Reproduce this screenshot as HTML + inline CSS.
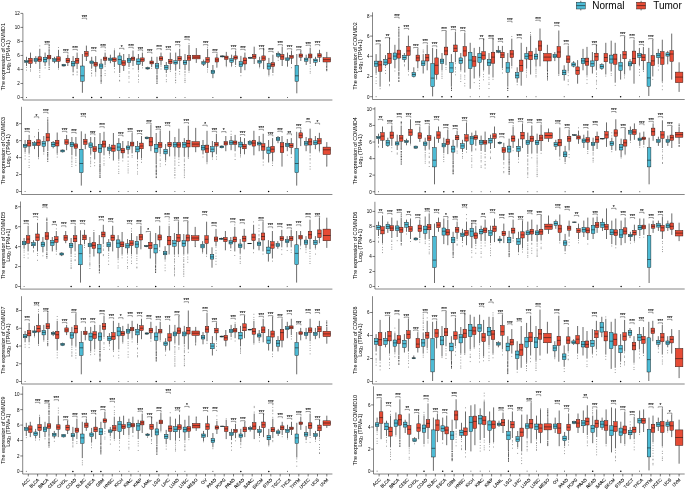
<!DOCTYPE html>
<html><head><meta charset="utf-8"><title>COMMD expression</title>
<style>
html,body{margin:0;padding:0;background:#fff;}
body{width:685px;height:490px;overflow:hidden;font-family:"Liberation Sans",sans-serif;}
svg{display:block;will-change:transform}
svg text{font-family:"Liberation Sans",sans-serif;fill:#111}
.ax{stroke:#222;stroke-width:0.55;fill:none}
.tk{stroke:#222;stroke-width:0.6}
.tl{font-size:45px;fill:#000}
.yt{font-size:53px;fill:#000}
.xl{font-size:44px;fill:#000;stroke:#000;stroke-width:1}
.w{stroke:#111;stroke-width:0.62;fill:none}
.o{stroke:#000;stroke-opacity:0.9;stroke-width:1.0;stroke-linecap:round;fill:none}
.p{stroke-opacity:0.55;stroke-width:0.9}
.b{stroke:#111;stroke-width:0.42}
.m{stroke:#111;stroke-width:0.55;fill:none}
.br{stroke:#111;stroke-width:0.42;fill:none}
.st{font-size:47px;fill:#000;stroke:#000;stroke-width:0.8}
.lg{font-size:10px;fill:#000}
</style></head><body>
<svg width="685" height="490" viewBox="0 0 685 490">
<rect width="685" height="490" fill="#fff"/>
<line x1="22.9" x2="22.9" y1="13.4" y2="100" class="ax"/>
<line x1="22.9" x2="332.4" y1="100" y2="100" class="ax"/>
<line x1="20.5" x2="22.9" y1="97.5" y2="97.5" class="tk"/>
<text transform="translate(19.8,99.4) scale(0.1)" class="tl" text-anchor="end">0</text>
<line x1="20.5" x2="22.9" y1="83.48" y2="83.48" class="tk"/>
<text transform="translate(19.8,85.38) scale(0.1)" class="tl" text-anchor="end">2</text>
<line x1="20.5" x2="22.9" y1="69.46" y2="69.46" class="tk"/>
<text transform="translate(19.8,71.36) scale(0.1)" class="tl" text-anchor="end">4</text>
<line x1="20.5" x2="22.9" y1="55.44" y2="55.44" class="tk"/>
<text transform="translate(19.8,57.34) scale(0.1)" class="tl" text-anchor="end">6</text>
<line x1="20.5" x2="22.9" y1="41.42" y2="41.42" class="tk"/>
<text transform="translate(19.8,43.32) scale(0.1)" class="tl" text-anchor="end">8</text>
<line x1="20.5" x2="22.9" y1="27.4" y2="27.4" class="tk"/>
<text transform="translate(19.8,29.3) scale(0.1)" class="tl" text-anchor="end">10</text>
<line x1="20.5" x2="22.9" y1="13.38" y2="13.38" class="tk"/>
<text transform="translate(19.8,15.28) scale(0.1)" class="tl" text-anchor="end">12</text>
<text transform="translate(5.4,56.7) rotate(-90) scale(0.1)" class="yt" text-anchor="middle">The expression of COMMD1</text>
<text transform="translate(10.4,56.7) rotate(-90) scale(0.1)" class="yt" text-anchor="middle">Log<tspan dy="10" font-size="36">2</tspan><tspan dy="-10"> (TPM+1)</tspan></text>
<path class="o p" d="M26.5 67.4h0M26.5 70.1h0"/><path class="w" d="M26.5 56.8V60.5M26.5 62.5V66"/><rect x="24.7" y="60.5" width="3.6" height="2" fill="#4DBBD5" class="b"/><path class="m" d="M24.7 61.5h3.6"/>
<path class="o p" d="M30.5 69.8h0M30.5 71.1h0"/><path class="w" d="M30.5 52.6V58.2M30.5 63.5V68.1"/><rect x="28.7" y="58.2" width="3.6" height="5.3" fill="#E64B35" class="b"/><path class="m" d="M28.7 60.9h3.6"/>
<path class="o" style="stroke-opacity:0.75" d="M26.5 97.5h0"/>
<path class="w" d="M35.8 56.1V58.2M35.8 61.5V63.9"/><rect x="34" y="58.2" width="3.6" height="3.3" fill="#4DBBD5" class="b"/><path class="m" d="M34 60h3.6"/>
<path class="o p" d="M39.8 45.9h0M39.8 70.4h0M39.8 72.3h0M39.8 75.7h0M39.8 77.3h0"/><path class="w" d="M39.8 48.8V56.8M39.8 61.5V69.1"/><rect x="38" y="56.8" width="3.6" height="4.7" fill="#E64B35" class="b"/><path class="m" d="M38 59.3h3.6"/>
<path class="o p" d="M45.1 67.9h0"/><path class="w" d="M45.1 52.6V57.3M45.1 62V66"/><rect x="43.3" y="57.3" width="3.6" height="4.7" fill="#4DBBD5" class="b"/><path class="m" d="M43.3 59.5h3.6"/>
<path class="o" d="M49.1 50.2h0M49.1 49h0M49.1 47.4h0M49.1 45.8h0M49.1 64.3h0M49.1 65.8h0M49.1 67.6h0M49.1 69.4h0"/><path class="w" d="M49.1 50.5V55.2M49.1 58.9V63.9"/><rect x="47.3" y="55.2" width="3.6" height="3.7" fill="#E64B35" class="b"/><path class="m" d="M47.3 57.1h3.6"/>
<path d="M44.9 44.9v-.8h4.4v1.5" class="br"/>
<text transform="translate(47.14,44.82) scale(0.1)" class="st" text-anchor="middle">***</text>
<path class="w" d="M54.5 56.8V58.7M54.5 61.3V63.2"/><rect x="52.7" y="58.7" width="3.6" height="2.7" fill="#4DBBD5" class="b"/><path class="m" d="M52.7 59.9h3.6"/>
<path class="o p" d="M58.5 47.5h0M58.5 69.1h0"/><path class="w" d="M58.5 49.8V56.8M58.5 61.3V68.1"/><rect x="56.7" y="56.8" width="3.6" height="4.5" fill="#E64B35" class="b"/><path class="m" d="M56.7 59.1h3.6"/>
<path class="w" d="M63.8 63.9V64.4M63.8 66V66.4"/><rect x="62" y="64.4" width="3.6" height="1.6" fill="#4DBBD5" class="b"/><path class="m" d="M62 65.3h3.6"/>
<path class="w" d="M67.8 54.7V58.2M67.8 62.7V66"/><rect x="66" y="58.2" width="3.6" height="4.5" fill="#E64B35" class="b"/><path class="m" d="M66 60.5h3.6"/>
<path d="M63.6 53v-.8h4.4v1.5" class="br"/>
<text transform="translate(65.78,52.88) scale(0.1)" class="st" text-anchor="middle">***</text>
<path class="o p" d="M73.1 74.3h0M73.1 74.9h0"/><path class="w" d="M73.1 56.1V61.5M73.1 66V72.3"/><rect x="71.3" y="61.5" width="3.6" height="4.5" fill="#4DBBD5" class="b"/><path class="m" d="M71.3 63.6h3.6"/>
<path class="o p" d="M77.1 71.3h0M77.1 72.6h0M77.1 74.8h0"/><path class="w" d="M77.1 52.6V58.2M77.1 63.4V69.1"/><rect x="75.3" y="58.2" width="3.6" height="5.1" fill="#E64B35" class="b"/><path class="m" d="M75.3 60.7h3.6"/>
<path class="o" style="stroke-opacity:1;stroke-width:1.5" d="M73.1 97.5h0"/>
<path d="M72.9 50.2v-.8h4.4v1.5" class="br"/>
<text transform="translate(75.1,50.08) scale(0.1)" class="st" text-anchor="middle">***</text>
<path class="w" d="M82.4 54V66M82.4 81.2V92.8"/><rect x="80.6" y="66" width="3.6" height="15.2" fill="#4DBBD5" class="b"/><path class="m" d="M80.6 75.8h3.6"/>
<path class="w" d="M86.4 45.6V51.4M86.4 56.3V61"/><rect x="84.6" y="51.4" width="3.6" height="4.9" fill="#E64B35" class="b"/><path class="m" d="M84.6 53.8h3.6"/>
<path d="M82.2 19v-.8h4.4v1.5" class="br"/>
<text transform="translate(84.43,18.88) scale(0.1)" class="st" text-anchor="middle">***</text>
<path class="o p" d="M91.7 68.6h0M91.7 70.5h0M91.7 72.9h0M91.7 73.7h0M91.7 75.9h0"/><path class="w" d="M91.7 56.8V61M91.7 63.6V68.1"/><rect x="89.9" y="61" width="3.6" height="2.5" fill="#4DBBD5" class="b"/><path class="m" d="M89.9 62.2h3.6"/>
<path class="o p" d="M95.7 74h0M95.7 75.9h0"/><path class="w" d="M95.7 56.1V62.2M95.7 66V72.3"/><rect x="93.9" y="62.2" width="3.6" height="3.9" fill="#E64B35" class="b"/><path class="m" d="M93.9 64.2h3.6"/>
<path class="o" style="stroke-opacity:1;stroke-width:1.5" d="M91.7 97.5h0"/>
<path d="M91.5 51.2v-.8h4.4v1.5" class="br"/>
<text transform="translate(93.75,51.13) scale(0.1)" class="st" text-anchor="middle">***</text>
<path class="o" d="M101.1 75.1h0M101.1 75.8h0M101.1 76.9h0M101.1 78.2h0M101.1 79.8h0M101.1 80.7h0M101.1 81.7h0M101.1 83.1h0"/><path class="w" d="M101.1 58.9V64M101.1 68.3V74.4"/><rect x="99.3" y="64" width="3.6" height="4.3" fill="#4DBBD5" class="b"/><path class="m" d="M99.3 66h3.6"/>
<path class="o p" d="M105.1 50.7h0M105.1 66.6h0M105.1 70.7h0M105.1 73.5h0M105.1 75.4h0"/><path class="w" d="M105.1 52.6V57.1M105.1 60.3V65.3"/><rect x="103.3" y="57.1" width="3.6" height="3.3" fill="#E64B35" class="b"/><path class="m" d="M103.3 58.7h3.6"/>
<path class="o" style="stroke-opacity:1;stroke-width:1.5" d="M101.1 97.5h0"/>
<path d="M100.9 47.7v-.8h4.4v1.5" class="br"/>
<text transform="translate(103.07,47.63) scale(0.1)" class="st" text-anchor="middle">***</text>
<path class="w" d="M110.4 54.7V58.1M110.4 60.5V63.2"/><rect x="108.6" y="58.1" width="3.6" height="2.4" fill="#4DBBD5" class="b"/><path class="m" d="M108.6 59.3h3.6"/>
<path class="o p" d="M114.4 49h0M114.4 68.6h0M114.4 72h0"/><path class="w" d="M114.4 50.2V57.9M114.4 61.5V67"/><rect x="112.6" y="57.9" width="3.6" height="3.6" fill="#E64B35" class="b"/><path class="m" d="M112.6 59.5h3.6"/>
<path class="o p" d="M119.7 74.9h0M119.7 76.5h0M119.7 80.3h0M119.7 81h0"/><path class="w" d="M119.7 52.6V55.9M119.7 64.4V73"/><rect x="117.9" y="55.9" width="3.6" height="8.6" fill="#4DBBD5" class="b"/><path class="m" d="M117.9 59.5h3.6"/>
<path class="w" d="M123.7 54V60.7M123.7 65.6V70.9"/><rect x="121.9" y="60.7" width="3.6" height="4.9" fill="#E64B35" class="b"/><path class="m" d="M121.9 62.9h3.6"/>
<path class="o" style="stroke-opacity:0.65" d="M119.7 97.5h0"/>
<path d="M119.5 49.1v-.8h4.4v1.5" class="br"/>
<text transform="translate(121.72,49.03) scale(0.1)" class="st" text-anchor="middle">*</text>
<path class="o p" d="M129 68.4h0M129 71.8h0M129 73.1h0M129 76.4h0M129 78.1h0M129 82.1h0"/><path class="w" d="M129 54V58.2M129 62.5V67"/><rect x="127.2" y="58.2" width="3.6" height="4.2" fill="#4DBBD5" class="b"/><path class="m" d="M127.2 60.1h3.6"/>
<path class="o p" d="M133 68.8h0"/><path class="w" d="M133 50.5V57.1M133 60.3V66"/><rect x="131.2" y="57.1" width="3.6" height="3.3" fill="#E64B35" class="b"/><path class="m" d="M131.2 58.7h3.6"/>
<path class="o" style="stroke-opacity:0.65" d="M129 97.5h0"/>
<path d="M128.8 48.1v-.8h4.4v1.5" class="br"/>
<text transform="translate(131.04,47.98) scale(0.1)" class="st" text-anchor="middle">***</text>
<path class="o p" d="M138.4 71.8h0M138.4 75h0M138.4 76.3h0M138.4 79.6h0M138.4 82h0"/><path class="w" d="M138.4 54V58.9M138.4 64.4V70.2"/><rect x="136.6" y="58.9" width="3.6" height="5.5" fill="#4DBBD5" class="b"/><path class="m" d="M136.6 61.5h3.6"/>
<path class="o p" d="M142.4 67.8h0"/><path class="w" d="M142.4 52.6V57.9M142.4 61.5V66"/><rect x="140.6" y="57.9" width="3.6" height="3.6" fill="#E64B35" class="b"/><path class="m" d="M140.6 59.7h3.6"/>
<path class="o" style="stroke-opacity:0.65" d="M138.4 97.5h0"/>
<path d="M138.2 50.7v-.8h4.4v1.5" class="br"/>
<text transform="translate(140.36,50.64) scale(0.1)" class="st" text-anchor="middle">***</text>
<path class="w" d="M147.7 66.7V67.6M147.7 69V69.6"/><rect x="145.9" y="67.6" width="3.6" height="1.4" fill="#4DBBD5" class="b"/><path class="m" d="M145.9 68.3h3.6"/>
<path class="o p" d="M151.7 68.4h0"/><path class="w" d="M151.7 56.8V61M151.7 64V67"/><rect x="149.9" y="61" width="3.6" height="2.9" fill="#E64B35" class="b"/><path class="m" d="M149.9 62.5h3.6"/>
<path d="M147.5 53v-.8h4.4v1.5" class="br"/>
<text transform="translate(149.68,52.88) scale(0.1)" class="st" text-anchor="middle">***</text>
<path class="o" d="M157 75.4h0M157 76.6h0M157 77.3h0M157 78.6h0M157 79.2h0M157 80.9h0M157 82h0M157 83.5h0"/><path class="w" d="M157 56.8V63.6M157 68.3V74.4"/><rect x="155.2" y="63.6" width="3.6" height="4.7" fill="#4DBBD5" class="b"/><path class="m" d="M155.2 66h3.6"/>
<path class="o p" d="M161 49h0M161 66.3h0M161 69h0"/><path class="w" d="M161 52.6V56.8M161 60.3V65.3"/><rect x="159.2" y="56.8" width="3.6" height="3.5" fill="#E64B35" class="b"/><path class="m" d="M159.2 58.5h3.6"/>
<path class="o" style="stroke-opacity:1;stroke-width:1.5" d="M157 97.5h0"/>
<path d="M156.8 49.5v-.8h4.4v1.5" class="br"/>
<text transform="translate(159.01,49.38) scale(0.1)" class="st" text-anchor="middle">***</text>
<path class="o p" d="M166.3 74.9h0M166.3 76.2h0M166.3 79.7h0M166.3 81.7h0"/><path class="w" d="M166.3 62V65.4M166.3 69.5V73"/><rect x="164.5" y="65.4" width="3.6" height="4.1" fill="#4DBBD5" class="b"/><path class="m" d="M164.5 67.4h3.6"/>
<path class="o p" d="M170.3 71.4h0"/><path class="w" d="M170.3 52.6V59.5M170.3 63.6V70.2"/><rect x="168.5" y="59.5" width="3.6" height="4.1" fill="#E64B35" class="b"/><path class="m" d="M168.5 61.5h3.6"/>
<path d="M166.1 50.1v-.8h4.4v1.5" class="br"/>
<text transform="translate(168.33,50.01) scale(0.1)" class="st" text-anchor="middle">***</text>
<path class="o p" d="M175.7 70.6h0M175.7 73.2h0M175.7 74h0M175.7 75.8h0M175.7 77.7h0M175.7 80h0M175.7 80.6h0M175.7 82.7h0"/><path class="w" d="M175.7 52.6V60.7M175.7 64V70.2"/><rect x="173.8" y="60.7" width="3.6" height="3.3" fill="#4DBBD5" class="b"/><path class="m" d="M173.8 62.5h3.6"/>
<path class="o p" d="M179.7 46.8h0M179.7 71.5h0M179.7 74h0"/><path class="w" d="M179.7 48.8V56.6M179.7 60.5V69.1"/><rect x="177.8" y="56.6" width="3.6" height="3.9" fill="#E64B35" class="b"/><path class="m" d="M177.8 58.5h3.6"/>
<path class="o" style="stroke-opacity:0.65" d="M175.7 97.5h0"/>
<path d="M175.5 45.4v-.8h4.4v1.5" class="br"/>
<text transform="translate(177.65,45.31) scale(0.1)" class="st" text-anchor="middle">***</text>
<path class="o p" d="M185 71.6h0M185 72.5h0M185 74.4h0M185 76h0M185 78.3h0M185 80.1h0M185 80.7h0M185 82.4h0"/><path class="w" d="M185 54V60.7M185 64.2V70.2"/><rect x="183.2" y="60.7" width="3.6" height="3.5" fill="#4DBBD5" class="b"/><path class="m" d="M183.2 62.5h3.6"/>
<path class="o p" d="M189 43.6h0M189 72.2h0"/><path class="w" d="M189 44.9V55.4M189 60.3V70.9"/><rect x="187.2" y="55.4" width="3.6" height="4.9" fill="#E64B35" class="b"/><path class="m" d="M187.2 57.9h3.6"/>
<path class="o" style="stroke-opacity:0.65" d="M185 97.5h0"/>
<path d="M184.8 40v-.8h4.4v1.5" class="br"/>
<text transform="translate(186.97,39.91) scale(0.1)" class="st" text-anchor="middle">***</text>
<path class="w" d="M196.3 48.1V55.2M196.3 58.9V62.9"/><rect x="192.5" y="55.2" width="7.6" height="3.7" fill="#E64B35" class="b"/><path class="m" d="M192.5 57.1h7.6"/>
<path class="w" d="M203.6 59.6V61.7M203.6 64.2V66"/><rect x="201.8" y="61.7" width="3.6" height="2.5" fill="#4DBBD5" class="b"/><path class="m" d="M201.8 62.9h3.6"/>
<path class="o p" d="M207.6 47.3h0M207.6 69.9h0M207.6 72h0"/><path class="w" d="M207.6 48.8V57.5M207.6 62.5V68.1"/><rect x="205.8" y="57.5" width="3.6" height="4.9" fill="#E64B35" class="b"/><path class="m" d="M205.8 59.7h3.6"/>
<path d="M203.4 45.4v-.8h4.4v1.5" class="br"/>
<text transform="translate(205.62,45.31) scale(0.1)" class="st" text-anchor="middle">***</text>
<path class="w" d="M212.9 65V70.2M212.9 73.5V78.2"/><rect x="211.1" y="70.2" width="3.6" height="3.4" fill="#4DBBD5" class="b"/><path class="m" d="M211.1 71.9h3.6"/>
<path class="o p" d="M216.9 67.5h0"/><path class="w" d="M216.9 54V57.9M216.9 62V67"/><rect x="215.1" y="57.9" width="3.6" height="4.1" fill="#E64B35" class="b"/><path class="m" d="M215.1 59.9h3.6"/>
<path class="o" style="stroke-opacity:0.85" d="M212.9 97.5h0"/>
<path d="M212.7 53v-.8h4.4v1.5" class="br"/>
<text transform="translate(214.94,52.88) scale(0.1)" class="st" text-anchor="middle">***</text>
<path class="w" d="M222.3 55.4V55.9M222.3 56.8V57.4"/><rect x="220.5" y="55.9" width="3.6" height="1" fill="#4DBBD5" class="b"/><path class="m" d="M220.5 56.4h3.6"/>
<path class="o p" d="M226.3 66.7h0"/><path class="w" d="M226.3 51.9V56.1M226.3 59.5V66"/><rect x="224.5" y="56.1" width="3.6" height="3.4" fill="#E64B35" class="b"/><path class="m" d="M224.5 57.7h3.6"/>
<path class="o p" d="M231.6 66.6h0"/><path class="w" d="M231.6 54.7V58.5M231.6 62.2V66"/><rect x="229.8" y="58.5" width="3.6" height="3.7" fill="#4DBBD5" class="b"/><path class="m" d="M229.8 60.3h3.6"/>
<path class="o p" d="M235.6 66.5h0"/><path class="w" d="M235.6 50.7V55.9M235.6 59.1V65"/><rect x="233.8" y="55.9" width="3.6" height="3.2" fill="#E64B35" class="b"/><path class="m" d="M233.8 57.5h3.6"/>
<path d="M231.4 49.5v-.8h4.4v1.5" class="br"/>
<text transform="translate(233.58,49.38) scale(0.1)" class="st" text-anchor="middle">***</text>
<path class="o p" d="M240.9 75.7h0"/><path class="w" d="M240.9 55.9V61.7M240.9 66.7V73"/><rect x="239.1" y="61.7" width="3.6" height="4.9" fill="#4DBBD5" class="b"/><path class="m" d="M239.1 64.2h3.6"/>
<path class="w" d="M244.9 52.6V57.9M244.9 64V70.2"/><rect x="243.1" y="57.9" width="3.6" height="6.1" fill="#E64B35" class="b"/><path class="m" d="M243.1 60.5h3.6"/>
<path class="o" style="stroke-opacity:1;stroke-width:1.5" d="M240.9 97.5h0"/>
<path d="M240.7 50.1v-.8h4.4v1.5" class="br"/>
<text transform="translate(242.91,50.01) scale(0.1)" class="st" text-anchor="middle">***</text>
<path class="w" d="M250.2 56.8V57.3M250.2 58.2V58.7"/><rect x="248.4" y="57.3" width="3.6" height="1" fill="#4DBBD5" class="b"/><path class="m" d="M248.4 57.8h3.6"/>
<path class="w" d="M254.2 46.7V54.5M254.2 58.5V64"/><rect x="252.4" y="54.5" width="3.6" height="4" fill="#E64B35" class="b"/><path class="m" d="M252.4 56.4h3.6"/>
<path class="o p" d="M259.6 67.8h0"/><path class="w" d="M259.6 56.8V60.3M259.6 63.2V67"/><rect x="257.8" y="60.3" width="3.6" height="2.8" fill="#4DBBD5" class="b"/><path class="m" d="M257.8 61.7h3.6"/>
<path class="w" d="M263.6 47.7V55.9M263.6 60.3V69.1"/><rect x="261.8" y="55.9" width="3.6" height="4.5" fill="#E64B35" class="b"/><path class="m" d="M261.8 58.1h3.6"/>
<path d="M259.4 49.5v-.8h4.4v1.5" class="br"/>
<text transform="translate(261.55,49.38) scale(0.1)" class="st" text-anchor="middle">***</text>
<path class="o p" d="M268.9 75.9h0"/><path class="w" d="M268.9 57.9V63.6M268.9 69V75.1"/><rect x="267.1" y="63.6" width="3.6" height="5.5" fill="#4DBBD5" class="b"/><path class="m" d="M267.1 66.2h3.6"/>
<path class="o p" d="M272.9 74.9h0"/><path class="w" d="M272.9 54.7V62.7M272.9 66.7V73"/><rect x="271.1" y="62.7" width="3.6" height="3.9" fill="#E64B35" class="b"/><path class="m" d="M271.1 64.6h3.6"/>
<path class="o" style="stroke-opacity:1;stroke-width:1.5" d="M268.9 97.5h0"/>
<path d="M268.7 52.1v-.8h4.4v1.5" class="br"/>
<text transform="translate(270.87,52.04) scale(0.1)" class="st" text-anchor="middle">***</text>
<path class="o p" d="M278.2 60.3h0"/><path class="w" d="M278.2 51.4V53.4M278.2 56.3V58.2"/><rect x="276.4" y="53.4" width="3.6" height="2.9" fill="#4DBBD5" class="b"/><path class="m" d="M276.4 54.8h3.6"/>
<path class="w" d="M282.2 46.7V54.5M282.2 59.5V66"/><rect x="280.4" y="54.5" width="3.6" height="5" fill="#E64B35" class="b"/><path class="m" d="M280.4 56.8h3.6"/>
<path d="M278 45.4v-.8h4.4v1.5" class="br"/>
<text transform="translate(280.2,45.31) scale(0.1)" class="st" text-anchor="middle">***</text>
<path class="o p" d="M287.5 66.5h0"/><path class="w" d="M287.5 52.6V57.9M287.5 60.3V66"/><rect x="285.7" y="57.9" width="3.6" height="2.5" fill="#4DBBD5" class="b"/><path class="m" d="M285.7 59.1h3.6"/>
<path class="o p" d="M291.5 67.7h0"/><path class="w" d="M291.5 50.7V55.4M291.5 58.2V64"/><rect x="289.7" y="55.4" width="3.6" height="2.8" fill="#E64B35" class="b"/><path class="m" d="M289.7 56.8h3.6"/>
<path class="o" style="stroke-opacity:0.75" d="M287.5 97.5h0"/>
<path d="M287.3 49.5v-.8h4.4v1.5" class="br"/>
<text transform="translate(289.52,49.38) scale(0.1)" class="st" text-anchor="middle">***</text>
<path class="w" d="M296.8 54V65.3M296.8 81.2V93.3"/><rect x="295" y="65.3" width="3.6" height="16" fill="#4DBBD5" class="b"/><path class="m" d="M295 75.8h3.6"/>
<path class="w" d="M300.8 50.7V54M300.8 57.3V61"/><rect x="299" y="54" width="3.6" height="3.2" fill="#E64B35" class="b"/><path class="m" d="M299 55.7h3.6"/>
<path d="M296.6 50.5v-.8h4.4v1.5" class="br"/>
<text transform="translate(298.84,50.43) scale(0.1)" class="st" text-anchor="middle">***</text>
<path class="w" d="M306.2 54.7V58.1M306.2 61.3V65"/><rect x="304.4" y="58.1" width="3.6" height="3.2" fill="#4DBBD5" class="b"/><path class="m" d="M304.4 59.7h3.6"/>
<path class="o p" d="M310.2 66.1h0M310.2 68.9h0M310.2 71.4h0M310.2 73.1h0"/><path class="w" d="M310.2 47.7V54M310.2 57.9V64"/><rect x="308.4" y="54" width="3.6" height="3.9" fill="#E64B35" class="b"/><path class="m" d="M308.4 55.9h3.6"/>
<path d="M306 46v-.8h4.4v1.5" class="br"/>
<text transform="translate(308.16,45.94) scale(0.1)" class="st" text-anchor="middle">***</text>
<path class="w" d="M315.5 56.8V59.1M315.5 62.2V66"/><rect x="313.7" y="59.1" width="3.6" height="3.1" fill="#4DBBD5" class="b"/><path class="m" d="M313.7 60.5h3.6"/>
<path class="w" d="M319.5 49.8V53.8M319.5 57.3V62"/><rect x="317.7" y="53.8" width="3.6" height="3.4" fill="#E64B35" class="b"/><path class="m" d="M317.7 55.4h3.6"/>
<path d="M315.3 45.4v-.8h4.4v1.5" class="br"/>
<text transform="translate(317.48,45.31) scale(0.1)" class="st" text-anchor="middle">***</text>
<path class="o" d="M326.8 66.5h0M326.8 67.4h0M326.8 69h0M326.8 69.6h0M326.8 70.7h0"/><path class="w" d="M326.8 51.9V57.7M326.8 62V66"/><rect x="323" y="57.7" width="7.6" height="4.3" fill="#E64B35" class="b"/><path class="m" d="M323 59.7h7.6"/>
<line x1="21.5" x2="21.5" y1="106.8" y2="194.5" class="ax"/>
<line x1="21.5" x2="332.4" y1="194.5" y2="194.5" class="ax"/>
<line x1="19.1" x2="21.5" y1="191.5" y2="191.5" class="tk"/>
<text transform="translate(18.4,193.4) scale(0.1)" class="tl" text-anchor="end">0</text>
<line x1="19.1" x2="21.5" y1="174.54" y2="174.54" class="tk"/>
<text transform="translate(18.4,176.44) scale(0.1)" class="tl" text-anchor="end">2</text>
<line x1="19.1" x2="21.5" y1="157.58" y2="157.58" class="tk"/>
<text transform="translate(18.4,159.48) scale(0.1)" class="tl" text-anchor="end">4</text>
<line x1="19.1" x2="21.5" y1="140.62" y2="140.62" class="tk"/>
<text transform="translate(18.4,142.52) scale(0.1)" class="tl" text-anchor="end">6</text>
<line x1="19.1" x2="21.5" y1="123.66" y2="123.66" class="tk"/>
<text transform="translate(18.4,125.56) scale(0.1)" class="tl" text-anchor="end">8</text>
<text transform="translate(5.4,150.65) rotate(-90) scale(0.1)" class="yt" text-anchor="middle">The expression of COMMD3</text>
<text transform="translate(10.4,150.65) rotate(-90) scale(0.1)" class="yt" text-anchor="middle">Log<tspan dy="10" font-size="36">2</tspan><tspan dy="-10"> (TPM+1)</tspan></text>
<path class="o p" d="M25.1 153.2h0M25.1 155.9h0M25.1 159h0"/><path class="w" d="M25.1 140V144.3M25.1 147.1V152.2"/><rect x="23.3" y="144.3" width="3.6" height="2.9" fill="#4DBBD5" class="b"/><path class="m" d="M23.3 145.7h3.6"/>
<path class="o p" d="M29.1 154h0M29.1 156.6h0M29.1 159.6h0M29.1 162.2h0M29.1 165.5h0M29.1 167.5h0"/><path class="w" d="M29.1 134.9V140.2M29.1 146.1V153.3"/><rect x="27.3" y="140.2" width="3.6" height="5.9" fill="#E64B35" class="b"/><path class="m" d="M27.3 143.1h3.6"/>
<path class="o" style="stroke-opacity:0.65" d="M25.1 191.5h0"/>
<path d="M24.9 132.1v-.8h4.4v1.5" class="br"/>
<text transform="translate(27.12,132.04) scale(0.1)" class="st" text-anchor="middle">***</text>
<path class="o p" d="M34.5 136.8h0"/><path class="w" d="M34.5 141V142.7M34.5 145.5V149.1"/><rect x="32.7" y="142.7" width="3.6" height="2.9" fill="#4DBBD5" class="b"/><path class="m" d="M32.7 144.1h3.6"/>
<path class="o p" d="M38.5 129.7h0M38.5 158.7h0"/><path class="w" d="M38.5 131.8V139.8M38.5 145.5V157.4"/><rect x="36.7" y="139.8" width="3.6" height="5.8" fill="#E64B35" class="b"/><path class="m" d="M36.7 142.7h3.6"/>
<path d="M34.3 117.6v-.8h4.4v1.5" class="br"/>
<text transform="translate(36.48,117.54) scale(0.1)" class="st" text-anchor="middle">*</text>
<path class="o p" d="M43.8 154h0"/><path class="w" d="M43.8 136V141.5M43.8 146.3V152.2"/><rect x="42" y="141.5" width="3.6" height="4.8" fill="#4DBBD5" class="b"/><path class="m" d="M42 143.7h3.6"/>
<path class="o" d="M47.8 122.2h0M47.8 120.9h0M47.8 119.9h0M47.8 117.9h0M47.8 152.5h0M47.8 153.2h0M47.8 154.5h0M47.8 155.4h0M47.8 156.7h0M47.8 158.2h0M47.8 159.4h0M47.8 161.3h0"/><path class="w" d="M47.8 122.8V133.5M47.8 141V151.2"/><rect x="46" y="133.5" width="3.6" height="7.5" fill="#E64B35" class="b"/><path class="m" d="M46 137.3h3.6"/>
<path d="M43.6 113.1v-.8h4.4v1.5" class="br"/>
<text transform="translate(45.85,113.05) scale(0.1)" class="st" text-anchor="middle">***</text>
<path class="w" d="M53.2 141V142.5M53.2 146.7V148.3"/><rect x="51.4" y="142.5" width="3.6" height="4.2" fill="#4DBBD5" class="b"/><path class="m" d="M51.4 144.5h3.6"/>
<path class="o p" d="M57.2 154.6h0M57.2 157.1h0"/><path class="w" d="M57.2 132.5V140.2M57.2 146V153.7"/><rect x="55.4" y="140.2" width="3.6" height="5.8" fill="#E64B35" class="b"/><path class="m" d="M55.4 143.1h3.6"/>
<path class="w" d="M62.6 149.5V150M62.6 151.9V152.5"/><rect x="60.8" y="150" width="3.6" height="1.9" fill="#4DBBD5" class="b"/><path class="m" d="M60.8 150.8h3.6"/>
<path class="w" d="M66.6 134.9V139.6M66.6 144.3V150.2"/><rect x="64.8" y="139.6" width="3.6" height="4.7" fill="#E64B35" class="b"/><path class="m" d="M64.8 142.1h3.6"/>
<path d="M62.4 132.1v-.8h4.4v1.5" class="br"/>
<text transform="translate(64.58,132.04) scale(0.1)" class="st" text-anchor="middle">***</text>
<path class="o p" d="M71.9 156.8h0M71.9 157.9h0M71.9 159h0M71.9 161.1h0M71.9 162.1h0M71.9 164.3h0M71.9 166.5h0"/><path class="w" d="M71.9 137V142.3M71.9 146.7V155.3"/><rect x="70.1" y="142.3" width="3.6" height="4.4" fill="#4DBBD5" class="b"/><path class="m" d="M70.1 144.3h3.6"/>
<path class="o p" d="M75.9 158.7h0M75.9 160.9h0M75.9 162.5h0M75.9 165.3h0"/><path class="w" d="M75.9 137V143.9M75.9 148.3V156.4"/><rect x="74.1" y="143.9" width="3.6" height="4.3" fill="#E64B35" class="b"/><path class="m" d="M74.1 146h3.6"/>
<path class="o" style="stroke-opacity:1;stroke-width:1.5" d="M71.9 191.5h0"/>
<path d="M71.7 133.2v-.8h4.4v1.5" class="br"/>
<text transform="translate(73.94,133.14) scale(0.1)" class="st" text-anchor="middle">***</text>
<path class="w" d="M81.3 131.3V149.2M81.3 172.7V185.6"/><rect x="79.5" y="149.2" width="3.6" height="23.5" fill="#4DBBD5" class="b"/><path class="m" d="M79.5 163.5h3.6"/>
<path class="w" d="M85.3 133.8V139.4M85.3 144.5V149.2"/><rect x="83.5" y="139.4" width="3.6" height="5.1" fill="#E64B35" class="b"/><path class="m" d="M83.5 141.8h3.6"/>
<path d="M81.1 116.9v-.8h4.4v1.5" class="br"/>
<text transform="translate(83.31,116.78) scale(0.1)" class="st" text-anchor="middle">***</text>
<path class="o p" d="M90.7 154.9h0M90.7 157.5h0M90.7 158.9h0M90.7 161h0M90.7 162.1h0M90.7 163.7h0M90.7 166.3h0"/><path class="w" d="M90.7 137V142.9M90.7 147.6V154.3"/><rect x="88.9" y="142.9" width="3.6" height="4.7" fill="#4DBBD5" class="b"/><path class="m" d="M88.9 145.1h3.6"/>
<path class="o p" d="M94.7 162.7h0M94.7 165.7h0"/><path class="w" d="M94.7 137V146.6M94.7 151.6V159.4"/><rect x="92.9" y="146.6" width="3.6" height="5.1" fill="#E64B35" class="b"/><path class="m" d="M92.9 149h3.6"/>
<path class="o" style="stroke-opacity:1;stroke-width:1.5" d="M90.7 191.5h0"/>
<path d="M90.5 134.6v-.8h4.4v1.5" class="br"/>
<text transform="translate(92.67,134.5) scale(0.1)" class="st" text-anchor="middle">***</text>
<path class="o" d="M100 164.5h0M100 165.6h0M100 166.6h0M100 167.3h0M100 168.6h0M100 169.6h0M100 170.4h0M100 171.5h0M100 172.9h0M100 173.9h0M100 175.4h0M100 176.8h0M100 177.4h0"/><path class="w" d="M100 133V144.3M100 152.2V163.5"/><rect x="98.2" y="144.3" width="3.6" height="8" fill="#4DBBD5" class="b"/><path class="m" d="M98.2 148.4h3.6"/>
<path class="o p" d="M104 158h0M104 160.9h0M104 163.6h0M104 165.1h0"/><path class="w" d="M104 131.8V141M104 147.1V155.3"/><rect x="102.2" y="141" width="3.6" height="6.1" fill="#E64B35" class="b"/><path class="m" d="M102.2 144.1h3.6"/>
<path class="o" style="stroke-opacity:1;stroke-width:1.5" d="M100 191.5h0"/>
<path d="M99.8 127.5v-.8h4.4v1.5" class="br"/>
<text transform="translate(102.03,127.38) scale(0.1)" class="st" text-anchor="middle">***</text>
<path class="o p" d="M109.4 155.2h0M109.4 157.7h0"/><path class="w" d="M109.4 144V147.1M109.4 150.6V154.3"/><rect x="107.6" y="147.1" width="3.6" height="3.5" fill="#4DBBD5" class="b"/><path class="m" d="M107.6 148.8h3.6"/>
<path class="w" d="M113.4 133V145.1M113.4 151.2V160.5"/><rect x="111.6" y="145.1" width="3.6" height="6.1" fill="#E64B35" class="b"/><path class="m" d="M111.6 148.3h3.6"/>
<path class="o p" d="M118.8 160.3h0M118.8 162.9h0M118.8 166.2h0M118.8 169.3h0M118.8 171.7h0M118.8 173.5h0"/><path class="w" d="M118.8 138.1V143.5M118.8 150.6V159.4"/><rect x="117" y="143.5" width="3.6" height="7.1" fill="#4DBBD5" class="b"/><path class="m" d="M117 147.1h3.6"/>
<path class="o p" d="M122.8 160.9h0"/><path class="w" d="M122.8 141V148.4M122.8 152.9V158.4"/><rect x="121" y="148.4" width="3.6" height="4.5" fill="#E64B35" class="b"/><path class="m" d="M121 150.6h3.6"/>
<path class="o" style="stroke-opacity:0.65" d="M118.8 191.5h0"/>
<path d="M118.6 136v-.8h4.4v1.5" class="br"/>
<text transform="translate(120.76,135.94) scale(0.1)" class="st" text-anchor="middle">***</text>
<path class="o p" d="M128.1 156.4h0M128.1 157.5h0M128.1 161.2h0M128.1 164.2h0M128.1 166.5h0M128.1 169h0M128.1 170.9h0M128.1 172.9h0"/><path class="w" d="M128.1 141V146M128.1 149.2V154.3"/><rect x="126.3" y="146" width="3.6" height="3.2" fill="#4DBBD5" class="b"/><path class="m" d="M126.3 147.6h3.6"/>
<path class="o p" d="M132.1 155.5h0M132.1 157.1h0"/><path class="w" d="M132.1 133V142.1M132.1 146V153.3"/><rect x="130.3" y="142.1" width="3.6" height="3.9" fill="#E64B35" class="b"/><path class="m" d="M130.3 143.9h3.6"/>
<path class="o" style="stroke-opacity:0.65" d="M128.1 191.5h0"/>
<path d="M127.9 132.1v-.8h4.4v1.5" class="br"/>
<text transform="translate(130.13,132.04) scale(0.1)" class="st" text-anchor="middle">***</text>
<path class="o p" d="M137.5 161.6h0M137.5 164.4h0M137.5 165.8h0M137.5 168.3h0M137.5 171.9h0M137.5 174h0"/><path class="w" d="M137.5 141V146.3M137.5 151.9V159.4"/><rect x="135.7" y="146.3" width="3.6" height="5.6" fill="#4DBBD5" class="b"/><path class="m" d="M135.7 149.2h3.6"/>
<path class="o p" d="M141.5 159.4h0M141.5 162.3h0"/><path class="w" d="M141.5 136V143.1M141.5 148.8V158.4"/><rect x="139.7" y="143.1" width="3.6" height="5.7" fill="#E64B35" class="b"/><path class="m" d="M139.7 146h3.6"/>
<path class="o" style="stroke-opacity:0.65" d="M137.5 191.5h0"/>
<path d="M137.3 134.3v-.8h4.4v1.5" class="br"/>
<text transform="translate(139.49,134.16) scale(0.1)" class="st" text-anchor="middle">***</text>
<path class="w" d="M146.9 136.5V137.1M146.9 138.8V139.3"/><rect x="145.1" y="137.1" width="3.6" height="1.6" fill="#4DBBD5" class="b"/><path class="m" d="M145.1 138h3.6"/>
<path class="w" d="M150.9 124.7V137.3M150.9 146V151.2"/><rect x="149.1" y="137.3" width="3.6" height="8.6" fill="#E64B35" class="b"/><path class="m" d="M149.1 141.8h3.6"/>
<path d="M146.7 123.8v-.8h4.4v1.5" class="br"/>
<text transform="translate(148.86,123.73) scale(0.1)" class="st" text-anchor="middle">***</text>
<path class="o" d="M156.2 163.9h0M156.2 165.6h0M156.2 166.7h0M156.2 167.2h0M156.2 168.9h0M156.2 170.2h0M156.2 171h0M156.2 171.8h0M156.2 173.1h0M156.2 173.8h0M156.2 174.8h0M156.2 176.8h0M156.2 177.6h0"/><path class="w" d="M156.2 133V144.3M156.2 152.2V163.5"/><rect x="154.4" y="144.3" width="3.6" height="8" fill="#4DBBD5" class="b"/><path class="m" d="M154.4 148.6h3.6"/>
<path class="o p" d="M160.2 155.8h0M160.2 159.1h0M160.2 160.5h0M160.2 163.9h0M160.2 166.2h0"/><path class="w" d="M160.2 130.8V142.5M160.2 147.6V154.3"/><rect x="158.4" y="142.5" width="3.6" height="5.1" fill="#E64B35" class="b"/><path class="m" d="M158.4 144.9h3.6"/>
<path class="o" style="stroke-opacity:1;stroke-width:1.5" d="M156.2 191.5h0"/>
<path d="M156 129.9v-.8h4.4v1.5" class="br"/>
<text transform="translate(158.22,129.75) scale(0.1)" class="st" text-anchor="middle">***</text>
<path class="o p" d="M165.6 161.6h0M165.6 164.7h0"/><path class="w" d="M165.6 144V149.2M165.6 153.9V160.5"/><rect x="163.8" y="149.2" width="3.6" height="4.7" fill="#4DBBD5" class="b"/><path class="m" d="M163.8 151.6h3.6"/>
<path class="w" d="M169.6 130.8V142.3M169.6 146.7V156.4"/><rect x="167.8" y="142.3" width="3.6" height="4.4" fill="#E64B35" class="b"/><path class="m" d="M167.8 144.5h3.6"/>
<path d="M165.4 126v-.8h4.4v1.5" class="br"/>
<text transform="translate(167.59,125.94) scale(0.1)" class="st" text-anchor="middle">***</text>
<path class="o p" d="M174.9 157.1h0M174.9 158.7h0M174.9 160.8h0M174.9 162h0M174.9 163.9h0M174.9 165.2h0M174.9 167.9h0M174.9 168.8h0M174.9 170.6h0M174.9 172.4h0M174.9 174.5h0M174.9 175.5h0M174.9 177.8h0"/><path class="w" d="M174.9 137V142.5M174.9 147V156.4"/><rect x="173.1" y="142.5" width="3.6" height="4.5" fill="#4DBBD5" class="b"/><path class="m" d="M173.1 144.7h3.6"/>
<path class="o p" d="M178.9 159.2h0M178.9 162.4h0M178.9 165.4h0"/><path class="w" d="M178.9 128.7V142.5M178.9 147.4V157.4"/><rect x="177.1" y="142.5" width="3.6" height="4.9" fill="#E64B35" class="b"/><path class="m" d="M177.1 144.9h3.6"/>
<path class="o" style="stroke-opacity:0.65" d="M174.9 191.5h0"/>
<path class="o p" d="M184.3 156.7h0M184.3 159h0M184.3 160.3h0M184.3 161.7h0M184.3 164.4h0M184.3 165.2h0M184.3 167.3h0M184.3 169.3h0M184.3 170.7h0M184.3 172.1h0M184.3 174h0M184.3 175.7h0M184.3 177.6h0"/><path class="w" d="M184.3 138.1V142.5M184.3 147.1V156.4"/><rect x="182.5" y="142.5" width="3.6" height="4.7" fill="#4DBBD5" class="b"/><path class="m" d="M182.5 144.7h3.6"/>
<path class="o p" d="M188.3 158.3h0"/><path class="w" d="M188.3 125.7V140.2M188.3 147V157.4"/><rect x="186.5" y="140.2" width="3.6" height="6.8" fill="#E64B35" class="b"/><path class="m" d="M186.5 143.5h3.6"/>
<path class="o" style="stroke-opacity:0.65" d="M184.3 191.5h0"/>
<path d="M184.1 123.4v-.8h4.4v1.5" class="br"/>
<text transform="translate(186.31,123.31) scale(0.1)" class="st" text-anchor="middle">***</text>
<path class="w" d="M195.7 127.9V141.6M195.7 147V152.2"/><rect x="191.9" y="141.6" width="7.6" height="5.3" fill="#E64B35" class="b"/><path class="m" d="M191.9 144.1h7.6"/>
<path class="o p" d="M203 157h0"/><path class="w" d="M203 140V145.5M203 150V154.3"/><rect x="201.2" y="145.5" width="3.6" height="4.5" fill="#4DBBD5" class="b"/><path class="m" d="M201.2 147.7h3.6"/>
<path class="o p" d="M207 163.7h0"/><path class="w" d="M207 130.8V145.1M207 152.7V162.5"/><rect x="205.2" y="145.1" width="3.6" height="7.5" fill="#E64B35" class="b"/><path class="m" d="M205.2 148.8h3.6"/>
<path d="M202.8 126v-.8h4.4v1.5" class="br"/>
<text transform="translate(205.04,125.94) scale(0.1)" class="st" text-anchor="middle">*</text>
<path class="o p" d="M212.4 159.1h0"/><path class="w" d="M212.4 141V146.7M212.4 151.9V157.4"/><rect x="210.6" y="146.7" width="3.6" height="5.2" fill="#4DBBD5" class="b"/><path class="m" d="M210.6 149.2h3.6"/>
<path class="o p" d="M216.4 156.8h0M216.4 159.2h0"/><path class="w" d="M216.4 133.8V142.5M216.4 146.1V154.3"/><rect x="214.6" y="142.5" width="3.6" height="3.6" fill="#E64B35" class="b"/><path class="m" d="M214.6 144.3h3.6"/>
<path class="o" style="stroke-opacity:0.85" d="M212.4 191.5h0"/>
<path d="M212.2 132.1v-.8h4.4v1.5" class="br"/>
<text transform="translate(214.41,132.04) scale(0.1)" class="st" text-anchor="middle">***</text>
<path class="w" d="M221.8 145.5V146M221.8 147.7V148.3"/><rect x="220" y="146" width="3.6" height="1.8" fill="#4DBBD5" class="b"/><path class="m" d="M220 146.7h3.6"/>
<path class="w" d="M225.8 136V141.5M225.8 144.9V151.2"/><rect x="224" y="141.5" width="3.6" height="3.5" fill="#E64B35" class="b"/><path class="m" d="M224 143.1h3.6"/>
<path d="M221.6 132.4v-.8h4.4v1.5" class="br"/>
<text transform="translate(223.77,132.3) scale(0.1)" class="st" text-anchor="middle">*</text>
<path class="o p" d="M231.1 134.3h0M231.1 131.3h0"/><path class="w" d="M231.1 136V140.8M231.1 144.5V150.2"/><rect x="229.3" y="140.8" width="3.6" height="3.7" fill="#4DBBD5" class="b"/><path class="m" d="M229.3 142.7h3.6"/>
<path class="o p" d="M235.1 154.1h0M235.1 156h0M235.1 159.5h0"/><path class="w" d="M235.1 134.9V141M235.1 144.5V151.2"/><rect x="233.3" y="141" width="3.6" height="3.5" fill="#E64B35" class="b"/><path class="m" d="M233.3 142.7h3.6"/>
<path class="o p" d="M240.5 155.3h0M240.5 156.9h0"/><path class="w" d="M240.5 137V142.1M240.5 147V154.3"/><rect x="238.7" y="142.1" width="3.6" height="4.9" fill="#4DBBD5" class="b"/><path class="m" d="M238.7 144.3h3.6"/>
<path class="w" d="M244.5 138.1V144.3M244.5 148.8V154.3"/><rect x="242.7" y="144.3" width="3.6" height="4.5" fill="#E64B35" class="b"/><path class="m" d="M242.7 146.6h3.6"/>
<path class="o" style="stroke-opacity:1;stroke-width:1.5" d="M240.5 191.5h0"/>
<path d="M240.3 135.3v-.8h4.4v1.5" class="br"/>
<text transform="translate(242.5,135.18) scale(0.1)" class="st" text-anchor="middle">***</text>
<path class="w" d="M249.9 140V141.2M249.9 144.5V145.5"/><rect x="248.1" y="141.2" width="3.6" height="3.3" fill="#4DBBD5" class="b"/><path class="m" d="M248.1 142.9h3.6"/>
<path class="w" d="M253.9 130.8V140.2M253.9 146.1V155.3"/><rect x="252.1" y="140.2" width="3.6" height="5.9" fill="#E64B35" class="b"/><path class="m" d="M252.1 143.1h3.6"/>
<path class="w" d="M259.2 136V142.1M259.2 144.9V151.2"/><rect x="257.4" y="142.1" width="3.6" height="2.9" fill="#4DBBD5" class="b"/><path class="m" d="M257.4 143.5h3.6"/>
<path class="o p" d="M263.2 162.1h0M263.2 165h0"/><path class="w" d="M263.2 133.8V143.7M263.2 150.2V159.4"/><rect x="261.4" y="143.7" width="3.6" height="6.5" fill="#E64B35" class="b"/><path class="m" d="M261.4 146.7h3.6"/>
<path d="M259 130.1v-.8h4.4v1.5" class="br"/>
<text transform="translate(261.23,130.01) scale(0.1)" class="st" text-anchor="middle">***</text>
<path class="w" d="M268.6 140V147.1M268.6 153.7V162.5"/><rect x="266.8" y="147.1" width="3.6" height="6.5" fill="#4DBBD5" class="b"/><path class="m" d="M266.8 150.2h3.6"/>
<path class="o p" d="M272.6 163.1h0M272.6 165.5h0"/><path class="w" d="M272.6 138.1V146.3M272.6 152.2V161.5"/><rect x="270.8" y="146.3" width="3.6" height="5.9" fill="#E64B35" class="b"/><path class="m" d="M270.8 149.2h3.6"/>
<path class="o" style="stroke-opacity:1;stroke-width:1.5" d="M268.6 191.5h0"/>
<path d="M268.4 135.6v-.8h4.4v1.5" class="br"/>
<text transform="translate(270.59,135.52) scale(0.1)" class="st" text-anchor="middle">***</text>
<path class="w" d="M278 136V137.3M278 140.6V143.2"/><rect x="276.2" y="137.3" width="3.6" height="3.3" fill="#4DBBD5" class="b"/><path class="m" d="M276.2 139h3.6"/>
<path class="w" d="M282 136V142.7M282 152.7V166.6"/><rect x="280.2" y="142.7" width="3.6" height="10" fill="#E64B35" class="b"/><path class="m" d="M280.2 146.7h3.6"/>
<path d="M277.8 132v-.8h4.4v1.5" class="br"/>
<text transform="translate(279.96,131.87) scale(0.1)" class="st" text-anchor="middle">***</text>
<path class="o p" d="M287.3 155.1h0"/><path class="w" d="M287.3 139V143.2M287.3 146.7V151.2"/><rect x="285.5" y="143.2" width="3.6" height="3.5" fill="#4DBBD5" class="b"/><path class="m" d="M285.5 144.9h3.6"/>
<path class="o p" d="M291.3 157.4h0"/><path class="w" d="M291.3 138.1V143.7M291.3 147.6V154.3"/><rect x="289.5" y="143.7" width="3.6" height="3.9" fill="#E64B35" class="b"/><path class="m" d="M289.5 145.5h3.6"/>
<path class="o" style="stroke-opacity:0.75" d="M287.3 191.5h0"/>
<path d="M287.1 134.6v-.8h4.4v1.5" class="br"/>
<text transform="translate(289.32,134.5) scale(0.1)" class="st" text-anchor="middle">**</text>
<path class="w" d="M296.7 131.8V148.4M296.7 172.7V185.6"/><rect x="294.9" y="148.4" width="3.6" height="24.3" fill="#4DBBD5" class="b"/><path class="m" d="M294.9 163.5h3.6"/>
<path class="w" d="M300.7 129.8V132.8M300.7 138V146.1"/><rect x="298.9" y="132.8" width="3.6" height="5.2" fill="#E64B35" class="b"/><path class="m" d="M298.9 135.3h3.6"/>
<path d="M296.5 128.5v-.8h4.4v1.5" class="br"/>
<text transform="translate(298.69,128.4) scale(0.1)" class="st" text-anchor="middle">***</text>
<path class="w" d="M306.1 137V141.5M306.1 145.1V151.2"/><rect x="304.3" y="141.5" width="3.6" height="3.6" fill="#4DBBD5" class="b"/><path class="m" d="M304.3 143.2h3.6"/>
<path class="o p" d="M310.1 155.8h0M310.1 158.6h0M310.1 159.8h0M310.1 163.1h0M310.1 166.6h0M310.1 169.1h0"/><path class="w" d="M310.1 128.7V138.8M310.1 144.9V153.3"/><rect x="308.3" y="138.8" width="3.6" height="6.2" fill="#E64B35" class="b"/><path class="m" d="M308.3 141.8h3.6"/>
<path d="M305.9 122.4v-.8h4.4v1.5" class="br"/>
<text transform="translate(308.05,122.29) scale(0.1)" class="st" text-anchor="middle">**</text>
<path class="w" d="M315.4 136V140.8M315.4 144.7V149.2"/><rect x="313.6" y="140.8" width="3.6" height="3.9" fill="#4DBBD5" class="b"/><path class="m" d="M313.6 142.7h3.6"/>
<path class="o p" d="M319.4 151.9h0"/><path class="w" d="M319.4 132.8V138.6M319.4 143.9V151.2"/><rect x="317.6" y="138.6" width="3.6" height="5.3" fill="#E64B35" class="b"/><path class="m" d="M317.6 141h3.6"/>
<path d="M315.2 124v-.8h4.4v1.5" class="br"/>
<text transform="translate(317.42,123.9) scale(0.1)" class="st" text-anchor="middle">*</text>
<path class="o" d="M326.8 166h0"/><path class="w" d="M326.8 142.1V147.1M326.8 154.7V165.6"/><rect x="323" y="147.1" width="7.6" height="7.5" fill="#E64B35" class="b"/><path class="m" d="M323 149.8h7.6"/>
<line x1="20.5" x2="20.5" y1="201.5" y2="289.1" class="ax"/>
<line x1="20.5" x2="332.4" y1="289.1" y2="289.1" class="ax"/>
<line x1="18.1" x2="20.5" y1="286.5" y2="286.5" class="tk"/>
<text transform="translate(17.4,288.4) scale(0.1)" class="tl" text-anchor="end">0</text>
<line x1="18.1" x2="20.5" y1="266.56" y2="266.56" class="tk"/>
<text transform="translate(17.4,268.46) scale(0.1)" class="tl" text-anchor="end">2</text>
<line x1="18.1" x2="20.5" y1="246.62" y2="246.62" class="tk"/>
<text transform="translate(17.4,248.52) scale(0.1)" class="tl" text-anchor="end">4</text>
<line x1="18.1" x2="20.5" y1="226.68" y2="226.68" class="tk"/>
<text transform="translate(17.4,228.58) scale(0.1)" class="tl" text-anchor="end">6</text>
<line x1="18.1" x2="20.5" y1="206.74" y2="206.74" class="tk"/>
<text transform="translate(17.4,208.64) scale(0.1)" class="tl" text-anchor="end">8</text>
<text transform="translate(5.4,245.3) rotate(-90) scale(0.1)" class="yt" text-anchor="middle">The expression of COMMD5</text>
<text transform="translate(10.4,245.3) rotate(-90) scale(0.1)" class="yt" text-anchor="middle">Log<tspan dy="10" font-size="36">2</tspan><tspan dy="-10"> (TPM+1)</tspan></text>
<path class="o p" d="M24.1 250.2h0M24.1 252.1h0M24.1 255.2h0M24.1 257.6h0"/><path class="w" d="M24.1 238V241.3M24.1 244.8V248.7"/><rect x="22.3" y="241.3" width="3.6" height="3.5" fill="#4DBBD5" class="b"/><path class="m" d="M22.3 243h3.6"/>
<path class="o p" d="M28.1 254h0M28.1 258h0"/><path class="w" d="M28.1 225.8V235.7M28.1 243.2V251.4"/><rect x="26.3" y="235.7" width="3.6" height="7.6" fill="#E64B35" class="b"/><path class="m" d="M26.3 239.1h3.6"/>
<path class="o" style="stroke-opacity:0.65" d="M24.1 286.5h0"/>
<path d="M23.9 224.1v-.8h4.4v1.5" class="br"/>
<text transform="translate(26.14,224) scale(0.1)" class="st" text-anchor="middle">***</text>
<path class="o p" d="M33.5 250.7h0M33.5 251.8h0"/><path class="w" d="M33.5 240.1V242.5M33.5 245.8V248.3"/><rect x="31.7" y="242.5" width="3.6" height="3.3" fill="#4DBBD5" class="b"/><path class="m" d="M31.7 244.2h3.6"/>
<path class="o p" d="M37.5 219.6h0M37.5 253.6h0M37.5 255.4h0M37.5 260.3h0"/><path class="w" d="M37.5 222.8V234M37.5 240.5V251.4"/><rect x="35.7" y="234" width="3.6" height="6.6" fill="#E64B35" class="b"/><path class="m" d="M35.7 237.2h3.6"/>
<path d="M33.3 217.4v-.8h4.4v1.5" class="br"/>
<text transform="translate(35.53,217.32) scale(0.1)" class="st" text-anchor="middle">***</text>
<path class="o p" d="M42.9 255.8h0"/><path class="w" d="M42.9 237V242.1M42.9 246.6V252.4"/><rect x="41.1" y="242.1" width="3.6" height="4.5" fill="#4DBBD5" class="b"/><path class="m" d="M41.1 244.4h3.6"/>
<path class="o" d="M46.9 222.3h0M46.9 220.3h0M46.9 219.6h0M46.9 218.2h0M46.9 252.8h0M46.9 254.1h0M46.9 254.7h0M46.9 256.5h0M46.9 258h0"/><path class="w" d="M46.9 222.8V232.4M46.9 239.5V251.4"/><rect x="45.1" y="232.4" width="3.6" height="7.2" fill="#E64B35" class="b"/><path class="m" d="M45.1 236.1h3.6"/>
<path d="M42.7 207.7v-.8h4.4v1.5" class="br"/>
<text transform="translate(44.93,207.65) scale(0.1)" class="st" text-anchor="middle">***</text>
<path class="w" d="M52.3 237V240.5M52.3 245.6V251.4"/><rect x="50.5" y="240.5" width="3.6" height="5.1" fill="#4DBBD5" class="b"/><path class="m" d="M50.5 242.7h3.6"/>
<path class="o p" d="M56.3 228.9h0M56.3 251.3h0M56.3 254.2h0"/><path class="w" d="M56.3 231V236.7M56.3 242.3V250.3"/><rect x="54.5" y="236.7" width="3.6" height="5.7" fill="#E64B35" class="b"/><path class="m" d="M54.5 239.5h3.6"/>
<path d="M52.1 225.2v-.8h4.4v1.5" class="br"/>
<text transform="translate(54.32,225.09) scale(0.1)" class="st" text-anchor="middle">**</text>
<path class="w" d="M61.7 252.4V253M61.7 255V256.1"/><rect x="59.9" y="253" width="3.6" height="2" fill="#4DBBD5" class="b"/><path class="m" d="M59.9 254h3.6"/>
<path class="w" d="M65.7 231V235.3M65.7 240.5V243.2"/><rect x="63.9" y="235.3" width="3.6" height="5.3" fill="#E64B35" class="b"/><path class="m" d="M63.9 237.8h3.6"/>
<path d="M61.5 226.6v-.8h4.4v1.5" class="br"/>
<text transform="translate(63.72,226.49) scale(0.1)" class="st" text-anchor="middle">***</text>
<path class="o p" d="M71.1 255.7h0M71.1 256.5h0M71.1 258.9h0M71.1 260.5h0M71.1 261.6h0M71.1 263.7h0M71.1 265.8h0M71.1 267.4h0M71.1 268.5h0"/><path class="w" d="M71.1 238V243.4M71.1 247.7V254.4"/><rect x="69.3" y="243.4" width="3.6" height="4.3" fill="#4DBBD5" class="b"/><path class="m" d="M69.3 245.4h3.6"/>
<path class="o p" d="M75.1 254.2h0M75.1 256.5h0M75.1 259.7h0M75.1 260.6h0"/><path class="w" d="M75.1 225.8V235.7M75.1 241.7V251.4"/><rect x="73.3" y="235.7" width="3.6" height="6.1" fill="#E64B35" class="b"/><path class="m" d="M73.3 238.6h3.6"/>
<path class="o" style="stroke-opacity:1;stroke-width:1.5" d="M71.1 286.5h0"/>
<path d="M70.9 224.1v-.8h4.4v1.5" class="br"/>
<text transform="translate(73.11,224) scale(0.1)" class="st" text-anchor="middle">***</text>
<path class="w" d="M80.5 230.3V244.8M80.5 264.9V282.6"/><rect x="78.7" y="244.8" width="3.6" height="20" fill="#4DBBD5" class="b"/><path class="m" d="M78.7 253.6h3.6"/>
<path class="o p" d="M84.5 245.3h0M84.5 247.5h0"/><path class="w" d="M84.5 229.9V235.1M84.5 239.7V244.2"/><rect x="82.7" y="235.1" width="3.6" height="4.7" fill="#E64B35" class="b"/><path class="m" d="M82.7 237.2h3.6"/>
<path d="M80.3 224.1v-.8h4.4v1.5" class="br"/>
<text transform="translate(82.5,224) scale(0.1)" class="st" text-anchor="middle">***</text>
<path class="o p" d="M89.9 255.7h0M89.9 256.6h0M89.9 258h0M89.9 260h0M89.9 262.2h0M89.9 263.6h0M89.9 264.5h0M89.9 265.9h0M89.9 268.5h0"/><path class="w" d="M89.9 237V243.2M89.9 246.8V254.4"/><rect x="88.1" y="243.2" width="3.6" height="3.6" fill="#4DBBD5" class="b"/><path class="m" d="M88.1 245h3.6"/>
<path class="o p" d="M93.9 230.5h0"/><path class="w" d="M93.9 232V242.3M93.9 248.5V256.5"/><rect x="92.1" y="242.3" width="3.6" height="6.2" fill="#E64B35" class="b"/><path class="m" d="M92.1 245.4h3.6"/>
<path class="o" style="stroke-opacity:1;stroke-width:1.5" d="M89.9 286.5h0"/>
<path class="o" d="M99.3 265.6h0M99.3 266.2h0M99.3 267.3h0M99.3 269h0M99.3 270h0M99.3 270.8h0M99.3 272.8h0"/><path class="w" d="M99.3 235.1V244.6M99.3 253V264.7"/><rect x="97.5" y="244.6" width="3.6" height="8.4" fill="#4DBBD5" class="b"/><path class="m" d="M97.5 248.7h3.6"/>
<path class="o p" d="M103.3 246.1h0M103.3 249.1h0M103.3 250.3h0M103.3 254.6h0M103.3 255.6h0"/><path class="w" d="M103.3 224.8V232M103.3 236.8V244.2"/><rect x="101.5" y="232" width="3.6" height="4.9" fill="#E64B35" class="b"/><path class="m" d="M101.5 234.4h3.6"/>
<path class="o" style="stroke-opacity:1;stroke-width:1.5" d="M99.3 286.5h0"/>
<path d="M99.1 220.5v-.8h4.4v1.5" class="br"/>
<text transform="translate(101.29,220.41) scale(0.1)" class="st" text-anchor="middle">***</text>
<path class="o p" d="M108.7 253.7h0M108.7 255.5h0M108.7 257.9h0M108.7 261h0M108.7 264.4h0"/><path class="w" d="M108.7 239.1V242.5M108.7 246.8V251.4"/><rect x="106.9" y="242.5" width="3.6" height="4.3" fill="#4DBBD5" class="b"/><path class="m" d="M106.9 244.8h3.6"/>
<path class="w" d="M112.7 225.8V235.1M112.7 240.5V251.4"/><rect x="110.9" y="235.1" width="3.6" height="5.5" fill="#E64B35" class="b"/><path class="m" d="M110.9 237.6h3.6"/>
<path d="M108.5 222.1v-.8h4.4v1.5" class="br"/>
<text transform="translate(110.69,222) scale(0.1)" class="st" text-anchor="middle">***</text>
<path class="o p" d="M118.1 259.7h0M118.1 262.2h0M118.1 265.9h0M118.1 268h0"/><path class="w" d="M118.1 235.1V239.9M118.1 247.7V258.5"/><rect x="116.3" y="239.9" width="3.6" height="7.8" fill="#4DBBD5" class="b"/><path class="m" d="M116.3 243.2h3.6"/>
<path class="o p" d="M122.1 255.1h0M122.1 257.8h0"/><path class="w" d="M122.1 232V241.9M122.1 246.8V254.4"/><rect x="120.3" y="241.9" width="3.6" height="4.9" fill="#E64B35" class="b"/><path class="m" d="M120.3 244.4h3.6"/>
<path class="o" style="stroke-opacity:0.65" d="M118.1 286.5h0"/>
<path class="o p" d="M127.5 254.1h0M127.5 257.1h0M127.5 260.1h0M127.5 262.8h0M127.5 266.5h0M127.5 268.2h0"/><path class="w" d="M127.5 239.1V243.8M127.5 247.9V253.4"/><rect x="125.7" y="243.8" width="3.6" height="4.1" fill="#4DBBD5" class="b"/><path class="m" d="M125.7 245.8h3.6"/>
<path class="o p" d="M131.5 231.1h0M131.5 228.7h0M131.5 255.7h0M131.5 257.8h0M131.5 261.1h0M131.5 263.4h0"/><path class="w" d="M131.5 233V240.7M131.5 245.6V254.4"/><rect x="129.7" y="240.7" width="3.6" height="4.9" fill="#E64B35" class="b"/><path class="m" d="M129.7 243.2h3.6"/>
<path class="o" style="stroke-opacity:0.65" d="M127.5 286.5h0"/>
<path d="M127.3 224.1v-.8h4.4v1.5" class="br"/>
<text transform="translate(129.48,224) scale(0.1)" class="st" text-anchor="middle">***</text>
<path class="o p" d="M136.9 256.4h0M136.9 258.6h0M136.9 260.4h0M136.9 263.6h0M136.9 267.1h0M136.9 267.9h0"/><path class="w" d="M136.9 236.1V241.3M136.9 247.5V254.4"/><rect x="135.1" y="241.3" width="3.6" height="6.2" fill="#4DBBD5" class="b"/><path class="m" d="M135.1 244.2h3.6"/>
<path class="w" d="M140.9 225.8V234.2M140.9 239.9V249.3"/><rect x="139.1" y="234.2" width="3.6" height="5.8" fill="#E64B35" class="b"/><path class="m" d="M139.1 237h3.6"/>
<path class="o" style="stroke-opacity:0.65" d="M136.9 286.5h0"/>
<path d="M136.7 224.1v-.8h4.4v1.5" class="br"/>
<text transform="translate(138.87,224) scale(0.1)" class="st" text-anchor="middle">***</text>
<path class="w" d="M146.3 245V245.6M146.3 246.6V247.2"/><rect x="144.5" y="245.6" width="3.6" height="1" fill="#4DBBD5" class="b"/><path class="m" d="M144.5 246.2h3.6"/>
<path class="w" d="M150.3 233V242.3M150.3 248.7V258.5"/><rect x="148.5" y="242.3" width="3.6" height="6.4" fill="#E64B35" class="b"/><path class="m" d="M148.5 245.4h3.6"/>
<path d="M146.1 232.3v-.8h4.4v1.5" class="br"/>
<text transform="translate(148.27,232.17) scale(0.1)" class="st" text-anchor="middle">*</text>
<path class="o" d="M155.7 265.7h0M155.7 266.5h0M155.7 267.7h0M155.7 269.2h0M155.7 269.9h0M155.7 271.2h0M155.7 272.5h0"/><path class="w" d="M155.7 233V244.4M155.7 253V264.7"/><rect x="153.9" y="244.4" width="3.6" height="8.6" fill="#4DBBD5" class="b"/><path class="m" d="M153.9 248.7h3.6"/>
<path class="o p" d="M159.7 250.6h0"/><path class="w" d="M159.7 225.8V234.9M159.7 239.9V247.3"/><rect x="157.9" y="234.9" width="3.6" height="5.1" fill="#E64B35" class="b"/><path class="m" d="M157.9 237.2h3.6"/>
<path class="o" style="stroke-opacity:1;stroke-width:1.5" d="M155.7 286.5h0"/>
<path d="M155.5 221.5v-.8h4.4v1.5" class="br"/>
<text transform="translate(157.66,221.4) scale(0.1)" class="st" text-anchor="middle">***</text>
<path class="o p" d="M165.1 261h0M165.1 265.2h0M165.1 267.9h0M165.1 270.7h0"/><path class="w" d="M165.1 246.2V251.4M165.1 254.8V259.6"/><rect x="163.3" y="251.4" width="3.6" height="3.4" fill="#4DBBD5" class="b"/><path class="m" d="M163.3 253.2h3.6"/>
<path class="o p" d="M169.1 224.2h0M169.1 221.3h0M169.1 219h0"/><path class="w" d="M169.1 225.8V236.3M169.1 244.8V254.4"/><rect x="167.3" y="236.3" width="3.6" height="8.6" fill="#E64B35" class="b"/><path class="m" d="M167.3 240.5h3.6"/>
<path d="M164.9 217.4v-.8h4.4v1.5" class="br"/>
<text transform="translate(167.06,217.32) scale(0.1)" class="st" text-anchor="middle">***</text>
<path class="o p" d="M174.4 254.9h0M174.4 256.4h0M174.4 258.9h0M174.4 259.9h0M174.4 261.4h0M174.4 262.9h0M174.4 265.5h0M174.4 267.1h0M174.4 268.5h0M174.4 269.6h0M174.4 271.1h0M174.4 272.8h0M174.4 274.6h0M174.4 275.8h0"/><path class="w" d="M174.4 233V240.5M174.4 246.2V254.4"/><rect x="172.6" y="240.5" width="3.6" height="5.7" fill="#4DBBD5" class="b"/><path class="m" d="M172.6 243.4h3.6"/>
<path class="o p" d="M178.4 256.2h0"/><path class="w" d="M178.4 221.7V234.4M178.4 241.5V254.4"/><rect x="176.6" y="234.4" width="3.6" height="7.2" fill="#E64B35" class="b"/><path class="m" d="M176.6 237.8h3.6"/>
<path class="o" style="stroke-opacity:0.65" d="M174.4 286.5h0"/>
<path d="M174.2 220.9v-.8h4.4v1.5" class="br"/>
<text transform="translate(176.45,220.81) scale(0.1)" class="st" text-anchor="middle">***</text>
<path class="o p" d="M183.8 255.1h0M183.8 257.6h0M183.8 259.2h0M183.8 260.3h0M183.8 261.5h0M183.8 264h0M183.8 264.8h0M183.8 266.4h0M183.8 267.6h0M183.8 269.7h0M183.8 271.4h0M183.8 273.1h0M183.8 274.3h0M183.8 276.3h0"/><path class="w" d="M183.8 234V240.5M183.8 246.2V254.4"/><rect x="182" y="240.5" width="3.6" height="5.7" fill="#4DBBD5" class="b"/><path class="m" d="M182 243.4h3.6"/>
<path class="o p" d="M187.8 253.9h0M187.8 257h0M187.8 259.2h0M187.8 262.3h0"/><path class="w" d="M187.8 221.7V234.9M187.8 240.9V253.4"/><rect x="186" y="234.9" width="3.6" height="6.1" fill="#E64B35" class="b"/><path class="m" d="M186 237.8h3.6"/>
<path class="o" style="stroke-opacity:0.65" d="M183.8 286.5h0"/>
<path d="M183.6 221.5v-.8h4.4v1.5" class="br"/>
<text transform="translate(185.84,221.4) scale(0.1)" class="st" text-anchor="middle">***</text>
<path class="o" d="M195.2 246.6h0"/><path class="w" d="M195.2 226.9V235.7M195.2 240.5V246.2"/><rect x="191.4" y="235.7" width="7.6" height="4.9" fill="#E64B35" class="b"/><path class="m" d="M191.4 238h7.6"/>
<path class="o p" d="M202.6 253.1h0"/><path class="w" d="M202.6 241.1V244.2M202.6 247.9V252.4"/><rect x="200.8" y="244.2" width="3.6" height="3.7" fill="#4DBBD5" class="b"/><path class="m" d="M200.8 246h3.6"/>
<path class="o p" d="M206.6 256.3h0"/><path class="w" d="M206.6 221.7V235.7M206.6 243.4V254.4"/><rect x="204.8" y="235.7" width="3.6" height="7.8" fill="#E64B35" class="b"/><path class="m" d="M204.8 239.3h3.6"/>
<path d="M202.4 215.3v-.8h4.4v1.5" class="br"/>
<text transform="translate(204.63,215.22) scale(0.1)" class="st" text-anchor="middle">***</text>
<path class="w" d="M212 247.3V254.4M212 259.1V267.7"/><rect x="210.2" y="254.4" width="3.6" height="4.7" fill="#4DBBD5" class="b"/><path class="m" d="M210.2 256.9h3.6"/>
<path class="o p" d="M216 247.2h0M216 250.6h0M216 253.1h0M216 256.2h0M216 258.6h0M216 261.3h0M216 264.3h0"/><path class="w" d="M216 228.9V237M216 241.3V246.2"/><rect x="214.2" y="237" width="3.6" height="4.3" fill="#E64B35" class="b"/><path class="m" d="M214.2 239.1h3.6"/>
<path class="o" style="stroke-opacity:0.85" d="M212 286.5h0"/>
<path d="M211.8 226.2v-.8h4.4v1.5" class="br"/>
<text transform="translate(214.03,226.09) scale(0.1)" class="st" text-anchor="middle">***</text>
<path class="w" d="M221.4 237.6V238.2M221.4 239.3V239.9"/><rect x="219.6" y="238.2" width="3.6" height="1.1" fill="#4DBBD5" class="b"/><path class="m" d="M219.6 238.6h3.6"/>
<path class="w" d="M225.4 231V237.4M225.4 241.7V250.3"/><rect x="223.6" y="237.4" width="3.6" height="4.3" fill="#E64B35" class="b"/><path class="m" d="M223.6 239.5h3.6"/>
<path class="o p" d="M230.8 250.5h0"/><path class="w" d="M230.8 237V240.7M230.8 244V248.3"/><rect x="229" y="240.7" width="3.6" height="3.3" fill="#4DBBD5" class="b"/><path class="m" d="M229 242.3h3.6"/>
<path class="o p" d="M234.8 224.9h0M234.8 255.5h0"/><path class="w" d="M234.8 226.9V237M234.8 241.9V251.4"/><rect x="233" y="237" width="3.6" height="4.9" fill="#E64B35" class="b"/><path class="m" d="M233 239.5h3.6"/>
<path d="M230.6 222.5v-.8h4.4v1.5" class="br"/>
<text transform="translate(232.82,222.4) scale(0.1)" class="st" text-anchor="middle">***</text>
<path class="o p" d="M240.2 253.9h0M240.2 256.4h0M240.2 258h0M240.2 258.9h0M240.2 261.7h0M240.2 263.4h0"/><path class="w" d="M240.2 239.1V244M240.2 247.7V253.4"/><rect x="238.4" y="244" width="3.6" height="3.7" fill="#4DBBD5" class="b"/><path class="m" d="M238.4 245.8h3.6"/>
<path class="w" d="M244.2 228.9V236.1M244.2 241.3V249.3"/><rect x="242.4" y="236.1" width="3.6" height="5.3" fill="#E64B35" class="b"/><path class="m" d="M242.4 238.6h3.6"/>
<path class="o" style="stroke-opacity:1;stroke-width:1.5" d="M240.2 286.5h0"/>
<path d="M240 223.5v-.8h4.4v1.5" class="br"/>
<text transform="translate(242.21,223.4) scale(0.1)" class="st" text-anchor="middle">***</text>
<path class="w" d="M249.6 243V243.2M249.6 243.8V244"/><rect x="247.8" y="243.2" width="3.6" height="0.6" fill="#4DBBD5" class="b"/><path class="m" d="M247.8 243.5h3.6"/>
<path class="o p" d="M253.6 221.9h0M253.6 252.7h0"/><path class="w" d="M253.6 224.8V234M253.6 240.5V249.3"/><rect x="251.8" y="234" width="3.6" height="6.6" fill="#E64B35" class="b"/><path class="m" d="M251.8 237.2h3.6"/>
<path class="o p" d="M259 235.8h0M259 234.6h0M259 231.1h0M259 228.5h0M259 225.1h0"/><path class="w" d="M259 238V242.1M259 245.6V250.3"/><rect x="257.2" y="242.1" width="3.6" height="3.5" fill="#4DBBD5" class="b"/><path class="m" d="M257.2 243.8h3.6"/>
<path class="o p" d="M263 254.1h0"/><path class="w" d="M263 221.7V233M263 239.9V251.4"/><rect x="261.2" y="233" width="3.6" height="7" fill="#E64B35" class="b"/><path class="m" d="M261.2 236.5h3.6"/>
<path d="M258.8 220.9v-.8h4.4v1.5" class="br"/>
<text transform="translate(261,220.81) scale(0.1)" class="st" text-anchor="middle">***</text>
<path class="w" d="M268.4 240.1V247.1M268.4 253.6V261.6"/><rect x="266.6" y="247.1" width="3.6" height="6.5" fill="#4DBBD5" class="b"/><path class="m" d="M266.6 250.3h3.6"/>
<path class="o p" d="M272.4 261.1h0"/><path class="w" d="M272.4 231V241.7M272.4 248.3V258.5"/><rect x="270.6" y="241.7" width="3.6" height="6.6" fill="#E64B35" class="b"/><path class="m" d="M270.6 245h3.6"/>
<path class="o" style="stroke-opacity:1;stroke-width:1.5" d="M268.4 286.5h0"/>
<path d="M268.2 227.6v-.8h4.4v1.5" class="br"/>
<text transform="translate(270.4,227.49) scale(0.1)" class="st" text-anchor="middle">***</text>
<path class="w" d="M277.8 241.1V243.4M277.8 246.6V248.7"/><rect x="276" y="243.4" width="3.6" height="3.2" fill="#4DBBD5" class="b"/><path class="m" d="M276 245h3.6"/>
<path class="o p" d="M281.8 249.7h0M281.8 254.3h0"/><path class="w" d="M281.8 229.9V236.5M281.8 240.5V247.3"/><rect x="280" y="236.5" width="3.6" height="4.1" fill="#E64B35" class="b"/><path class="m" d="M280 238.4h3.6"/>
<path d="M277.6 227.2v-.8h4.4v1.5" class="br"/>
<text transform="translate(279.79,227.09) scale(0.1)" class="st" text-anchor="middle">***</text>
<path class="o p" d="M287.2 250.5h0"/><path class="w" d="M287.2 236.1V239.7M287.2 242.7V247.3"/><rect x="285.4" y="239.7" width="3.6" height="3" fill="#4DBBD5" class="b"/><path class="m" d="M285.4 241.1h3.6"/>
<path class="o p" d="M291.2 250.1h0M291.2 252.4h0"/><path class="w" d="M291.2 229.9V236.5M291.2 240.5V247.3"/><rect x="289.4" y="236.5" width="3.6" height="4.1" fill="#E64B35" class="b"/><path class="m" d="M289.4 238.4h3.6"/>
<path class="o" style="stroke-opacity:0.75" d="M287.2 286.5h0"/>
<path d="M287 228.6v-.8h4.4v1.5" class="br"/>
<text transform="translate(289.18,228.48) scale(0.1)" class="st" text-anchor="middle">***</text>
<path class="w" d="M296.6 231V244.8M296.6 264.7V282.6"/><rect x="294.8" y="244.8" width="3.6" height="19.8" fill="#4DBBD5" class="b"/><path class="m" d="M294.8 253.4h3.6"/>
<path class="o p" d="M300.6 245.8h0M300.6 248.7h0"/><path class="w" d="M300.6 231V235.3M300.6 238.9V245.2"/><rect x="298.8" y="235.3" width="3.6" height="3.7" fill="#E64B35" class="b"/><path class="m" d="M298.8 237h3.6"/>
<path d="M296.4 225.6v-.8h4.4v1.5" class="br"/>
<text transform="translate(298.58,225.49) scale(0.1)" class="st" text-anchor="middle">***</text>
<path class="o p" d="M306 249.8h0M306 252.3h0"/><path class="w" d="M306 236.1V240.1M306 244.2V248.3"/><rect x="304.2" y="240.1" width="3.6" height="4.1" fill="#4DBBD5" class="b"/><path class="m" d="M304.2 242.1h3.6"/>
<path class="o p" d="M310 251.5h0M310 253.5h0M310 256.2h0M310 258.7h0M310 261.4h0M310 263.5h0"/><path class="w" d="M310 219.7V231.2M310 238.4V249.3"/><rect x="308.2" y="231.2" width="3.6" height="7.3" fill="#E64B35" class="b"/><path class="m" d="M308.2 234.7h3.6"/>
<path d="M305.8 217.4v-.8h4.4v1.5" class="br"/>
<text transform="translate(307.97,217.32) scale(0.1)" class="st" text-anchor="middle">***</text>
<path class="o p" d="M315.4 249h0M315.4 254.1h0"/><path class="w" d="M315.4 236.1V240.3M315.4 244.6V248.3"/><rect x="313.6" y="240.3" width="3.6" height="4.3" fill="#4DBBD5" class="b"/><path class="m" d="M313.6 242.3h3.6"/>
<path class="w" d="M319.4 217.7V229.9M319.4 237.6V243.2"/><rect x="317.6" y="229.9" width="3.6" height="7.8" fill="#E64B35" class="b"/><path class="m" d="M317.6 233.6h3.6"/>
<path d="M315.2 216.8v-.8h4.4v1.5" class="br"/>
<text transform="translate(317.37,216.72) scale(0.1)" class="st" text-anchor="middle">***</text>
<path class="w" d="M326.8 217.7V229.1M326.8 240.7V247.9"/><rect x="323" y="229.1" width="7.6" height="11.7" fill="#E64B35" class="b"/><path class="m" d="M323 235.5h7.6"/>
<line x1="21.5" x2="21.5" y1="296.2" y2="384" class="ax"/>
<line x1="21.5" x2="332.4" y1="384" y2="384" class="ax"/>
<line x1="19.1" x2="21.5" y1="381.5" y2="381.5" class="tk"/>
<text transform="translate(18.4,383.4) scale(0.1)" class="tl" text-anchor="end">0</text>
<line x1="19.1" x2="21.5" y1="363.76" y2="363.76" class="tk"/>
<text transform="translate(18.4,365.66) scale(0.1)" class="tl" text-anchor="end">2</text>
<line x1="19.1" x2="21.5" y1="346.02" y2="346.02" class="tk"/>
<text transform="translate(18.4,347.92) scale(0.1)" class="tl" text-anchor="end">4</text>
<line x1="19.1" x2="21.5" y1="328.28" y2="328.28" class="tk"/>
<text transform="translate(18.4,330.18) scale(0.1)" class="tl" text-anchor="end">6</text>
<line x1="19.1" x2="21.5" y1="310.54" y2="310.54" class="tk"/>
<text transform="translate(18.4,312.44) scale(0.1)" class="tl" text-anchor="end">8</text>
<text transform="translate(5.4,340.1) rotate(-90) scale(0.1)" class="yt" text-anchor="middle">The expression of COMMD7</text>
<text transform="translate(10.4,340.1) rotate(-90) scale(0.1)" class="yt" text-anchor="middle">Log<tspan dy="10" font-size="36">2</tspan><tspan dy="-10"> (TPM+1)</tspan></text>
<path class="o p" d="M25.1 344.7h0M25.1 347.2h0"/><path class="w" d="M25.1 331V334.7M25.1 337.8V342.3"/><rect x="23.3" y="334.7" width="3.6" height="3.1" fill="#4DBBD5" class="b"/><path class="m" d="M23.3 336.4h3.6"/>
<path class="o p" d="M29.1 344.2h0M29.1 347.6h0"/><path class="w" d="M29.1 322.9V330.4M29.1 335.9V342.3"/><rect x="27.3" y="330.4" width="3.6" height="5.5" fill="#E64B35" class="b"/><path class="m" d="M27.3 333.2h3.6"/>
<path class="o" style="stroke-opacity:0.65" d="M25.1 381.5h0"/>
<path d="M24.9 320.5v-.8h4.4v1.5" class="br"/>
<text transform="translate(27.12,320.42) scale(0.1)" class="st" text-anchor="middle">***</text>
<path class="o p" d="M34.5 336.9h0"/><path class="w" d="M34.5 325.9V330.9M34.5 332.6V336.1"/><rect x="32.7" y="330.9" width="3.6" height="1.8" fill="#4DBBD5" class="b"/><path class="m" d="M32.7 331.7h3.6"/>
<path class="o p" d="M38.5 311.4h0M38.5 309.6h0M38.5 345.4h0"/><path class="w" d="M38.5 313.6V325.5M38.5 332V344.3"/><rect x="36.7" y="325.5" width="3.6" height="6.5" fill="#E64B35" class="b"/><path class="m" d="M36.7 328.5h3.6"/>
<path d="M34.3 305.6v-.8h4.4v1.5" class="br"/>
<text transform="translate(36.48,305.52) scale(0.1)" class="st" text-anchor="middle">***</text>
<path class="o p" d="M43.8 341.1h0"/><path class="w" d="M43.8 324.9V330.4M43.8 334.9V340.3"/><rect x="42" y="330.4" width="3.6" height="4.5" fill="#4DBBD5" class="b"/><path class="m" d="M42 332.4h3.6"/>
<path class="o" d="M47.8 311.7h0M47.8 339.7h0M47.8 341.8h0M47.8 343.5h0M47.8 344.4h0M47.8 345.7h0"/><path class="w" d="M47.8 312.7V323.7M47.8 328.8V339.2"/><rect x="46" y="323.7" width="3.6" height="5.1" fill="#E64B35" class="b"/><path class="m" d="M46 326.3h3.6"/>
<path d="M43.6 311.7v-.8h4.4v1.5" class="br"/>
<text transform="translate(45.85,311.64) scale(0.1)" class="st" text-anchor="middle">***</text>
<path class="w" d="M53.2 331V332.4M53.2 334.5V336.1"/><rect x="51.4" y="332.4" width="3.6" height="2" fill="#4DBBD5" class="b"/><path class="m" d="M51.4 333.5h3.6"/>
<path class="o p" d="M57.2 319.4h0M57.2 316.5h0M57.2 352.7h0M57.2 355.1h0M57.2 357.8h0"/><path class="w" d="M57.2 320.8V331.2M57.2 338.7V350.5"/><rect x="55.4" y="331.2" width="3.6" height="7.5" fill="#E64B35" class="b"/><path class="m" d="M55.4 334.7h3.6"/>
<path class="w" d="M62.6 342.6V343.3M62.6 345.5V346.1"/><rect x="60.8" y="343.3" width="3.6" height="2.2" fill="#4DBBD5" class="b"/><path class="m" d="M60.8 344.3h3.6"/>
<path class="w" d="M66.6 324.9V327.9M66.6 332V335.1"/><rect x="64.8" y="327.9" width="3.6" height="4.1" fill="#E64B35" class="b"/><path class="m" d="M64.8 330h3.6"/>
<path d="M62.4 323.2v-.8h4.4v1.5" class="br"/>
<text transform="translate(64.58,323.09) scale(0.1)" class="st" text-anchor="middle">***</text>
<path class="o p" d="M71.9 345.8h0M71.9 347.6h0M71.9 349.5h0M71.9 351.9h0M71.9 353.1h0M71.9 355.2h0M71.9 356.2h0"/><path class="w" d="M71.9 326.9V332.6M71.9 338.2V345.3"/><rect x="70.1" y="332.6" width="3.6" height="5.6" fill="#4DBBD5" class="b"/><path class="m" d="M70.1 335.1h3.6"/>
<path class="o p" d="M75.9 347h0M75.9 349.8h0M75.9 353.1h0M75.9 355.6h0M75.9 358h0"/><path class="w" d="M75.9 313.6V325.5M75.9 333.1V346.4"/><rect x="74.1" y="325.5" width="3.6" height="7.5" fill="#E64B35" class="b"/><path class="m" d="M74.1 328.5h3.6"/>
<path class="o" style="stroke-opacity:1;stroke-width:1.5" d="M71.9 381.5h0"/>
<path d="M71.7 313v-.8h4.4v1.5" class="br"/>
<text transform="translate(73.94,312.89) scale(0.1)" class="st" text-anchor="middle">***</text>
<path class="w" d="M81.3 331V342.5M81.3 355.5V374.3"/><rect x="79.5" y="342.5" width="3.6" height="13" fill="#4DBBD5" class="b"/><path class="m" d="M79.5 347.8h3.6"/>
<path class="w" d="M85.3 326.9V331.2M85.3 334.7V340.3"/><rect x="83.5" y="331.2" width="3.6" height="3.5" fill="#E64B35" class="b"/><path class="m" d="M83.5 333.1h3.6"/>
<path d="M81.1 322.6v-.8h4.4v1.5" class="br"/>
<text transform="translate(83.31,322.46) scale(0.1)" class="st" text-anchor="middle">***</text>
<path class="o p" d="M90.7 352.3h0M90.7 354.7h0"/><path class="w" d="M90.7 326.9V333.1M90.7 340.6V351.4"/><rect x="88.9" y="333.1" width="3.6" height="7.5" fill="#4DBBD5" class="b"/><path class="m" d="M88.9 336.7h3.6"/>
<path class="o p" d="M94.7 351.1h0M94.7 354.2h0"/><path class="w" d="M94.7 324.9V331.7M94.7 338.6V349.4"/><rect x="92.9" y="331.7" width="3.6" height="6.9" fill="#E64B35" class="b"/><path class="m" d="M92.9 334.7h3.6"/>
<path class="o" style="stroke-opacity:1;stroke-width:1.5" d="M90.7 381.5h0"/>
<path d="M90.5 322.6v-.8h4.4v1.5" class="br"/>
<text transform="translate(92.67,322.46) scale(0.1)" class="st" text-anchor="middle">***</text>
<path class="o" d="M100 349.7h0M100 351.5h0M100 352h0M100 353.8h0M100 354.9h0M100 355.2h0M100 356.7h0M100 358.1h0M100 359.4h0M100 360h0M100 361h0"/><path class="w" d="M100 324.9V332.9M100 340.3V349.4"/><rect x="98.2" y="332.9" width="3.6" height="7.4" fill="#4DBBD5" class="b"/><path class="m" d="M98.2 336.7h3.6"/>
<path class="o p" d="M104 338.2h0M104 342.7h0M104 343.9h0M104 347.6h0M104 349.5h0"/><path class="w" d="M104 315.7V323.5M104 329.3V337.1"/><rect x="102.2" y="323.5" width="3.6" height="5.9" fill="#E64B35" class="b"/><path class="m" d="M102.2 326.5h3.6"/>
<path class="o" style="stroke-opacity:1;stroke-width:1.5" d="M100 381.5h0"/>
<path d="M99.8 314.4v-.8h4.4v1.5" class="br"/>
<text transform="translate(102.03,314.3) scale(0.1)" class="st" text-anchor="middle">***</text>
<path class="o p" d="M109.4 345.9h0M109.4 349.3h0"/><path class="w" d="M109.4 333.1V336.7M109.4 340.6V344.3"/><rect x="107.6" y="336.7" width="3.6" height="3.9" fill="#4DBBD5" class="b"/><path class="m" d="M107.6 338.7h3.6"/>
<path class="o p" d="M113.4 351.4h0M113.4 356.1h0"/><path class="w" d="M113.4 320.8V332.6M113.4 339.6V350.5"/><rect x="111.6" y="332.6" width="3.6" height="7" fill="#E64B35" class="b"/><path class="m" d="M111.6 336.4h3.6"/>
<path d="M109.2 318.5v-.8h4.4v1.5" class="br"/>
<text transform="translate(111.4,318.38) scale(0.1)" class="st" text-anchor="middle">***</text>
<path class="o p" d="M118.8 351.3h0M118.8 355.3h0M118.8 357.9h0"/><path class="w" d="M118.8 322.9V327.3M118.8 335.9V349.4"/><rect x="117" y="327.3" width="3.6" height="8.6" fill="#4DBBD5" class="b"/><path class="m" d="M117 331.2h3.6"/>
<path class="o p" d="M122.8 343.1h0"/><path class="w" d="M122.8 325.9V331.4M122.8 335.6V342.3"/><rect x="121" y="331.4" width="3.6" height="4.2" fill="#E64B35" class="b"/><path class="m" d="M121 333.5h3.6"/>
<path class="o" style="stroke-opacity:0.65" d="M118.8 381.5h0"/>
<path d="M118.6 318.5v-.8h4.4v1.5" class="br"/>
<text transform="translate(120.76,318.38) scale(0.1)" class="st" text-anchor="middle">*</text>
<path class="o p" d="M128.1 341.7h0M128.1 343.6h0M128.1 345.4h0M128.1 348.1h0M128.1 351.9h0M128.1 354.6h0M128.1 357.1h0"/><path class="w" d="M128.1 323.8V329.2M128.1 333.1V339.2"/><rect x="126.3" y="329.2" width="3.6" height="3.9" fill="#4DBBD5" class="b"/><path class="m" d="M126.3 331h3.6"/>
<path class="o p" d="M132.1 339h0M132.1 341.9h0"/><path class="w" d="M132.1 320.8V327.3M132.1 330.9V338.2"/><rect x="130.3" y="327.3" width="3.6" height="3.5" fill="#E64B35" class="b"/><path class="m" d="M130.3 329h3.6"/>
<path class="o" style="stroke-opacity:0.65" d="M128.1 381.5h0"/>
<path d="M127.9 316.4v-.8h4.4v1.5" class="br"/>
<text transform="translate(130.13,316.34) scale(0.1)" class="st" text-anchor="middle">***</text>
<path class="o p" d="M137.5 344.4h0M137.5 348.1h0M137.5 348.9h0M137.5 353h0M137.5 355.7h0M137.5 356.8h0"/><path class="w" d="M137.5 323.8V329.3M137.5 334.9V343.3"/><rect x="135.7" y="329.3" width="3.6" height="5.6" fill="#4DBBD5" class="b"/><path class="m" d="M135.7 332h3.6"/>
<path class="w" d="M141.5 318.8V325.7M141.5 330.6V339.2"/><rect x="139.7" y="325.7" width="3.6" height="4.9" fill="#E64B35" class="b"/><path class="m" d="M139.7 328.2h3.6"/>
<path class="o" style="stroke-opacity:0.65" d="M137.5 381.5h0"/>
<path d="M137.3 316.4v-.8h4.4v1.5" class="br"/>
<text transform="translate(139.49,316.34) scale(0.1)" class="st" text-anchor="middle">***</text>
<path class="w" d="M146.9 332.3V332.9M146.9 334V334.7"/><rect x="145.1" y="332.9" width="3.6" height="1.2" fill="#4DBBD5" class="b"/><path class="m" d="M145.1 333.5h3.6"/>
<path class="o p" d="M150.9 341.1h0"/><path class="w" d="M150.9 321.8V328.2M150.9 332.9V339.2"/><rect x="149.1" y="328.2" width="3.6" height="4.7" fill="#E64B35" class="b"/><path class="m" d="M149.1 330.4h3.6"/>
<path d="M146.7 319.1v-.8h4.4v1.5" class="br"/>
<text transform="translate(148.86,319.01) scale(0.1)" class="st" text-anchor="middle">***</text>
<path class="o" d="M156.2 351.3h0M156.2 352.6h0M156.2 353.2h0M156.2 354.4h0M156.2 355.5h0M156.2 357.2h0M156.2 357.9h0M156.2 358.8h0M156.2 360h0M156.2 361h0"/><path class="w" d="M156.2 325.9V332.9M156.2 340.4V350.5"/><rect x="154.4" y="332.9" width="3.6" height="7.5" fill="#4DBBD5" class="b"/><path class="m" d="M154.4 336.7h3.6"/>
<path class="o p" d="M160.2 341.2h0"/><path class="w" d="M160.2 321.8V329.3M160.2 333.1V340.3"/><rect x="158.4" y="329.3" width="3.6" height="3.7" fill="#E64B35" class="b"/><path class="m" d="M158.4 331.2h3.6"/>
<path class="o" style="stroke-opacity:1;stroke-width:1.5" d="M156.2 381.5h0"/>
<path d="M156 320.1v-.8h4.4v1.5" class="br"/>
<text transform="translate(158.22,319.98) scale(0.1)" class="st" text-anchor="middle">***</text>
<path class="o p" d="M165.6 351.2h0M165.6 355.2h0"/><path class="w" d="M165.6 338.2V342M165.6 345.5V350.5"/><rect x="163.8" y="342" width="3.6" height="3.5" fill="#4DBBD5" class="b"/><path class="m" d="M163.8 343.7h3.6"/>
<path class="w" d="M169.6 324.9V333.7M169.6 341.1V350.5"/><rect x="167.8" y="333.7" width="3.6" height="7.4" fill="#E64B35" class="b"/><path class="m" d="M167.8 337.3h3.6"/>
<path d="M165.4 320.1v-.8h4.4v1.5" class="br"/>
<text transform="translate(167.59,319.98) scale(0.1)" class="st" text-anchor="middle">***</text>
<path class="o p" d="M174.9 344h0M174.9 346.5h0M174.9 347.3h0M174.9 349h0M174.9 351h0M174.9 352.3h0M174.9 354.2h0M174.9 356.6h0M174.9 358.2h0M174.9 359.8h0M174.9 361.2h0M174.9 363.3h0M174.9 365h0M174.9 366.2h0"/><path class="w" d="M174.9 324.9V332M174.9 335.9V343.3"/><rect x="173.1" y="332" width="3.6" height="3.9" fill="#4DBBD5" class="b"/><path class="m" d="M173.1 333.9h3.6"/>
<path class="o p" d="M178.9 347.7h0M178.9 349.1h0"/><path class="w" d="M178.9 315.7V327.9M178.9 333.7V345.3"/><rect x="177.1" y="327.9" width="3.6" height="5.8" fill="#E64B35" class="b"/><path class="m" d="M177.1 330.9h3.6"/>
<path class="o" style="stroke-opacity:0.65" d="M174.9 381.5h0"/>
<path d="M174.8 315.5v-.8h4.4v1.5" class="br"/>
<text transform="translate(176.95,315.37) scale(0.1)" class="st" text-anchor="middle">***</text>
<path class="o p" d="M184.3 345.6h0M184.3 346.8h0M184.3 348.8h0M184.3 350.3h0M184.3 351.4h0M184.3 352.7h0M184.3 355.5h0M184.3 356h0M184.3 358.1h0M184.3 359.5h0M184.3 361.1h0M184.3 363.2h0M184.3 365.1h0M184.3 365.8h0"/><path class="w" d="M184.3 325.9V332M184.3 335.9V344.3"/><rect x="182.5" y="332" width="3.6" height="3.9" fill="#4DBBD5" class="b"/><path class="m" d="M182.5 333.9h3.6"/>
<path class="o p" d="M188.3 352.3h0"/><path class="w" d="M188.3 310.5V327.3M188.3 334V349.4"/><rect x="186.5" y="327.3" width="3.6" height="6.7" fill="#E64B35" class="b"/><path class="m" d="M186.5 330.6h3.6"/>
<path class="o" style="stroke-opacity:0.65" d="M184.3 381.5h0"/>
<path d="M184.1 302.5v-.8h4.4v1.5" class="br"/>
<text transform="translate(186.31,302.42) scale(0.1)" class="st" text-anchor="middle">***</text>
<path class="o" d="M195.7 343h0M195.7 344.8h0"/><path class="w" d="M195.7 326.9V331M195.7 335.6V342.3"/><rect x="191.9" y="331" width="7.6" height="4.5" fill="#E64B35" class="b"/><path class="m" d="M191.9 333.2h7.6"/>
<path class="w" d="M203 332V335.7M203 339V344.3"/><rect x="201.2" y="335.7" width="3.6" height="3.3" fill="#4DBBD5" class="b"/><path class="m" d="M201.2 337.3h3.6"/>
<path class="o p" d="M207 343.3h0"/><path class="w" d="M207 312.7V326.3M207 332.3V341.2"/><rect x="205.2" y="326.3" width="3.6" height="5.9" fill="#E64B35" class="b"/><path class="m" d="M205.2 329.2h3.6"/>
<path d="M202.8 311.3v-.8h4.4v1.5" class="br"/>
<text transform="translate(205.04,311.2) scale(0.1)" class="st" text-anchor="middle">***</text>
<path class="w" d="M212.4 336.1V343.7M212.4 348.8V355.5"/><rect x="210.6" y="343.7" width="3.6" height="5.1" fill="#4DBBD5" class="b"/><path class="m" d="M210.6 346.1h3.6"/>
<path class="o p" d="M216.4 341.1h0M216.4 343.6h0M216.4 346.3h0M216.4 350.3h0"/><path class="w" d="M216.4 322.9V328.4M216.4 332.9V340.3"/><rect x="214.6" y="328.4" width="3.6" height="4.5" fill="#E64B35" class="b"/><path class="m" d="M214.6 330.6h3.6"/>
<path class="o" style="stroke-opacity:0.85" d="M212.4 381.5h0"/>
<path d="M212.2 322.2v-.8h4.4v1.5" class="br"/>
<text transform="translate(214.41,322.11) scale(0.1)" class="st" text-anchor="middle">***</text>
<path class="w" d="M221.8 335.7V336.1M221.8 337V337.3"/><rect x="220" y="336.1" width="3.6" height="0.9" fill="#4DBBD5" class="b"/><path class="m" d="M220 336.5h3.6"/>
<path class="w" d="M225.8 330V335.3M225.8 340.3V346.4"/><rect x="224" y="335.3" width="3.6" height="5" fill="#E64B35" class="b"/><path class="m" d="M224 337.8h3.6"/>
<path class="o p" d="M231.1 339h0"/><path class="w" d="M231.1 324.9V329.3M231.1 332.6V337.1"/><rect x="229.3" y="329.3" width="3.6" height="3.3" fill="#4DBBD5" class="b"/><path class="m" d="M229.3 331h3.6"/>
<path class="o p" d="M235.1 322.7h0M235.1 341h0"/><path class="w" d="M235.1 323.8V328.5M235.1 332V338.2"/><rect x="233.3" y="328.5" width="3.6" height="3.5" fill="#E64B35" class="b"/><path class="m" d="M233.3 330.2h3.6"/>
<path d="M230.9 319.1v-.8h4.4v1.5" class="br"/>
<text transform="translate(233.14,319.01) scale(0.1)" class="st" text-anchor="middle">***</text>
<path class="o p" d="M240.5 348h0M240.5 348.9h0M240.5 350.1h0M240.5 351.8h0M240.5 353.3h0"/><path class="w" d="M240.5 325.9V332.3M240.5 339V346.4"/><rect x="238.7" y="332.3" width="3.6" height="6.7" fill="#4DBBD5" class="b"/><path class="m" d="M238.7 335.6h3.6"/>
<path class="w" d="M244.5 315.7V323.8M244.5 330.9V338.2"/><rect x="242.7" y="323.8" width="3.6" height="7" fill="#E64B35" class="b"/><path class="m" d="M242.7 327.3h3.6"/>
<path class="o" style="stroke-opacity:1;stroke-width:1.5" d="M240.5 381.5h0"/>
<path d="M240.3 315.5v-.8h4.4v1.5" class="br"/>
<text transform="translate(242.5,315.37) scale(0.1)" class="st" text-anchor="middle">***</text>
<path class="w" d="M249.9 328.9V329.2M249.9 330V330.2"/><rect x="248.1" y="329.2" width="3.6" height="0.8" fill="#4DBBD5" class="b"/><path class="m" d="M248.1 329.6h3.6"/>
<path class="o p" d="M253.9 319.5h0M253.9 317.4h0M253.9 314.3h0M253.9 344.1h0"/><path class="w" d="M253.9 320.8V328.4M253.9 334.3V343.3"/><rect x="252.1" y="328.4" width="3.6" height="5.9" fill="#E64B35" class="b"/><path class="m" d="M252.1 331.4h3.6"/>
<path class="o p" d="M259.2 342.3h0"/><path class="w" d="M259.2 330V333.9M259.2 337V341.2"/><rect x="257.4" y="333.9" width="3.6" height="3.1" fill="#4DBBD5" class="b"/><path class="m" d="M257.4 335.3h3.6"/>
<path class="w" d="M263.2 318.8V326.9M263.2 332.9V342.3"/><rect x="261.4" y="326.9" width="3.6" height="5.9" fill="#E64B35" class="b"/><path class="m" d="M261.4 330h3.6"/>
<path d="M259 317.1v-.8h4.4v1.5" class="br"/>
<text transform="translate(261.23,316.97) scale(0.1)" class="st" text-anchor="middle">***</text>
<path class="w" d="M268.6 329V336.7M268.6 343.7V350.5"/><rect x="266.8" y="336.7" width="3.6" height="7" fill="#4DBBD5" class="b"/><path class="m" d="M266.8 340.3h3.6"/>
<path class="o p" d="M272.6 354.1h0M272.6 356.6h0"/><path class="w" d="M272.6 316.7V331M272.6 337.1V351.4"/><rect x="270.8" y="331" width="3.6" height="6.1" fill="#E64B35" class="b"/><path class="m" d="M270.8 334h3.6"/>
<path class="o" style="stroke-opacity:1;stroke-width:1.5" d="M268.6 381.5h0"/>
<path d="M268.4 316.4v-.8h4.4v1.5" class="br"/>
<text transform="translate(270.59,316.34) scale(0.1)" class="st" text-anchor="middle">***</text>
<path class="w" d="M278 336.1V340.4M278 346.4V351.4"/><rect x="276.2" y="340.4" width="3.6" height="5.9" fill="#4DBBD5" class="b"/><path class="m" d="M276.2 343.3h3.6"/>
<path class="w" d="M282 318.8V329.3M282 340.3V347.4"/><rect x="280.2" y="329.3" width="3.6" height="10.9" fill="#E64B35" class="b"/><path class="m" d="M280.2 332.6h3.6"/>
<path d="M277.8 317.9v-.8h4.4v1.5" class="br"/>
<text transform="translate(279.96,317.76) scale(0.1)" class="st" text-anchor="middle">***</text>
<path class="w" d="M287.3 321.8V326.7M287.3 329.6V338.2"/><rect x="285.5" y="326.7" width="3.6" height="2.9" fill="#4DBBD5" class="b"/><path class="m" d="M285.5 328.2h3.6"/>
<path class="o p" d="M291.3 336.5h0M291.3 339h0"/><path class="w" d="M291.3 318.8V325.9M291.3 328.8V335.1"/><rect x="289.5" y="325.9" width="3.6" height="2.9" fill="#E64B35" class="b"/><path class="m" d="M289.5 327.3h3.6"/>
<path class="o" style="stroke-opacity:0.75" d="M287.3 381.5h0"/>
<path d="M287.1 314.4v-.8h4.4v1.5" class="br"/>
<text transform="translate(289.32,314.3) scale(0.1)" class="st" text-anchor="middle">***</text>
<path class="w" d="M296.7 332V342.5M296.7 355.5V374.3"/><rect x="294.9" y="342.5" width="3.6" height="13" fill="#4DBBD5" class="b"/><path class="m" d="M294.9 347.8h3.6"/>
<path class="w" d="M300.7 327.9V331.8M300.7 334.5V340.3"/><rect x="298.9" y="331.8" width="3.6" height="2.7" fill="#E64B35" class="b"/><path class="m" d="M298.9 333.1h3.6"/>
<path d="M296.5 324.6v-.8h4.4v1.5" class="br"/>
<text transform="translate(298.69,324.5) scale(0.1)" class="st" text-anchor="middle">***</text>
<path class="w" d="M306.1 327.9V332.3M306.1 335.6V339.2"/><rect x="304.3" y="332.3" width="3.6" height="3.3" fill="#4DBBD5" class="b"/><path class="m" d="M304.3 333.9h3.6"/>
<path class="o p" d="M310.1 343h0M310.1 345.5h0M310.1 348.3h0M310.1 350.5h0M310.1 353.9h0"/><path class="w" d="M310.1 318.8V327.9M310.1 332.6V341.2"/><rect x="308.3" y="327.9" width="3.6" height="4.7" fill="#E64B35" class="b"/><path class="m" d="M308.3 330.2h3.6"/>
<path d="M305.9 313.3v-.8h4.4v1.5" class="br"/>
<text transform="translate(308.05,313.24) scale(0.1)" class="st" text-anchor="middle">***</text>
<path class="w" d="M315.4 327.9V332.3M315.4 335.6V339.2"/><rect x="313.6" y="332.3" width="3.6" height="3.3" fill="#4DBBD5" class="b"/><path class="m" d="M313.6 333.9h3.6"/>
<path class="w" d="M319.4 320.8V326.5M319.4 331.8V338.2"/><rect x="317.6" y="326.5" width="3.6" height="5.3" fill="#E64B35" class="b"/><path class="m" d="M317.6 329h3.6"/>
<path d="M315.2 313.3v-.8h4.4v1.5" class="br"/>
<text transform="translate(317.42,313.24) scale(0.1)" class="st" text-anchor="middle">***</text>
<path class="o" d="M326.8 325.8h0M326.8 325.4h0M326.8 323.8h0M326.8 322.4h0M326.8 321h0"/><path class="w" d="M326.8 326.9V331.2M326.8 336.7V343.7"/><rect x="323" y="331.2" width="7.6" height="5.5" fill="#E64B35" class="b"/><path class="m" d="M323 333.9h7.6"/>
<line x1="22.7" x2="22.7" y1="386.3" y2="474" class="ax"/>
<line x1="22.7" x2="332.4" y1="474" y2="474" class="ax"/>
<line x1="20.3" x2="22.7" y1="471.4" y2="471.4" class="tk"/>
<text transform="translate(19.6,473.3) scale(0.1)" class="tl" text-anchor="end">0</text>
<line x1="20.3" x2="22.7" y1="455.96" y2="455.96" class="tk"/>
<text transform="translate(19.6,457.86) scale(0.1)" class="tl" text-anchor="end">2</text>
<line x1="20.3" x2="22.7" y1="440.52" y2="440.52" class="tk"/>
<text transform="translate(19.6,442.42) scale(0.1)" class="tl" text-anchor="end">4</text>
<line x1="20.3" x2="22.7" y1="425.08" y2="425.08" class="tk"/>
<text transform="translate(19.6,426.98) scale(0.1)" class="tl" text-anchor="end">6</text>
<line x1="20.3" x2="22.7" y1="409.64" y2="409.64" class="tk"/>
<text transform="translate(19.6,411.54) scale(0.1)" class="tl" text-anchor="end">8</text>
<line x1="20.3" x2="22.7" y1="394.2" y2="394.2" class="tk"/>
<text transform="translate(19.6,396.1) scale(0.1)" class="tl" text-anchor="end">10</text>
<text transform="translate(5.4,430.15) rotate(-90) scale(0.1)" class="yt" text-anchor="middle">The expression of COMMD9</text>
<text transform="translate(10.4,430.15) rotate(-90) scale(0.1)" class="yt" text-anchor="middle">Log<tspan dy="10" font-size="36">2</tspan><tspan dy="-10"> (TPM+1)</tspan></text>
<line x1="28.3" x2="28.3" y1="474" y2="476.4" class="tk"/>
<text transform="translate(30.1,480.2) rotate(-45) scale(0.1)" class="xl" text-anchor="end">ACC</text>
<path class="o p" d="M26.3 437.6h0"/><path class="w" d="M26.3 422.8V427.5M26.3 430.3V436"/><rect x="24.5" y="427.5" width="3.6" height="2.9" fill="#4DBBD5" class="b"/><path class="m" d="M24.5 428.9h3.6"/>
<path class="w" d="M30.3 421.8V425.9M30.3 432.4V437.1"/><rect x="28.5" y="425.9" width="3.6" height="6.6" fill="#E64B35" class="b"/><path class="m" d="M28.5 429.1h3.6"/>
<path class="o" style="stroke-opacity:0.65" d="M26.3 471.4h0"/>
<line x1="37.63" x2="37.63" y1="474" y2="476.4" class="tk"/>
<text transform="translate(39.43,480.2) rotate(-45) scale(0.1)" class="xl" text-anchor="end">BLCA</text>
<path class="o p" d="M35.6 440.1h0"/><path class="w" d="M35.6 428.9V432M35.6 435.7V438.5"/><rect x="33.8" y="432" width="3.6" height="3.7" fill="#4DBBD5" class="b"/><path class="m" d="M33.8 433.6h3.6"/>
<path class="o p" d="M39.6 415.3h0M39.6 439.8h0"/><path class="w" d="M39.6 416.7V424.5M39.6 430.6V438.1"/><rect x="37.8" y="424.5" width="3.6" height="6.1" fill="#E64B35" class="b"/><path class="m" d="M37.8 427.5h3.6"/>
<path d="M35.4 403.1v-.8h4.4v1.5" class="br"/>
<text transform="translate(37.63,403) scale(0.1)" class="st" text-anchor="middle">***</text>
<line x1="46.95" x2="46.95" y1="474" y2="476.4" class="tk"/>
<text transform="translate(48.75,480.2) rotate(-45) scale(0.1)" class="xl" text-anchor="end">BRCA</text>
<path class="o p" d="M45 438.8h0"/><path class="w" d="M45 421.8V427.1M45 431.6V437.1"/><rect x="43.2" y="427.1" width="3.6" height="4.5" fill="#4DBBD5" class="b"/><path class="m" d="M43.2 429.1h3.6"/>
<path class="o" d="M49 414.4h0M49 413.3h0M49 412h0M49 411.6h0M49 410.3h0M49 408.3h0M49 406.9h0M49 406h0M49 404.7h0M49 435.3h0M49 436.9h0M49 438.7h0M49 439.8h0M49 441.1h0M49 442.5h0M49 443h0M49 444.1h0M49 445.4h0M49 447h0"/><path class="w" d="M49 415.7V423.8M49 428.3V435"/><rect x="47.2" y="423.8" width="3.6" height="4.5" fill="#E64B35" class="b"/><path class="m" d="M47.2 426.1h3.6"/>
<path d="M44.8 403.7v-.8h4.4v1.5" class="br"/>
<text transform="translate(46.95,403.62) scale(0.1)" class="st" text-anchor="middle">***</text>
<line x1="56.28" x2="56.28" y1="474" y2="476.4" class="tk"/>
<text transform="translate(58.08,480.2) rotate(-45) scale(0.1)" class="xl" text-anchor="end">CESC</text>
<path class="o p" d="M54.3 441.3h0"/><path class="w" d="M54.3 430.9V433.2M54.3 436V438.5"/><rect x="52.5" y="433.2" width="3.6" height="2.9" fill="#4DBBD5" class="b"/><path class="m" d="M52.5 434.7h3.6"/>
<path class="o p" d="M58.3 413h0M58.3 410.7h0M58.3 408.1h0"/><path class="w" d="M58.3 415.7V424.8M58.3 429.3V437.1"/><rect x="56.5" y="424.8" width="3.6" height="4.5" fill="#E64B35" class="b"/><path class="m" d="M56.5 427.1h3.6"/>
<path d="M54.1 400.5v-.8h4.4v1.5" class="br"/>
<text transform="translate(56.28,400.37) scale(0.1)" class="st" text-anchor="middle">***</text>
<line x1="65.61" x2="65.61" y1="474" y2="476.4" class="tk"/>
<text transform="translate(67.41,480.2) rotate(-45) scale(0.1)" class="xl" text-anchor="end">CHOL</text>
<path class="w" d="M63.6 434V434.4M63.6 436.9V437.5"/><rect x="61.8" y="434.4" width="3.6" height="2.5" fill="#4DBBD5" class="b"/><path class="m" d="M61.8 435.7h3.6"/>
<path class="w" d="M67.6 420.8V425.1M67.6 430.2V434"/><rect x="65.8" y="425.1" width="3.6" height="5.1" fill="#E64B35" class="b"/><path class="m" d="M65.8 427.5h3.6"/>
<path d="M63.4 420.5v-.8h4.4v1.5" class="br"/>
<text transform="translate(65.61,420.37) scale(0.1)" class="st" text-anchor="middle">***</text>
<line x1="74.94" x2="74.94" y1="474" y2="476.4" class="tk"/>
<text transform="translate(76.74,480.2) rotate(-45) scale(0.1)" class="xl" text-anchor="end">COAD</text>
<path class="o p" d="M72.9 442.6h0M72.9 443.9h0M72.9 445.8h0M72.9 446.9h0"/><path class="w" d="M72.9 426.9V433.6M72.9 436.9V441.1"/><rect x="71.1" y="433.6" width="3.6" height="3.2" fill="#4DBBD5" class="b"/><path class="m" d="M71.1 435.3h3.6"/>
<path class="o p" d="M76.9 441.6h0M76.9 443.4h0"/><path class="w" d="M76.9 418.7V428.1M76.9 432.2V439.1"/><rect x="75.1" y="428.1" width="3.6" height="4.1" fill="#E64B35" class="b"/><path class="m" d="M75.1 430.2h3.6"/>
<path class="o" style="stroke-opacity:1;stroke-width:1.5" d="M72.9 471.4h0"/>
<path d="M72.7 417v-.8h4.4v1.5" class="br"/>
<text transform="translate(74.94,416.89) scale(0.1)" class="st" text-anchor="middle">***</text>
<line x1="84.27" x2="84.27" y1="474" y2="476.4" class="tk"/>
<text transform="translate(86.07,480.2) rotate(-45) scale(0.1)" class="xl" text-anchor="end">DLBC</text>
<path class="o p" d="M82.3 460.7h0M82.3 462.8h0M82.3 464.8h0"/><path class="w" d="M82.3 421.8V434M82.3 443.5V458.1"/><rect x="80.5" y="434" width="3.6" height="9.4" fill="#4DBBD5" class="b"/><path class="m" d="M80.5 437.9h3.6"/>
<path class="w" d="M86.3 418.7V423M86.3 427.5V430.9"/><rect x="84.5" y="423" width="3.6" height="4.5" fill="#E64B35" class="b"/><path class="m" d="M84.5 425.2h3.6"/>
<path d="M82.1 417.5v-.8h4.4v1.5" class="br"/>
<text transform="translate(84.27,417.36) scale(0.1)" class="st" text-anchor="middle">***</text>
<line x1="93.6" x2="93.6" y1="474" y2="476.4" class="tk"/>
<text transform="translate(95.4,480.2) rotate(-45) scale(0.1)" class="xl" text-anchor="end">ESCA</text>
<path class="o p" d="M91.6 442.8h0M91.6 445h0M91.6 447.7h0"/><path class="w" d="M91.6 427.9V433M91.6 436.7V442.2"/><rect x="89.8" y="433" width="3.6" height="3.6" fill="#4DBBD5" class="b"/><path class="m" d="M89.8 434.8h3.6"/>
<path class="o p" d="M95.6 413.7h0"/><path class="w" d="M95.6 416.7V427.1M95.6 431.8V439.1"/><rect x="93.8" y="427.1" width="3.6" height="4.7" fill="#E64B35" class="b"/><path class="m" d="M93.8 429.3h3.6"/>
<path class="o" style="stroke-opacity:1;stroke-width:1.5" d="M91.6 471.4h0"/>
<path d="M91.4 414v-.8h4.4v1.5" class="br"/>
<text transform="translate(93.6,413.88) scale(0.1)" class="st" text-anchor="middle">***</text>
<line x1="102.92" x2="102.92" y1="474" y2="476.4" class="tk"/>
<text transform="translate(104.72,480.2) rotate(-45) scale(0.1)" class="xl" text-anchor="end">GBM</text>
<path class="o" d="M100.9 443.5h0M100.9 444.6h0M100.9 446.2h0M100.9 447.3h0M100.9 448.3h0M100.9 449.2h0M100.9 450.7h0M100.9 451.3h0M100.9 452.7h0M100.9 453.9h0"/><path class="w" d="M100.9 421.8V428.5M100.9 434.8V443.2"/><rect x="99.1" y="428.5" width="3.6" height="6.3" fill="#4DBBD5" class="b"/><path class="m" d="M99.1 431.8h3.6"/>
<path class="o p" d="M104.9 431.6h0M104.9 433.7h0M104.9 437.1h0M104.9 439h0"/><path class="w" d="M104.9 411.6V418.9M104.9 422.4V428.9"/><rect x="103.1" y="418.9" width="3.6" height="3.5" fill="#E64B35" class="b"/><path class="m" d="M103.1 420.5h3.6"/>
<path class="o" style="stroke-opacity:1;stroke-width:1.5" d="M100.9 471.4h0"/>
<path d="M100.7 410.3v-.8h4.4v1.5" class="br"/>
<text transform="translate(102.92,410.18) scale(0.1)" class="st" text-anchor="middle">***</text>
<line x1="112.25" x2="112.25" y1="474" y2="476.4" class="tk"/>
<text transform="translate(114.05,480.2) rotate(-45) scale(0.1)" class="xl" text-anchor="end">HNSC</text>
<path class="o p" d="M110.3 437.1h0M110.3 439.9h0M110.3 444.1h0"/><path class="w" d="M110.3 426.9V429.9M110.3 432.6V436"/><rect x="108.5" y="429.9" width="3.6" height="2.6" fill="#4DBBD5" class="b"/><path class="m" d="M108.5 431.2h3.6"/>
<path class="o p" d="M114.3 414.6h0M114.3 412.7h0M114.3 410.6h0M114.3 406.9h0M114.3 440.2h0"/><path class="w" d="M114.3 416.7V425.5M114.3 430.8V439.1"/><rect x="112.5" y="425.5" width="3.6" height="5.3" fill="#E64B35" class="b"/><path class="m" d="M112.5 428.1h3.6"/>
<path d="M110.1 402.1v-.8h4.4v1.5" class="br"/>
<text transform="translate(112.25,402) scale(0.1)" class="st" text-anchor="middle">***</text>
<line x1="121.58" x2="121.58" y1="474" y2="476.4" class="tk"/>
<text transform="translate(123.38,480.2) rotate(-45) scale(0.1)" class="xl" text-anchor="end">KICH</text>
<path class="o p" d="M119.6 440.7h0M119.6 443.1h0M119.6 446.9h0M119.6 450.4h0"/><path class="w" d="M119.6 416.7V421.4M119.6 431.6V439.1"/><rect x="117.8" y="421.4" width="3.6" height="10.2" fill="#4DBBD5" class="b"/><path class="m" d="M117.8 424.2h3.6"/>
<path class="w" d="M123.6 415.7V424.6M123.6 428.7V435"/><rect x="121.8" y="424.6" width="3.6" height="4.1" fill="#E64B35" class="b"/><path class="m" d="M121.8 426.7h3.6"/>
<path class="o" style="stroke-opacity:0.65" d="M119.6 471.4h0"/>
<line x1="130.91" x2="130.91" y1="474" y2="476.4" class="tk"/>
<text transform="translate(132.71,480.2) rotate(-45) scale(0.1)" class="xl" text-anchor="end">KIRC</text>
<path class="o p" d="M128.9 436h0M128.9 438.2h0M128.9 441.4h0M128.9 444.2h0M128.9 447.3h0M128.9 448.9h0"/><path class="w" d="M128.9 418.7V422.6M128.9 427.5V435"/><rect x="127.1" y="422.6" width="3.6" height="4.9" fill="#4DBBD5" class="b"/><path class="m" d="M127.1 424.8h3.6"/>
<path class="o p" d="M132.9 436.1h0"/><path class="w" d="M132.9 416.7V423.4M132.9 426.9V433"/><rect x="131.1" y="423.4" width="3.6" height="3.5" fill="#E64B35" class="b"/><path class="m" d="M131.1 425.1h3.6"/>
<path class="o" style="stroke-opacity:0.65" d="M128.9 471.4h0"/>
<line x1="140.24" x2="140.24" y1="474" y2="476.4" class="tk"/>
<text transform="translate(142.04,480.2) rotate(-45) scale(0.1)" class="xl" text-anchor="end">KIRP</text>
<path class="o p" d="M138.2 441.4h0M138.2 443.7h0M138.2 445.9h0M138.2 450.5h0"/><path class="w" d="M138.2 419.8V423.4M138.2 430.3V439.1"/><rect x="136.4" y="423.4" width="3.6" height="6.9" fill="#4DBBD5" class="b"/><path class="m" d="M136.4 425.9h3.6"/>
<path class="w" d="M142.2 413.6V421M142.2 424.8V433"/><rect x="140.4" y="421" width="3.6" height="3.9" fill="#E64B35" class="b"/><path class="m" d="M140.4 422.8h3.6"/>
<path class="o" style="stroke-opacity:0.65" d="M138.2 471.4h0"/>
<path d="M138 411.9v-.8h4.4v1.5" class="br"/>
<text transform="translate(140.24,411.8) scale(0.1)" class="st" text-anchor="middle">***</text>
<line x1="149.57" x2="149.57" y1="474" y2="476.4" class="tk"/>
<text transform="translate(151.37,480.2) rotate(-45) scale(0.1)" class="xl" text-anchor="end">LAML</text>
<path class="o p" d="M147.6 437.4h0"/><path class="w" d="M147.6 433.2V434M147.6 435.7V436.5"/><rect x="145.8" y="434" width="3.6" height="1.6" fill="#4DBBD5" class="b"/><path class="m" d="M145.8 434.8h3.6"/>
<path class="o p" d="M151.6 439.4h0M151.6 440.9h0M151.6 443.5h0"/><path class="w" d="M151.6 416.7V424.2M151.6 429.3V437.1"/><rect x="149.8" y="424.2" width="3.6" height="5.1" fill="#E64B35" class="b"/><path class="m" d="M149.8 426.7h3.6"/>
<path d="M147.4 417.5v-.8h4.4v1.5" class="br"/>
<text transform="translate(149.57,417.36) scale(0.1)" class="st" text-anchor="middle">***</text>
<line x1="158.89" x2="158.89" y1="474" y2="476.4" class="tk"/>
<text transform="translate(160.69,480.2) rotate(-45) scale(0.1)" class="xl" text-anchor="end">LGG</text>
<path class="o" d="M156.9 445.1h0M156.9 445.9h0M156.9 447.6h0M156.9 448.3h0M156.9 449.2h0M156.9 450.3h0M156.9 451.6h0M156.9 453h0M156.9 454.4h0"/><path class="w" d="M156.9 421.8V428.9M156.9 435V444.2"/><rect x="155.1" y="428.9" width="3.6" height="6.1" fill="#4DBBD5" class="b"/><path class="m" d="M155.1 432h3.6"/>
<path class="o p" d="M160.9 431.8h0"/><path class="w" d="M160.9 412.6V420.1M160.9 423.8V430.9"/><rect x="159.1" y="420.1" width="3.6" height="3.7" fill="#E64B35" class="b"/><path class="m" d="M159.1 422h3.6"/>
<path class="o" style="stroke-opacity:1;stroke-width:1.5" d="M156.9 471.4h0"/>
<path d="M156.7 411.3v-.8h4.4v1.5" class="br"/>
<text transform="translate(158.89,411.18) scale(0.1)" class="st" text-anchor="middle">***</text>
<line x1="168.22" x2="168.22" y1="474" y2="476.4" class="tk"/>
<text transform="translate(170.02,480.2) rotate(-45) scale(0.1)" class="xl" text-anchor="end">LIHC</text>
<path class="o p" d="M166.2 446.1h0M166.2 449.1h0"/><path class="w" d="M166.2 429.9V434.4M166.2 438.5V444.2"/><rect x="164.4" y="434.4" width="3.6" height="4.1" fill="#4DBBD5" class="b"/><path class="m" d="M164.4 436.5h3.6"/>
<path class="o p" d="M170.2 412.7h0"/><path class="w" d="M170.2 416.7V425.9M170.2 431.3V440.1"/><rect x="168.4" y="425.9" width="3.6" height="5.5" fill="#E64B35" class="b"/><path class="m" d="M168.4 428.5h3.6"/>
<path d="M166 393.1v-.8h4.4v1.5" class="br"/>
<text transform="translate(168.22,393.04) scale(0.1)" class="st" text-anchor="middle">***</text>
<line x1="177.55" x2="177.55" y1="474" y2="476.4" class="tk"/>
<text transform="translate(179.35,480.2) rotate(-45) scale(0.1)" class="xl" text-anchor="end">LUAD</text>
<path class="o p" d="M175.5 440.6h0M175.5 442.1h0M175.5 443.7h0M175.5 445.8h0M175.5 448h0M175.5 449.6h0M175.5 451h0"/><path class="w" d="M175.5 418.7V426.7M175.5 431.8V440.1"/><rect x="173.7" y="426.7" width="3.6" height="5.1" fill="#4DBBD5" class="b"/><path class="m" d="M173.7 429.3h3.6"/>
<path class="o p" d="M179.5 411.6h0M179.5 440.4h0"/><path class="w" d="M179.5 414.7V424.8M179.5 429.6V438.1"/><rect x="177.7" y="424.8" width="3.6" height="4.7" fill="#E64B35" class="b"/><path class="m" d="M177.7 427.1h3.6"/>
<path class="o" style="stroke-opacity:0.65" d="M175.5 471.4h0"/>
<path d="M175.3 410.7v-.8h4.4v1.5" class="br"/>
<text transform="translate(177.55,410.56) scale(0.1)" class="st" text-anchor="middle">***</text>
<line x1="186.88" x2="186.88" y1="474" y2="476.4" class="tk"/>
<text transform="translate(188.68,480.2) rotate(-45) scale(0.1)" class="xl" text-anchor="end">LUSC</text>
<path class="o p" d="M184.9 440.9h0M184.9 442.3h0M184.9 444.8h0M184.9 446.2h0M184.9 446.9h0M184.9 449.3h0M184.9 450.5h0"/><path class="w" d="M184.9 419.8V427.1M184.9 432V440.1"/><rect x="183.1" y="427.1" width="3.6" height="4.9" fill="#4DBBD5" class="b"/><path class="m" d="M183.1 429.6h3.6"/>
<path class="o p" d="M188.9 439.7h0"/><path class="w" d="M188.9 415.7V426.7M188.9 431.3V438.1"/><rect x="187.1" y="426.7" width="3.6" height="4.6" fill="#E64B35" class="b"/><path class="m" d="M187.1 428.9h3.6"/>
<path class="o" style="stroke-opacity:0.65" d="M184.9 471.4h0"/>
<path d="M184.7 407.2v-.8h4.4v1.5" class="br"/>
<text transform="translate(186.88,407.09) scale(0.1)" class="st" text-anchor="middle">*</text>
<line x1="196.21" x2="196.21" y1="474" y2="476.4" class="tk"/>
<text transform="translate(198.01,480.2) rotate(-45) scale(0.1)" class="xl" text-anchor="end">MESO</text>
<path class="o" d="M196.2 418.1h0M196.2 417.1h0"/><path class="w" d="M196.2 418.7V423.4M196.2 427.9V430.9"/><rect x="192.4" y="423.4" width="7.6" height="4.6" fill="#E64B35" class="b"/><path class="m" d="M192.4 425.6h7.6"/>
<line x1="205.53" x2="205.53" y1="474" y2="476.4" class="tk"/>
<text transform="translate(207.33,480.2) rotate(-45) scale(0.1)" class="xl" text-anchor="end">OV</text>
<path class="o p" d="M203.5 441.8h0"/><path class="w" d="M203.5 430.9V434M203.5 437.3V441.1"/><rect x="201.7" y="434" width="3.6" height="3.2" fill="#4DBBD5" class="b"/><path class="m" d="M201.7 435.7h3.6"/>
<path class="w" d="M207.5 415.7V423.8M207.5 429.6V437.1"/><rect x="205.7" y="423.8" width="3.6" height="5.7" fill="#E64B35" class="b"/><path class="m" d="M205.7 426.7h3.6"/>
<path d="M203.3 411.3v-.8h4.4v1.5" class="br"/>
<text transform="translate(205.53,411.18) scale(0.1)" class="st" text-anchor="middle">***</text>
<line x1="214.86" x2="214.86" y1="474" y2="476.4" class="tk"/>
<text transform="translate(216.66,480.2) rotate(-45) scale(0.1)" class="xl" text-anchor="end">PAAD</text>
<path class="o p" d="M212.9 448.7h0"/><path class="w" d="M212.9 433V438.5M212.9 442.6V447.3"/><rect x="211.1" y="438.5" width="3.6" height="4.1" fill="#4DBBD5" class="b"/><path class="m" d="M211.1 440.6h3.6"/>
<path class="o p" d="M216.9 419.5h0M216.9 415.8h0"/><path class="w" d="M216.9 420.8V425.9M216.9 429.1V434"/><rect x="215.1" y="425.9" width="3.6" height="3.2" fill="#E64B35" class="b"/><path class="m" d="M215.1 427.5h3.6"/>
<path class="o" style="stroke-opacity:0.85" d="M212.9 471.4h0"/>
<path d="M212.7 411.3v-.8h4.4v1.5" class="br"/>
<text transform="translate(214.86,411.18) scale(0.1)" class="st" text-anchor="middle">***</text>
<line x1="224.19" x2="224.19" y1="474" y2="476.4" class="tk"/>
<text transform="translate(225.99,480.2) rotate(-45) scale(0.1)" class="xl" text-anchor="end">PCPG</text>
<path class="w" d="M222.2 425.8V426.1M222.2 426.7V427"/><rect x="220.4" y="426.1" width="3.6" height="0.6" fill="#4DBBD5" class="b"/><path class="m" d="M220.4 426.4h3.6"/>
<path class="o p" d="M226.2 418.8h0"/><path class="w" d="M226.2 419.8V426.5M226.2 431.6V439.1"/><rect x="224.4" y="426.5" width="3.6" height="5.1" fill="#E64B35" class="b"/><path class="m" d="M224.4 428.9h3.6"/>
<line x1="233.52" x2="233.52" y1="474" y2="476.4" class="tk"/>
<text transform="translate(235.32,480.2) rotate(-45) scale(0.1)" class="xl" text-anchor="end">PRAD</text>
<path class="o p" d="M231.5 442.7h0M231.5 443.7h0M231.5 446.6h0M231.5 450.2h0"/><path class="w" d="M231.5 428.9V432.4M231.5 435.4V440.1"/><rect x="229.7" y="432.4" width="3.6" height="3" fill="#4DBBD5" class="b"/><path class="m" d="M229.7 434h3.6"/>
<path class="o p" d="M235.5 440.8h0"/><path class="w" d="M235.5 423.8V429.3M235.5 432.4V438.1"/><rect x="233.7" y="429.3" width="3.6" height="3.1" fill="#E64B35" class="b"/><path class="m" d="M233.7 430.8h3.6"/>
<path d="M231.3 422.1v-.8h4.4v1.5" class="br"/>
<text transform="translate(233.52,421.99) scale(0.1)" class="st" text-anchor="middle">***</text>
<line x1="242.85" x2="242.85" y1="474" y2="476.4" class="tk"/>
<text transform="translate(244.65,480.2) rotate(-45) scale(0.1)" class="xl" text-anchor="end">READ</text>
<path class="o p" d="M240.8 443.3h0M240.8 444.7h0M240.8 447.4h0"/><path class="w" d="M240.8 428.9V434M240.8 437.3V442.2"/><rect x="239" y="434" width="3.6" height="3.2" fill="#4DBBD5" class="b"/><path class="m" d="M239 435.7h3.6"/>
<path class="w" d="M244.8 421.8V427.1M244.8 431.8V437.1"/><rect x="243" y="427.1" width="3.6" height="4.7" fill="#E64B35" class="b"/><path class="m" d="M243 429.3h3.6"/>
<path class="o" style="stroke-opacity:1;stroke-width:1.5" d="M240.8 471.4h0"/>
<path d="M240.6 421.5v-.8h4.4v1.5" class="br"/>
<text transform="translate(242.85,421.37) scale(0.1)" class="st" text-anchor="middle">***</text>
<line x1="252.18" x2="252.18" y1="474" y2="476.4" class="tk"/>
<text transform="translate(253.98,480.2) rotate(-45) scale(0.1)" class="xl" text-anchor="end">SARC</text>
<path class="w" d="M250.2 425.9V427.5M250.2 429.6V431.6"/><rect x="248.4" y="427.5" width="3.6" height="2.1" fill="#4DBBD5" class="b"/><path class="m" d="M248.4 428.5h3.6"/>
<path class="o p" d="M254.2 412.1h0M254.2 407.6h0M254.2 406.4h0"/><path class="w" d="M254.2 413.6V422.6M254.2 429.6V439.1"/><rect x="252.4" y="422.6" width="3.6" height="6.9" fill="#E64B35" class="b"/><path class="m" d="M252.4 426.2h3.6"/>
<line x1="261.5" x2="261.5" y1="474" y2="476.4" class="tk"/>
<text transform="translate(263.3,480.2) rotate(-45) scale(0.1)" class="xl" text-anchor="end">SKCM</text>
<path class="o p" d="M259.5 437.3h0M259.5 441.1h0"/><path class="w" d="M259.5 425.9V429.6M259.5 432.6V436"/><rect x="257.7" y="429.6" width="3.6" height="3" fill="#4DBBD5" class="b"/><path class="m" d="M257.7 431.2h3.6"/>
<path class="w" d="M263.5 413.6V422M263.5 427.7V437.1"/><rect x="261.7" y="422" width="3.6" height="5.7" fill="#E64B35" class="b"/><path class="m" d="M261.7 424.8h3.6"/>
<path d="M259.3 414v-.8h4.4v1.5" class="br"/>
<text transform="translate(261.5,413.88) scale(0.1)" class="st" text-anchor="middle">***</text>
<line x1="270.83" x2="270.83" y1="474" y2="476.4" class="tk"/>
<text transform="translate(272.63,480.2) rotate(-45) scale(0.1)" class="xl" text-anchor="end">STAD</text>
<path class="o p" d="M268.8 445.9h0"/><path class="w" d="M268.8 428.9V435.3M268.8 439.7V445.2"/><rect x="267" y="435.3" width="3.6" height="4.5" fill="#4DBBD5" class="b"/><path class="m" d="M267 437.5h3.6"/>
<path class="o p" d="M272.8 417.3h0M272.8 413.7h0M272.8 411.2h0M272.8 410.1h0M272.8 407.4h0M272.8 404.7h0M272.8 440.5h0M272.8 441.7h0"/><path class="w" d="M272.8 418.7V427.5M272.8 431.8V438.1"/><rect x="271" y="427.5" width="3.6" height="4.3" fill="#E64B35" class="b"/><path class="m" d="M271 429.6h3.6"/>
<path class="o" style="stroke-opacity:1;stroke-width:1.5" d="M268.8 471.4h0"/>
<path d="M268.6 403.7v-.8h4.4v1.5" class="br"/>
<text transform="translate(270.83,403.62) scale(0.1)" class="st" text-anchor="middle">***</text>
<line x1="280.16" x2="280.16" y1="474" y2="476.4" class="tk"/>
<text transform="translate(281.96,480.2) rotate(-45) scale(0.1)" class="xl" text-anchor="end">TGCT</text>
<path class="w" d="M278.2 428.9V430.9M278.2 433.6V436"/><rect x="276.4" y="430.9" width="3.6" height="2.7" fill="#4DBBD5" class="b"/><path class="m" d="M276.4 432.2h3.6"/>
<path class="o p" d="M282.2 436.7h0"/><path class="w" d="M282.2 421.8V425.9M282.2 429.7V435"/><rect x="280.4" y="425.9" width="3.6" height="3.9" fill="#E64B35" class="b"/><path class="m" d="M280.4 427.7h3.6"/>
<path d="M278 417.5v-.8h4.4v1.5" class="br"/>
<text transform="translate(280.16,417.36) scale(0.1)" class="st" text-anchor="middle">***</text>
<line x1="289.49" x2="289.49" y1="474" y2="476.4" class="tk"/>
<text transform="translate(291.29,480.2) rotate(-45) scale(0.1)" class="xl" text-anchor="end">THCA</text>
<path class="o p" d="M287.5 439h0"/><path class="w" d="M287.5 424.8V429.3M287.5 432.4V438.1"/><rect x="285.7" y="429.3" width="3.6" height="3.1" fill="#4DBBD5" class="b"/><path class="m" d="M285.7 430.8h3.6"/>
<path class="w" d="M291.5 421.8V427.1M291.5 429.7V435"/><rect x="289.7" y="427.1" width="3.6" height="2.6" fill="#E64B35" class="b"/><path class="m" d="M289.7 428.3h3.6"/>
<path class="o" style="stroke-opacity:0.75" d="M287.5 471.4h0"/>
<path d="M287.3 419.1v-.8h4.4v1.5" class="br"/>
<text transform="translate(289.49,418.98) scale(0.1)" class="st" text-anchor="middle">***</text>
<line x1="298.82" x2="298.82" y1="474" y2="476.4" class="tk"/>
<text transform="translate(300.62,480.2) rotate(-45) scale(0.1)" class="xl" text-anchor="end">THYM</text>
<path class="o p" d="M296.8 458.9h0M296.8 461.7h0M296.8 466.2h0"/><path class="w" d="M296.8 422.8V434M296.8 443.5V457.5"/><rect x="295" y="434" width="3.6" height="9.4" fill="#4DBBD5" class="b"/><path class="m" d="M295 437.9h3.6"/>
<path class="w" d="M300.8 416.7V422M300.8 424.6V429.9"/><rect x="299" y="422" width="3.6" height="2.6" fill="#E64B35" class="b"/><path class="m" d="M299 423.2h3.6"/>
<path d="M296.6 415v-.8h4.4v1.5" class="br"/>
<text transform="translate(298.82,414.89) scale(0.1)" class="st" text-anchor="middle">***</text>
<line x1="308.15" x2="308.15" y1="474" y2="476.4" class="tk"/>
<text transform="translate(309.95,480.2) rotate(-45) scale(0.1)" class="xl" text-anchor="end">UCEC</text>
<path class="o p" d="M306.1 442.3h0"/><path class="w" d="M306.1 425.9V432.6M306.1 436V440.1"/><rect x="304.3" y="432.6" width="3.6" height="3.5" fill="#4DBBD5" class="b"/><path class="m" d="M304.3 434.3h3.6"/>
<path class="o p" d="M310.1 437.5h0M310.1 442.4h0"/><path class="w" d="M310.1 413.6V422.8M310.1 428.3V436"/><rect x="308.3" y="422.8" width="3.6" height="5.6" fill="#E64B35" class="b"/><path class="m" d="M308.3 425.5h3.6"/>
<path d="M305.9 412.3v-.8h4.4v1.5" class="br"/>
<text transform="translate(308.15,412.19) scale(0.1)" class="st" text-anchor="middle">***</text>
<line x1="317.47" x2="317.47" y1="474" y2="476.4" class="tk"/>
<text transform="translate(319.27,480.2) rotate(-45) scale(0.1)" class="xl" text-anchor="end">UCS</text>
<path class="o p" d="M315.5 441.3h0"/><path class="w" d="M315.5 430.9V433.6M315.5 436.5V439.7"/><rect x="313.7" y="433.6" width="3.6" height="2.9" fill="#4DBBD5" class="b"/><path class="m" d="M313.7 435h3.6"/>
<path class="o p" d="M319.5 438.2h0M319.5 440.3h0M319.5 444.5h0M319.5 447.4h0M319.5 449.5h0M319.5 452.8h0M319.5 453.4h0"/><path class="w" d="M319.5 419.8V425.1M319.5 430.8V437.1"/><rect x="317.7" y="425.1" width="3.6" height="5.7" fill="#E64B35" class="b"/><path class="m" d="M317.7 427.9h3.6"/>
<path d="M315.3 420.1v-.8h4.4v1.5" class="br"/>
<text transform="translate(317.47,419.98) scale(0.1)" class="st" text-anchor="middle">***</text>
<line x1="326.8" x2="326.8" y1="474" y2="476.4" class="tk"/>
<text transform="translate(328.6,480.2) rotate(-45) scale(0.1)" class="xl" text-anchor="end">UVM</text>
<path class="w" d="M326.8 415.7V420.8M326.8 425.5V427.9"/><rect x="323" y="420.8" width="7.6" height="4.7" fill="#E64B35" class="b"/><path class="m" d="M323 423h7.6"/>
<line x1="372.5" x2="372.5" y1="12.3" y2="99.5" class="ax"/>
<line x1="372.5" x2="684.7" y1="99.5" y2="99.5" class="ax"/>
<line x1="370.1" x2="372.5" y1="96.7" y2="96.7" class="tk"/>
<text transform="translate(369.4,98.6) scale(0.1)" class="tl" text-anchor="end">0</text>
<line x1="370.1" x2="372.5" y1="76.5" y2="76.5" class="tk"/>
<text transform="translate(369.4,78.4) scale(0.1)" class="tl" text-anchor="end">2</text>
<line x1="370.1" x2="372.5" y1="56.3" y2="56.3" class="tk"/>
<text transform="translate(369.4,58.2) scale(0.1)" class="tl" text-anchor="end">4</text>
<line x1="370.1" x2="372.5" y1="36.1" y2="36.1" class="tk"/>
<text transform="translate(369.4,38) scale(0.1)" class="tl" text-anchor="end">6</text>
<line x1="370.1" x2="372.5" y1="15.9" y2="15.9" class="tk"/>
<text transform="translate(369.4,17.8) scale(0.1)" class="tl" text-anchor="end">8</text>
<text transform="translate(356.7,55.9) rotate(-90) scale(0.1)" class="yt" text-anchor="middle">The expression of COMMD2</text>
<text transform="translate(361.7,55.9) rotate(-90) scale(0.1)" class="yt" text-anchor="middle">Log<tspan dy="10" font-size="36">2</tspan><tspan dy="-10"> (TPM+1)</tspan></text>
<path class="o p" d="M376.1 74.4h0M376.1 77.5h0M376.1 81h0M376.1 83.5h0"/><path class="w" d="M376.1 54.1V61.1M376.1 66.3V73.5"/><rect x="374.3" y="61.1" width="3.6" height="5.2" fill="#4DBBD5" class="b"/><path class="m" d="M374.3 63.7h3.6"/>
<path class="o p" d="M380.1 88.7h0"/><path class="w" d="M380.1 44.8V61.1M380.1 71.5V86.7"/><rect x="378.3" y="61.1" width="3.6" height="10.3" fill="#E64B35" class="b"/><path class="m" d="M378.3 64.9h3.6"/>
<path class="o" style="stroke-opacity:0.65" d="M376.1 96.7h0"/>
<path d="M375.9 44.6v-.8h4.4v1.5" class="br"/>
<text transform="translate(378.14,44.46) scale(0.1)" class="st" text-anchor="middle">***</text>
<path class="o p" d="M385.5 67.4h0M385.5 70.5h0M385.5 73.4h0"/><path class="w" d="M385.5 55.1V59.3M385.5 64.9V66.3"/><rect x="383.7" y="59.3" width="3.6" height="5.6" fill="#4DBBD5" class="b"/><path class="m" d="M383.7 62.2h3.6"/>
<path class="o p" d="M389.5 84.5h0M389.5 85.7h0"/><path class="w" d="M389.5 37.7V53.2M389.5 63.5V81.7"/><rect x="387.7" y="53.2" width="3.6" height="10.3" fill="#E64B35" class="b"/><path class="m" d="M387.7 58.3h3.6"/>
<path d="M385.3 38.4v-.8h4.4v1.5" class="br"/>
<text transform="translate(387.55,38.3) scale(0.1)" class="st" text-anchor="middle">**</text>
<path class="o p" d="M394.9 71h0"/><path class="w" d="M394.9 44.8V53M394.9 59.5V68.3"/><rect x="393.1" y="53" width="3.6" height="6.6" fill="#4DBBD5" class="b"/><path class="m" d="M393.1 56.1h3.6"/>
<path class="o" d="M398.9 36.7h0M398.9 35.4h0M398.9 34.2h0M398.9 33.1h0M398.9 32.1h0M398.9 30.9h0M398.9 29.6h0M398.9 27.9h0M398.9 27.3h0M398.9 70.8h0M398.9 72.6h0M398.9 73.4h0M398.9 74.4h0M398.9 75.7h0M398.9 77.4h0M398.9 78.5h0M398.9 80.4h0M398.9 81.5h0"/><path class="w" d="M398.9 37.7V50.1M398.9 58.1V70.3"/><rect x="397.1" y="50.1" width="3.6" height="8" fill="#E64B35" class="b"/><path class="m" d="M397.1 54h3.6"/>
<path d="M394.7 18v-.8h4.4v1.5" class="br"/>
<text transform="translate(396.95,17.89) scale(0.1)" class="st" text-anchor="middle">***</text>
<path class="o p" d="M404.4 64.8h0M404.4 65.9h0"/><path class="w" d="M404.4 53V55.3M404.4 59.7V62.3"/><rect x="402.6" y="55.3" width="3.6" height="4.4" fill="#4DBBD5" class="b"/><path class="m" d="M402.6 57.5h3.6"/>
<path class="o p" d="M408.4 71.3h0M408.4 74.9h0"/><path class="w" d="M408.4 35.6V46.3M408.4 55.5V70.3"/><rect x="406.6" y="46.3" width="3.6" height="9.2" fill="#E64B35" class="b"/><path class="m" d="M406.6 50.9h3.6"/>
<path d="M404.2 29.2v-.8h4.4v1.5" class="br"/>
<text transform="translate(406.35,29.1) scale(0.1)" class="st" text-anchor="middle">***</text>
<path class="w" d="M413.8 67.3V72.5M413.8 76.5V77.5"/><rect x="412" y="72.5" width="3.6" height="4" fill="#4DBBD5" class="b"/><path class="m" d="M412 74.5h3.6"/>
<path class="o p" d="M417.8 70.2h0"/><path class="w" d="M417.8 48.9V55.1M417.8 60.9V68.3"/><rect x="416" y="55.1" width="3.6" height="5.9" fill="#E64B35" class="b"/><path class="m" d="M416 57.9h3.6"/>
<path d="M413.6 48.3v-.8h4.4v1.5" class="br"/>
<text transform="translate(415.76,48.19) scale(0.1)" class="st" text-anchor="middle">***</text>
<path class="o p" d="M423.2 52.8h0M423.2 51.4h0M423.2 50h0"/><path class="w" d="M423.2 54.1V60.9M423.2 65.7V73.5"/><rect x="421.4" y="60.9" width="3.6" height="4.7" fill="#4DBBD5" class="b"/><path class="m" d="M421.4 63.3h3.6"/>
<path class="w" d="M427.2 44.8V54.5M427.2 60.9V70.3"/><rect x="425.4" y="54.5" width="3.6" height="6.5" fill="#E64B35" class="b"/><path class="m" d="M425.4 57.7h3.6"/>
<path class="o" style="stroke-opacity:1;stroke-width:1.5" d="M423.2 96.7h0"/>
<path d="M423 43.5v-.8h4.4v1.5" class="br"/>
<text transform="translate(425.16,43.45) scale(0.1)" class="st" text-anchor="middle">***</text>
<path class="w" d="M432.6 47.9V63.5M432.6 86.7V96.4"/><rect x="430.8" y="63.5" width="3.6" height="23.2" fill="#4DBBD5" class="b"/><path class="m" d="M430.8 78.1h3.6"/>
<path class="w" d="M436.6 48.9V57.9M436.6 74.5V79.6"/><rect x="434.8" y="57.9" width="3.6" height="16.6" fill="#E64B35" class="b"/><path class="m" d="M434.8 65.3h3.6"/>
<path d="M432.4 46.6v-.8h4.4v1.5" class="br"/>
<text transform="translate(434.56,46.48) scale(0.1)" class="st" text-anchor="middle">***</text>
<path class="o p" d="M442 71.2h0M442 73.1h0M442 74.8h0M442 76.6h0M442 78.3h0"/><path class="w" d="M442 53V59.1M442 63.7V70.3"/><rect x="440.2" y="59.1" width="3.6" height="4.5" fill="#4DBBD5" class="b"/><path class="m" d="M440.2 61.1h3.6"/>
<path class="o p" d="M446 67.5h0M446 69.3h0"/><path class="w" d="M446 31.6V47.1M446 54.9V65.3"/><rect x="444.2" y="47.1" width="3.6" height="7.8" fill="#E64B35" class="b"/><path class="m" d="M444.2 50.9h3.6"/>
<path class="o" style="stroke-opacity:1;stroke-width:1.5" d="M442 96.7h0"/>
<path d="M441.8 31.3v-.8h4.4v1.5" class="br"/>
<text transform="translate(443.97,31.23) scale(0.1)" class="st" text-anchor="middle">***</text>
<path class="o" d="M451.4 87.9h0M451.4 88.7h0M451.4 90.4h0"/><path class="w" d="M451.4 54.1V62.5M451.4 72.5V86.7"/><rect x="449.6" y="62.5" width="3.6" height="10" fill="#4DBBD5" class="b"/><path class="m" d="M449.6 67.9h3.6"/>
<path class="o p" d="M455.4 63.7h0M455.4 67.4h0M455.4 69h0M455.4 71.9h0M455.4 74.8h0"/><path class="w" d="M455.4 31.6V45M455.4 51.8V62.3"/><rect x="453.6" y="45" width="3.6" height="6.8" fill="#E64B35" class="b"/><path class="m" d="M453.6 48.3h3.6"/>
<path class="o" style="stroke-opacity:1;stroke-width:1.5" d="M451.4 96.7h0"/>
<path d="M451.2 30.2v-.8h4.4v1.5" class="br"/>
<text transform="translate(453.37,30.11) scale(0.1)" class="st" text-anchor="middle">***</text>
<path class="o p" d="M460.8 71.1h0M460.8 75h0M460.8 76.9h0M460.8 78.9h0M460.8 81.5h0"/><path class="w" d="M460.8 53V57.9M460.8 63.5V70.3"/><rect x="459" y="57.9" width="3.6" height="5.6" fill="#4DBBD5" class="b"/><path class="m" d="M459 60.5h3.6"/>
<path class="o p" d="M464.8 75.3h0M464.8 77h0M464.8 79.3h0M464.8 83.4h0M464.8 85.9h0"/><path class="w" d="M464.8 32.6V46.5M464.8 56.1V72.5"/><rect x="463" y="46.5" width="3.6" height="9.6" fill="#E64B35" class="b"/><path class="m" d="M463 50.9h3.6"/>
<path d="M460.6 31.3v-.8h4.4v1.5" class="br"/>
<text transform="translate(462.77,31.23) scale(0.1)" class="st" text-anchor="middle">***</text>
<path class="w" d="M470.2 42.8V52.2M470.2 68.5V88.8"/><rect x="468.4" y="52.2" width="3.6" height="16.4" fill="#4DBBD5" class="b"/><path class="m" d="M468.4 60.1h3.6"/>
<path class="o p" d="M474.2 82.6h0"/><path class="w" d="M474.2 47.9V56.3M474.2 66.3V78.5"/><rect x="472.4" y="56.3" width="3.6" height="10" fill="#E64B35" class="b"/><path class="m" d="M472.4 61.1h3.6"/>
<path class="o" style="stroke-opacity:0.65" d="M470.2 96.7h0"/>
<path class="o p" d="M479.6 77.2h0M479.6 80.4h0M479.6 83.5h0M479.6 86h0M479.6 88.7h0"/><path class="w" d="M479.6 46.9V53.4M479.6 62.5V76.5"/><rect x="477.8" y="53.4" width="3.6" height="9.1" fill="#4DBBD5" class="b"/><path class="m" d="M477.8 57.5h3.6"/>
<path class="o p" d="M483.6 71h0M483.6 74.4h0M483.6 76.8h0M483.6 79.8h0"/><path class="w" d="M483.6 38.7V51.6M483.6 59.1V70.3"/><rect x="481.8" y="51.6" width="3.6" height="7.6" fill="#E64B35" class="b"/><path class="m" d="M481.8 55.3h3.6"/>
<path class="o" style="stroke-opacity:0.65" d="M479.6 96.7h0"/>
<path d="M479.4 39.4v-.8h4.4v1.5" class="br"/>
<text transform="translate(481.58,39.31) scale(0.1)" class="st" text-anchor="middle">**</text>
<path class="o p" d="M489 77.3h0M489 79.3h0M489 82.9h0M489 84.5h0M489 88.5h0"/><path class="w" d="M489 53V59.5M489 65.7V74.5"/><rect x="487.2" y="59.5" width="3.6" height="6.2" fill="#4DBBD5" class="b"/><path class="m" d="M487.2 62.7h3.6"/>
<path class="o p" d="M493 79.3h0"/><path class="w" d="M493 37.7V52.2M493 63.3V77.5"/><rect x="491.2" y="52.2" width="3.6" height="11.1" fill="#E64B35" class="b"/><path class="m" d="M491.2 57.1h3.6"/>
<path class="o" style="stroke-opacity:0.65" d="M489 96.7h0"/>
<path d="M488.8 39v-.8h4.4v1.5" class="br"/>
<text transform="translate(490.99,38.9) scale(0.1)" class="st" text-anchor="middle">***</text>
<path class="w" d="M498.4 45.9V50.5M498.4 52.4V53.2"/><rect x="496.6" y="50.5" width="3.6" height="1.8" fill="#4DBBD5" class="b"/><path class="m" d="M496.6 51.4h3.6"/>
<path class="o p" d="M502.4 69.4h0M502.4 73h0"/><path class="w" d="M502.4 45.9V52.2M502.4 57.7V68.3"/><rect x="500.6" y="52.2" width="3.6" height="5.6" fill="#E64B35" class="b"/><path class="m" d="M500.6 54.9h3.6"/>
<path d="M498.2 42.1v-.8h4.4v1.5" class="br"/>
<text transform="translate(500.39,42.03) scale(0.1)" class="st" text-anchor="middle">***</text>
<path class="o" d="M507.8 88h0M507.8 88.5h0M507.8 90.4h0"/><path class="w" d="M507.8 53V62.5M507.8 72.5V86.7"/><rect x="506" y="62.5" width="3.6" height="10" fill="#4DBBD5" class="b"/><path class="m" d="M506 67.9h3.6"/>
<path class="o p" d="M511.8 36.5h0M511.8 67.8h0"/><path class="w" d="M511.8 38.7V50.3M511.8 57.7V66.3"/><rect x="510" y="50.3" width="3.6" height="7.4" fill="#E64B35" class="b"/><path class="m" d="M510 54h3.6"/>
<path class="o" style="stroke-opacity:1;stroke-width:1.5" d="M507.8 96.7h0"/>
<path d="M507.6 22v-.8h4.4v1.5" class="br"/>
<text transform="translate(509.79,21.93) scale(0.1)" class="st" text-anchor="middle">***</text>
<path class="o p" d="M517.2 84.7h0"/><path class="w" d="M517.2 67.3V72.5M517.2 77.9V82.7"/><rect x="515.4" y="72.5" width="3.6" height="5.5" fill="#4DBBD5" class="b"/><path class="m" d="M515.4 75.3h3.6"/>
<path class="w" d="M521.2 42.8V60.1M521.2 71.5V85.7"/><rect x="519.4" y="60.1" width="3.6" height="11.3" fill="#E64B35" class="b"/><path class="m" d="M519.4 65.5h3.6"/>
<path d="M517 38.4v-.8h4.4v1.5" class="br"/>
<text transform="translate(519.2,38.3) scale(0.1)" class="st" text-anchor="middle">***</text>
<path class="o p" d="M526.6 68.9h0M526.6 70.8h0M526.6 72.7h0M526.6 75.1h0M526.6 77h0"/><path class="w" d="M526.6 46.9V53.4M526.6 58.9V68.3"/><rect x="524.8" y="53.4" width="3.6" height="5.6" fill="#4DBBD5" class="b"/><path class="m" d="M524.8 56.3h3.6"/>
<path class="o p" d="M530.6 34.7h0M530.6 32.5h0"/><path class="w" d="M530.6 35.6V51.4M530.6 59.7V74.5"/><rect x="528.8" y="51.4" width="3.6" height="8.4" fill="#E64B35" class="b"/><path class="m" d="M528.8 55.7h3.6"/>
<path class="o" style="stroke-opacity:0.65" d="M526.6 96.7h0"/>
<path class="o p" d="M536 67h0M536 69.1h0M536 70.1h0M536 71.8h0M536 73.3h0M536 75.6h0M536 76.9h0"/><path class="w" d="M536 47.9V54.1M536 59.1V66.3"/><rect x="534.2" y="54.1" width="3.6" height="5" fill="#4DBBD5" class="b"/><path class="m" d="M534.2 56.5h3.6"/>
<path class="w" d="M540 28.5V40.9M540 50.7V66.3"/><rect x="538.2" y="40.9" width="3.6" height="9.8" fill="#E64B35" class="b"/><path class="m" d="M538.2 45.9h3.6"/>
<path class="o" style="stroke-opacity:0.65" d="M536 96.7h0"/>
<path d="M535.8 21v-.8h4.4v1.5" class="br"/>
<text transform="translate(538,20.92) scale(0.1)" class="st" text-anchor="middle">***</text>
<path class="o" d="M547.4 70.6h0M547.4 71.9h0M547.4 73.5h0M547.4 74.8h0M547.4 76.2h0M547.4 76.9h0M547.4 78.2h0M547.4 79.9h0"/><path class="w" d="M547.4 44.8V53.4M547.4 60.9V70.3"/><rect x="543.6" y="53.4" width="7.6" height="7.6" fill="#E64B35" class="b"/><path class="m" d="M543.6 57.1h7.6"/>
<path class="w" d="M554.8 52V54.3M554.8 57.7V61.1"/><rect x="553" y="54.3" width="3.6" height="3.4" fill="#4DBBD5" class="b"/><path class="m" d="M553 56.1h3.6"/>
<path class="o p" d="M558.8 75.5h0"/><path class="w" d="M558.8 30.5V46.5M558.8 57.7V74.5"/><rect x="557" y="46.5" width="3.6" height="11.2" fill="#E64B35" class="b"/><path class="m" d="M557 52h3.6"/>
<path d="M554.6 26.2v-.8h4.4v1.5" class="br"/>
<text transform="translate(556.81,26.07) scale(0.1)" class="st" text-anchor="middle">***</text>
<path class="w" d="M564.2 65.3V70.1M564.2 74.9V80.6"/><rect x="562.4" y="70.1" width="3.6" height="4.7" fill="#4DBBD5" class="b"/><path class="m" d="M562.4 72.5h3.6"/>
<path class="o p" d="M568.2 72.7h0M568.2 75.6h0M568.2 79.9h0M568.2 81.3h0M568.2 84.7h0"/><path class="w" d="M568.2 45.9V55.9M568.2 62.7V71.5"/><rect x="566.4" y="55.9" width="3.6" height="6.8" fill="#E64B35" class="b"/><path class="m" d="M566.4 59.1h3.6"/>
<path class="o" style="stroke-opacity:0.85" d="M564.2 96.7h0"/>
<path d="M564 44.6v-.8h4.4v1.5" class="br"/>
<text transform="translate(566.21,44.46) scale(0.1)" class="st" text-anchor="middle">***</text>
<path class="w" d="M573.6 61.1V62.9M573.6 66.1V67.3"/><rect x="571.8" y="62.9" width="3.6" height="3.2" fill="#4DBBD5" class="b"/><path class="m" d="M571.8 64.5h3.6"/>
<path class="w" d="M577.6 60.1V66.9M577.6 74.5V83.7"/><rect x="575.8" y="66.9" width="3.6" height="7.6" fill="#E64B35" class="b"/><path class="m" d="M575.8 70.5h3.6"/>
<path class="w" d="M583 48.9V58.3M583 63.7V70.3"/><rect x="581.2" y="58.3" width="3.6" height="5.4" fill="#4DBBD5" class="b"/><path class="m" d="M581.2 60.9h3.6"/>
<path class="o p" d="M587 76.8h0M587 79.7h0M587 83.4h0"/><path class="w" d="M587 46.9V58.1M587 65.3V75.5"/><rect x="585.2" y="58.1" width="3.6" height="7.2" fill="#E64B35" class="b"/><path class="m" d="M585.2 61.6h3.6"/>
<path class="w" d="M592.4 52V60.9M592.4 66.3V73.5"/><rect x="590.6" y="60.9" width="3.6" height="5.4" fill="#4DBBD5" class="b"/><path class="m" d="M590.6 63.7h3.6"/>
<path class="o p" d="M596.4 73h0M596.4 74.3h0M596.4 76.6h0M596.4 80.3h0M596.4 81.9h0M596.4 84.1h0M596.4 88.6h0"/><path class="w" d="M596.4 44.8V53.2M596.4 60.5V70.3"/><rect x="594.6" y="53.2" width="3.6" height="7.4" fill="#E64B35" class="b"/><path class="m" d="M594.6 56.7h3.6"/>
<path class="o" style="stroke-opacity:1;stroke-width:1.5" d="M592.4 96.7h0"/>
<path d="M592.2 45.2v-.8h4.4v1.5" class="br"/>
<text transform="translate(594.43,45.06) scale(0.1)" class="st" text-anchor="middle">***</text>
<path class="w" d="M601.8 63.3V64.7M601.8 68.5V69.9"/><rect x="600" y="64.7" width="3.6" height="3.8" fill="#4DBBD5" class="b"/><path class="m" d="M600 66.5h3.6"/>
<path class="o p" d="M605.8 76.1h0"/><path class="w" d="M605.8 42.8V53.4M605.8 61.8V74.5"/><rect x="604" y="53.4" width="3.6" height="8.4" fill="#E64B35" class="b"/><path class="m" d="M604 57.5h3.6"/>
<path class="o p" d="M611.2 73.6h0M611.2 75.3h0"/><path class="w" d="M611.2 40.7V55.1M611.2 63.1V71.5"/><rect x="609.4" y="55.1" width="3.6" height="8" fill="#4DBBD5" class="b"/><path class="m" d="M609.4 59.1h3.6"/>
<path class="o p" d="M615.2 85.4h0"/><path class="w" d="M615.2 42.8V54.1M615.2 64.3V82.7"/><rect x="613.4" y="54.1" width="3.6" height="10.2" fill="#E64B35" class="b"/><path class="m" d="M613.4 59.1h3.6"/>
<path class="w" d="M620.6 54.1V62.3M620.6 70.4V79.6"/><rect x="618.8" y="62.3" width="3.6" height="8.2" fill="#4DBBD5" class="b"/><path class="m" d="M618.8 65.9h3.6"/>
<path class="o p" d="M624.6 75.9h0M624.6 77.9h0"/><path class="w" d="M624.6 36.6V51.4M624.6 58.7V74.5"/><rect x="622.8" y="51.4" width="3.6" height="7.4" fill="#E64B35" class="b"/><path class="m" d="M622.8 54.7h3.6"/>
<path class="o" style="stroke-opacity:1;stroke-width:1.5" d="M620.6 96.7h0"/>
<path d="M620.4 36.4v-.8h4.4v1.5" class="br"/>
<text transform="translate(622.64,36.28) scale(0.1)" class="st" text-anchor="middle">***</text>
<path class="w" d="M630 59.1V61.8M630 65.9V70.4"/><rect x="628.2" y="61.8" width="3.6" height="4.1" fill="#4DBBD5" class="b"/><path class="m" d="M628.2 63.9h3.6"/>
<path class="w" d="M634 39.7V51.1M634 63.9V83.7"/><rect x="632.2" y="51.1" width="3.6" height="12.7" fill="#E64B35" class="b"/><path class="m" d="M632.2 58.5h3.6"/>
<path d="M629.8 38.4v-.8h4.4v1.5" class="br"/>
<text transform="translate(632.04,38.3) scale(0.1)" class="st" text-anchor="middle">***</text>
<path class="o p" d="M639.4 65.8h0M639.4 69.5h0M639.4 72.2h0M639.4 75.3h0"/><path class="w" d="M639.4 47.9V53.4M639.4 57.5V65.3"/><rect x="637.6" y="53.4" width="3.6" height="4.1" fill="#4DBBD5" class="b"/><path class="m" d="M637.6 55.3h3.6"/>
<path class="o p" d="M643.4 71.5h0"/><path class="w" d="M643.4 46.9V54.5M643.4 60.7V70.3"/><rect x="641.6" y="54.5" width="3.6" height="6.3" fill="#E64B35" class="b"/><path class="m" d="M641.6 57.3h3.6"/>
<path class="o" style="stroke-opacity:0.75" d="M639.4 96.7h0"/>
<path d="M639.2 45.2v-.8h4.4v1.5" class="br"/>
<text transform="translate(641.44,45.06) scale(0.1)" class="st" text-anchor="middle">***</text>
<path class="w" d="M648.8 47.9V62.7M648.8 86.3V96"/><rect x="647" y="62.7" width="3.6" height="23.6" fill="#4DBBD5" class="b"/><path class="m" d="M647 77.9h3.6"/>
<path class="o p" d="M652.8 79.4h0"/><path class="w" d="M652.8 39.7V55.5M652.8 65.7V76.5"/><rect x="651" y="55.5" width="3.6" height="10.2" fill="#E64B35" class="b"/><path class="m" d="M651 60.9h3.6"/>
<path d="M648.6 39.4v-.8h4.4v1.5" class="br"/>
<text transform="translate(650.85,39.31) scale(0.1)" class="st" text-anchor="middle">***</text>
<path class="o p" d="M658.3 66.1h0M658.3 70h0"/><path class="w" d="M658.3 48.9V53.2M658.3 57.7V64.3"/><rect x="656.5" y="53.2" width="3.6" height="4.5" fill="#4DBBD5" class="b"/><path class="m" d="M656.5 55.3h3.6"/>
<path class="o p" d="M662.3 82.6h0M662.3 86h0M662.3 89.7h0"/><path class="w" d="M662.3 39.7V51.6M662.3 64.5V81.7"/><rect x="660.5" y="51.6" width="3.6" height="12.9" fill="#E64B35" class="b"/><path class="m" d="M660.5 57.9h3.6"/>
<path class="w" d="M667.7 50.9V52.8M667.7 56.1V64.3"/><rect x="665.9" y="52.8" width="3.6" height="3.3" fill="#4DBBD5" class="b"/><path class="m" d="M665.9 54.5h3.6"/>
<path class="w" d="M671.7 33.6V50.5M671.7 61.6V79.6"/><rect x="669.9" y="50.5" width="3.6" height="11" fill="#E64B35" class="b"/><path class="m" d="M669.9 54h3.6"/>
<path class="w" d="M679.1 62.3V72.1M679.1 82.7V91.9"/><rect x="675.3" y="72.1" width="7.6" height="10.6" fill="#E64B35" class="b"/><path class="m" d="M675.3 77.1h7.6"/>
<line x1="374.9" x2="374.9" y1="107.1" y2="194.5" class="ax"/>
<line x1="374.9" x2="684.7" y1="194.5" y2="194.5" class="ax"/>
<line x1="372.5" x2="374.9" y1="191.7" y2="191.7" class="tk"/>
<text transform="translate(371.8,193.6) scale(0.1)" class="tl" text-anchor="end">0</text>
<line x1="372.5" x2="374.9" y1="175.14" y2="175.14" class="tk"/>
<text transform="translate(371.8,177.04) scale(0.1)" class="tl" text-anchor="end">2</text>
<line x1="372.5" x2="374.9" y1="158.58" y2="158.58" class="tk"/>
<text transform="translate(371.8,160.48) scale(0.1)" class="tl" text-anchor="end">4</text>
<line x1="372.5" x2="374.9" y1="142.02" y2="142.02" class="tk"/>
<text transform="translate(371.8,143.92) scale(0.1)" class="tl" text-anchor="end">6</text>
<line x1="372.5" x2="374.9" y1="125.46" y2="125.46" class="tk"/>
<text transform="translate(371.8,127.36) scale(0.1)" class="tl" text-anchor="end">8</text>
<line x1="372.5" x2="374.9" y1="108.9" y2="108.9" class="tk"/>
<text transform="translate(371.8,110.8) scale(0.1)" class="tl" text-anchor="end">10</text>
<text transform="translate(356.7,150.8) rotate(-90) scale(0.1)" class="yt" text-anchor="middle">The expression of COMMD4</text>
<text transform="translate(361.7,150.8) rotate(-90) scale(0.1)" class="yt" text-anchor="middle">Log<tspan dy="10" font-size="36">2</tspan><tspan dy="-10"> (TPM+1)</tspan></text>
<path class="o p" d="M378.5 146.3h0M378.5 147.1h0"/><path class="w" d="M378.5 133.7V136.3M378.5 138.7V143.8"/><rect x="376.7" y="136.3" width="3.6" height="2.4" fill="#4DBBD5" class="b"/><path class="m" d="M376.7 137.5h3.6"/>
<path class="w" d="M382.5 126.5V132.6M382.5 140.2V148"/><rect x="380.7" y="132.6" width="3.6" height="7.6" fill="#E64B35" class="b"/><path class="m" d="M380.7 136.1h3.6"/>
<path class="o" style="stroke-opacity:0.65" d="M378.5 191.7h0"/>
<path d="M378.3 120.1v-.8h4.4v1.5" class="br"/>
<text transform="translate(380.5,119.96) scale(0.1)" class="st" text-anchor="middle">**</text>
<path class="w" d="M387.8 137.7V140.2M387.8 145.7V146.9"/><rect x="386" y="140.2" width="3.6" height="5.5" fill="#4DBBD5" class="b"/><path class="m" d="M386 142.8h3.6"/>
<path class="o p" d="M391.8 147.7h0M391.8 151.6h0"/><path class="w" d="M391.8 125.5V132M391.8 138.5V145.9"/><rect x="390" y="132" width="3.6" height="6.5" fill="#E64B35" class="b"/><path class="m" d="M390 135.3h3.6"/>
<path d="M387.6 123.8v-.8h4.4v1.5" class="br"/>
<text transform="translate(389.83,123.69) scale(0.1)" class="st" text-anchor="middle">***</text>
<path class="o p" d="M397.2 153h0M397.2 154.1h0"/><path class="w" d="M397.2 134.7V141.9M397.2 144.9V150"/><rect x="395.4" y="141.9" width="3.6" height="3.1" fill="#4DBBD5" class="b"/><path class="m" d="M395.4 143.3h3.6"/>
<path class="o" d="M401.2 126.1h0M401.2 123.9h0M401.2 122.6h0M401.2 121.9h0M401.2 149.3h0M401.2 151.5h0M401.2 152.2h0M401.2 154h0M401.2 155h0M401.2 156.5h0M401.2 157.1h0M401.2 159h0M401.2 159.7h0M401.2 161.2h0M401.2 162.9h0M401.2 164.2h0"/><path class="w" d="M401.2 126.5V135.3M401.2 141.2V149"/><rect x="399.4" y="135.3" width="3.6" height="5.9" fill="#E64B35" class="b"/><path class="m" d="M399.4 138.1h3.6"/>
<path d="M397 117.4v-.8h4.4v1.5" class="br"/>
<text transform="translate(399.16,117.31) scale(0.1)" class="st" text-anchor="middle">***</text>
<path class="w" d="M406.5 138.7V140.6M406.5 142.6V145.3"/><rect x="404.7" y="140.6" width="3.6" height="2" fill="#4DBBD5" class="b"/><path class="m" d="M404.7 141.6h3.6"/>
<path class="o p" d="M410.5 144.9h0"/><path class="w" d="M410.5 119.3V129.4M410.5 135.5V143.8"/><rect x="408.7" y="129.4" width="3.6" height="6.1" fill="#E64B35" class="b"/><path class="m" d="M408.7 132.2h3.6"/>
<path d="M406.3 117v-.8h4.4v1.5" class="br"/>
<text transform="translate(408.49,116.9) scale(0.1)" class="st" text-anchor="middle">***</text>
<path class="w" d="M415.8 145.7V146.1M415.8 148.1V148.6"/><rect x="414" y="146.1" width="3.6" height="2.1" fill="#4DBBD5" class="b"/><path class="m" d="M414 147.2h3.6"/>
<path class="w" d="M419.8 126.5V132.8M419.8 138.7V141.9"/><rect x="418" y="132.8" width="3.6" height="5.9" fill="#E64B35" class="b"/><path class="m" d="M418 135.9h3.6"/>
<path d="M415.6 125.2v-.8h4.4v1.5" class="br"/>
<text transform="translate(417.82,125.1) scale(0.1)" class="st" text-anchor="middle">***</text>
<path class="o p" d="M425.2 150.6h0M425.2 152.5h0M425.2 154.3h0M425.2 155.8h0M425.2 157.1h0M425.2 159h0M425.2 161.3h0M425.2 163.2h0"/><path class="w" d="M425.2 137.7V142M425.2 145.7V150"/><rect x="423.4" y="142" width="3.6" height="3.6" fill="#4DBBD5" class="b"/><path class="m" d="M423.4 143.8h3.6"/>
<path class="o p" d="M429.2 149.6h0M429.2 153.3h0M429.2 156.3h0M429.2 157.5h0M429.2 161.8h0M429.2 162.9h0M429.2 166.5h0"/><path class="w" d="M429.2 125.5V135.6M429.2 140.6V149"/><rect x="427.4" y="135.6" width="3.6" height="5" fill="#E64B35" class="b"/><path class="m" d="M427.4 138.1h3.6"/>
<path class="o" style="stroke-opacity:1;stroke-width:1.5" d="M425.2 191.7h0"/>
<path d="M425 124.2v-.8h4.4v1.5" class="br"/>
<text transform="translate(427.16,124.1) scale(0.1)" class="st" text-anchor="middle">***</text>
<path class="w" d="M434.5 136.7V147.7M434.5 166.9V184.3"/><rect x="432.7" y="147.7" width="3.6" height="19.2" fill="#4DBBD5" class="b"/><path class="m" d="M432.7 160.2h3.6"/>
<path class="w" d="M438.5 126.5V131.8M438.5 138.5V142.8"/><rect x="436.7" y="131.8" width="3.6" height="6.7" fill="#E64B35" class="b"/><path class="m" d="M436.7 135.1h3.6"/>
<path d="M434.3 120.1v-.8h4.4v1.5" class="br"/>
<text transform="translate(436.49,119.96) scale(0.1)" class="st" text-anchor="middle">***</text>
<path class="o p" d="M443.8 154.2h0M443.8 156.2h0M443.8 157.5h0M443.8 159.5h0M443.8 161.6h0"/><path class="w" d="M443.8 137.7V143.3M443.8 146.9V153"/><rect x="442" y="143.3" width="3.6" height="3.6" fill="#4DBBD5" class="b"/><path class="m" d="M442 145.1h3.6"/>
<path class="w" d="M447.8 129.5V139.1M447.8 144.7V154.1"/><rect x="446" y="139.1" width="3.6" height="5.5" fill="#E64B35" class="b"/><path class="m" d="M446 141.9h3.6"/>
<path class="o" style="stroke-opacity:1;stroke-width:1.5" d="M443.8 191.7h0"/>
<path d="M443.6 128.3v-.8h4.4v1.5" class="br"/>
<text transform="translate(445.82,128.16) scale(0.1)" class="st" text-anchor="middle">***</text>
<path class="o" d="M453.1 159.8h0M453.1 161.1h0M453.1 162h0M453.1 163.1h0M453.1 163.8h0M453.1 165.4h0M453.1 166.4h0M453.1 167.3h0M453.1 168.9h0M453.1 170h0M453.1 170.8h0M453.1 171.6h0M453.1 173h0M453.1 173.8h0"/><path class="w" d="M453.1 139.8V146.1M453.1 152V159.2"/><rect x="451.3" y="146.1" width="3.6" height="6" fill="#4DBBD5" class="b"/><path class="m" d="M451.3 149h3.6"/>
<path class="o p" d="M457.1 147.7h0M457.1 151.1h0M457.1 153.1h0"/><path class="w" d="M457.1 130.6V135.5M457.1 139.8V146.9"/><rect x="455.3" y="135.5" width="3.6" height="4.3" fill="#E64B35" class="b"/><path class="m" d="M455.3 137.5h3.6"/>
<path class="o" style="stroke-opacity:1;stroke-width:1.5" d="M453.1 191.7h0"/>
<path d="M452.9 129.3v-.8h4.4v1.5" class="br"/>
<text transform="translate(455.15,129.15) scale(0.1)" class="st" text-anchor="middle">***</text>
<path class="o p" d="M462.5 153.6h0M462.5 156.4h0M462.5 158.1h0"/><path class="w" d="M462.5 139.8V143.7M462.5 148.4V152"/><rect x="460.7" y="143.7" width="3.6" height="4.7" fill="#4DBBD5" class="b"/><path class="m" d="M460.7 145.9h3.6"/>
<path class="o p" d="M466.5 152.1h0"/><path class="w" d="M466.5 122.4V134.7M466.5 141V150"/><rect x="464.7" y="134.7" width="3.6" height="6.4" fill="#E64B35" class="b"/><path class="m" d="M464.7 138h3.6"/>
<path d="M462.3 121.1v-.8h4.4v1.5" class="br"/>
<text transform="translate(464.48,121.04) scale(0.1)" class="st" text-anchor="middle">***</text>
<path class="o p" d="M471.8 151.7h0M471.8 155.5h0M471.8 158.1h0M471.8 160h0M471.8 161.6h0M471.8 165h0M471.8 167.2h0"/><path class="w" d="M471.8 132.6V136.3M471.8 144.5V151"/><rect x="470" y="136.3" width="3.6" height="8.2" fill="#4DBBD5" class="b"/><path class="m" d="M470 138.1h3.6"/>
<path class="o p" d="M475.8 148.9h0M475.8 149.9h0"/><path class="w" d="M475.8 130.6V135.6M475.8 139.4V145.9"/><rect x="474" y="135.6" width="3.6" height="3.7" fill="#E64B35" class="b"/><path class="m" d="M474 137.5h3.6"/>
<path class="o" style="stroke-opacity:0.65" d="M471.8 191.7h0"/>
<path class="o p" d="M481.1 153.2h0M481.1 156h0M481.1 158h0M481.1 160.6h0M481.1 161.9h0M481.1 165.9h0M481.1 167.4h0"/><path class="w" d="M481.1 135.6V140.2M481.1 144.3V151"/><rect x="479.3" y="140.2" width="3.6" height="4.1" fill="#4DBBD5" class="b"/><path class="m" d="M479.3 142.2h3.6"/>
<path class="o p" d="M485.1 154.4h0M485.1 156.8h0M485.1 157.8h0M485.1 161.6h0M485.1 164.3h0M485.1 165.1h0M485.1 168.1h0"/><path class="w" d="M485.1 131.6V140.4M485.1 144.1V152"/><rect x="483.3" y="140.4" width="3.6" height="3.7" fill="#E64B35" class="b"/><path class="m" d="M483.3 142.2h3.6"/>
<path class="o" style="stroke-opacity:0.65" d="M481.1 191.7h0"/>
<path class="o p" d="M490.5 151.2h0M490.5 152.7h0M490.5 157.2h0M490.5 158.6h0"/><path class="w" d="M490.5 134.7V138.4M490.5 143V149"/><rect x="488.7" y="138.4" width="3.6" height="4.6" fill="#4DBBD5" class="b"/><path class="m" d="M488.7 140.6h3.6"/>
<path class="w" d="M494.5 126.5V133.8M494.5 138.5V148"/><rect x="492.7" y="133.8" width="3.6" height="4.7" fill="#E64B35" class="b"/><path class="m" d="M492.7 136.1h3.6"/>
<path class="o" style="stroke-opacity:0.65" d="M490.5 191.7h0"/>
<path d="M490.3 117.4v-.8h4.4v1.5" class="br"/>
<text transform="translate(492.47,117.31) scale(0.1)" class="st" text-anchor="middle">***</text>
<path class="w" d="M499.8 141.4V142.2M499.8 143.4V144.3"/><rect x="498" y="142.2" width="3.6" height="1.2" fill="#4DBBD5" class="b"/><path class="m" d="M498 142.8h3.6"/>
<path class="o p" d="M503.8 162.7h0M503.8 164h0M503.8 167.7h0M503.8 171.5h0M503.8 172.7h0"/><path class="w" d="M503.8 142.8V147.6M503.8 152.5V160.2"/><rect x="502" y="147.6" width="3.6" height="4.9" fill="#E64B35" class="b"/><path class="m" d="M502 150h3.6"/>
<path d="M499.6 137.5v-.8h4.4v1.5" class="br"/>
<text transform="translate(501.81,137.35) scale(0.1)" class="st" text-anchor="middle">***</text>
<path class="o" d="M509.1 159.6h0M509.1 160.9h0M509.1 161.9h0M509.1 162.7h0M509.1 163.9h0M509.1 165h0M509.1 166.8h0M509.1 167.7h0M509.1 169h0M509.1 169.4h0M509.1 171.1h0M509.1 171.6h0M509.1 173h0M509.1 174.2h0"/><path class="w" d="M509.1 138.7V146.1M509.1 152V159.2"/><rect x="507.3" y="146.1" width="3.6" height="6" fill="#4DBBD5" class="b"/><path class="m" d="M507.3 149h3.6"/>
<path class="o p" d="M513.1 125.5h0M513.1 150.7h0"/><path class="w" d="M513.1 126.5V135.9M513.1 141.2V148"/><rect x="511.3" y="135.9" width="3.6" height="5.3" fill="#E64B35" class="b"/><path class="m" d="M511.3 138.5h3.6"/>
<path class="o" style="stroke-opacity:1;stroke-width:1.5" d="M509.1 191.7h0"/>
<path d="M508.9 123.1v-.8h4.4v1.5" class="br"/>
<text transform="translate(511.14,123.03) scale(0.1)" class="st" text-anchor="middle">***</text>
<path class="o p" d="M518.5 159.1h0M518.5 162.3h0"/><path class="w" d="M518.5 138.7V146.3M518.5 151.2V157.2"/><rect x="516.7" y="146.3" width="3.6" height="4.9" fill="#4DBBD5" class="b"/><path class="m" d="M516.7 148.7h3.6"/>
<path class="w" d="M522.5 123.4V132.2M522.5 139V148"/><rect x="520.7" y="132.2" width="3.6" height="6.8" fill="#E64B35" class="b"/><path class="m" d="M520.7 135.6h3.6"/>
<path d="M518.3 122.1v-.8h4.4v1.5" class="br"/>
<text transform="translate(520.47,122.03) scale(0.1)" class="st" text-anchor="middle">***</text>
<path class="o p" d="M527.8 155.6h0M527.8 156.3h0M527.8 159.1h0M527.8 160.3h0M527.8 161.7h0M527.8 163.9h0M527.8 164.9h0M527.8 167.5h0M527.8 168.7h0M527.8 170h0M527.8 172.3h0M527.8 173.5h0M527.8 174.8h0M527.8 177.3h0"/><path class="w" d="M527.8 132.6V140.2M527.8 144.5V154.1"/><rect x="526" y="140.2" width="3.6" height="4.3" fill="#4DBBD5" class="b"/><path class="m" d="M526 142.2h3.6"/>
<path class="o p" d="M531.8 153.6h0M531.8 157.8h0"/><path class="w" d="M531.8 125.5V136.1M531.8 141.6V153"/><rect x="530" y="136.1" width="3.6" height="5.5" fill="#E64B35" class="b"/><path class="m" d="M530 138.7h3.6"/>
<path class="o" style="stroke-opacity:0.65" d="M527.8 191.7h0"/>
<path d="M527.6 123.1v-.8h4.4v1.5" class="br"/>
<text transform="translate(529.8,123.03) scale(0.1)" class="st" text-anchor="middle">***</text>
<path class="o p" d="M537.1 153.7h0M537.1 155.8h0M537.1 157.9h0M537.1 159h0M537.1 160.8h0M537.1 162h0M537.1 163.2h0M537.1 164.9h0M537.1 166.7h0M537.1 168.9h0M537.1 170.3h0M537.1 172.1h0M537.1 174.2h0M537.1 174.8h0M537.1 176.6h0"/><path class="w" d="M537.1 133.7V140.6M537.1 144.7V153"/><rect x="535.3" y="140.6" width="3.6" height="4.1" fill="#4DBBD5" class="b"/><path class="m" d="M535.3 142.6h3.6"/>
<path class="o p" d="M541.1 153.3h0"/><path class="w" d="M541.1 124.5V135.1M541.1 140.8V151"/><rect x="539.3" y="135.1" width="3.6" height="5.7" fill="#E64B35" class="b"/><path class="m" d="M539.3 138h3.6"/>
<path class="o" style="stroke-opacity:0.65" d="M537.1 191.7h0"/>
<path d="M536.9 123.1v-.8h4.4v1.5" class="br"/>
<text transform="translate(539.13,123.03) scale(0.1)" class="st" text-anchor="middle">***</text>
<path class="w" d="M548.5 128.5V132.8M548.5 138.4V141.9"/><rect x="544.7" y="132.8" width="7.6" height="5.5" fill="#E64B35" class="b"/><path class="m" d="M544.7 135.5h7.6"/>
<path class="w" d="M555.8 139.8V142.6M555.8 146.3V150"/><rect x="554" y="142.6" width="3.6" height="3.7" fill="#4DBBD5" class="b"/><path class="m" d="M554 144.5h3.6"/>
<path class="o p" d="M559.8 156.7h0M559.8 159.2h0"/><path class="w" d="M559.8 127.5V139.4M559.8 145.9V156.1"/><rect x="558" y="139.4" width="3.6" height="6.5" fill="#E64B35" class="b"/><path class="m" d="M558 142.6h3.6"/>
<path d="M555.6 123.8v-.8h4.4v1.5" class="br"/>
<text transform="translate(557.79,123.69) scale(0.1)" class="st" text-anchor="middle">***</text>
<path class="o p" d="M565.1 163.5h0"/><path class="w" d="M565.1 145.9V151.9M565.1 156.8V162.2"/><rect x="563.3" y="151.9" width="3.6" height="4.9" fill="#4DBBD5" class="b"/><path class="m" d="M563.3 154.3h3.6"/>
<path class="o p" d="M569.1 150.8h0M569.1 154.5h0M569.1 157.3h0"/><path class="w" d="M569.1 129.5V136.3M569.1 141.4V150"/><rect x="567.3" y="136.3" width="3.6" height="5.1" fill="#E64B35" class="b"/><path class="m" d="M567.3 138.7h3.6"/>
<path class="o" style="stroke-opacity:0.85" d="M565.1 191.7h0"/>
<path d="M564.9 128.3v-.8h4.4v1.5" class="br"/>
<text transform="translate(567.13,128.16) scale(0.1)" class="st" text-anchor="middle">***</text>
<path class="w" d="M574.5 134.3V134.7M574.5 135.5V135.8"/><rect x="572.7" y="134.7" width="3.6" height="0.8" fill="#4DBBD5" class="b"/><path class="m" d="M572.7 135.1h3.6"/>
<path class="o p" d="M578.5 127.8h0"/><path class="w" d="M578.5 130.6V135.9M578.5 139V143.8"/><rect x="576.7" y="135.9" width="3.6" height="3.1" fill="#E64B35" class="b"/><path class="m" d="M576.7 137.3h3.6"/>
<path class="w" d="M583.8 134.7V139M583.8 142.6V148"/><rect x="582" y="139" width="3.6" height="3.6" fill="#4DBBD5" class="b"/><path class="m" d="M582 140.8h3.6"/>
<path class="o p" d="M587.8 151.7h0M587.8 153.5h0"/><path class="w" d="M587.8 130.6V137.7M587.8 142.2V150"/><rect x="586" y="137.7" width="3.6" height="4.5" fill="#E64B35" class="b"/><path class="m" d="M586 139.9h3.6"/>
<path d="M583.6 128.3v-.8h4.4v1.5" class="br"/>
<text transform="translate(585.79,128.16) scale(0.1)" class="st" text-anchor="middle">***</text>
<path class="o p" d="M593.1 152.3h0M593.1 153.8h0M593.1 155.1h0M593.1 158h0M593.1 158.7h0M593.1 160.4h0M593.1 162h0"/><path class="w" d="M593.1 137.7V142.4M593.1 145.7V151"/><rect x="591.3" y="142.4" width="3.6" height="3.2" fill="#4DBBD5" class="b"/><path class="m" d="M591.3 144.1h3.6"/>
<path class="w" d="M597.1 131.6V136.3M597.1 142.4V149"/><rect x="595.3" y="136.3" width="3.6" height="6.1" fill="#E64B35" class="b"/><path class="m" d="M595.3 139.4h3.6"/>
<path class="o" style="stroke-opacity:1;stroke-width:1.5" d="M593.1 191.7h0"/>
<path d="M592.9 125.2v-.8h4.4v1.5" class="br"/>
<text transform="translate(595.12,125.1) scale(0.1)" class="st" text-anchor="middle">***</text>
<path class="w" d="M602.5 138.1V138.4M602.5 139V139.3"/><rect x="600.7" y="138.4" width="3.6" height="0.6" fill="#4DBBD5" class="b"/><path class="m" d="M600.7 138.7h3.6"/>
<path class="w" d="M606.5 122.4V131.6M606.5 138.1V146.9"/><rect x="604.7" y="131.6" width="3.6" height="6.5" fill="#E64B35" class="b"/><path class="m" d="M604.7 134.9h3.6"/>
<path class="o p" d="M611.8 135.9h0M611.8 132.8h0M611.8 151.7h0"/><path class="w" d="M611.8 137.7V141.6M611.8 145.3V150"/><rect x="610" y="141.6" width="3.6" height="3.7" fill="#4DBBD5" class="b"/><path class="m" d="M610 143.4h3.6"/>
<path class="o p" d="M615.8 150.5h0"/><path class="w" d="M615.8 119.3V129.8M615.8 136.3V150"/><rect x="614" y="129.8" width="3.6" height="6.5" fill="#E64B35" class="b"/><path class="m" d="M614 133h3.6"/>
<path d="M611.6 112.3v-.8h4.4v1.5" class="br"/>
<text transform="translate(613.78,112.18) scale(0.1)" class="st" text-anchor="middle">***</text>
<path class="o p" d="M621.1 158h0"/><path class="w" d="M621.1 138.7V144.5M621.1 150V157.2"/><rect x="619.3" y="144.5" width="3.6" height="5.5" fill="#4DBBD5" class="b"/><path class="m" d="M619.3 147.3h3.6"/>
<path class="o p" d="M625.1 154.7h0"/><path class="w" d="M625.1 128.5V139.8M625.1 146.1V154.1"/><rect x="623.3" y="139.8" width="3.6" height="6.3" fill="#E64B35" class="b"/><path class="m" d="M623.3 142.8h3.6"/>
<path class="o" style="stroke-opacity:1;stroke-width:1.5" d="M621.1 191.7h0"/>
<path d="M620.9 128.3v-.8h4.4v1.5" class="br"/>
<text transform="translate(623.11,128.16) scale(0.1)" class="st" text-anchor="middle">***</text>
<path class="o p" d="M630.4 142.3h0"/><path class="w" d="M630.4 126.5V130.2M630.4 134.1V140.8"/><rect x="628.6" y="130.2" width="3.6" height="3.9" fill="#4DBBD5" class="b"/><path class="m" d="M628.6 132h3.6"/>
<path class="w" d="M634.4 123.4V129.5M634.4 134.7V139.8"/><rect x="632.6" y="129.5" width="3.6" height="5.1" fill="#E64B35" class="b"/><path class="m" d="M632.6 132h3.6"/>
<path class="o p" d="M639.8 147.3h0"/><path class="w" d="M639.8 132.6V138.1M639.8 140.6V145.9"/><rect x="638" y="138.1" width="3.6" height="2.5" fill="#4DBBD5" class="b"/><path class="m" d="M638 139.4h3.6"/>
<path class="o p" d="M643.8 146.9h0"/><path class="w" d="M643.8 131.6V137.1M643.8 139.8V144.9"/><rect x="642" y="137.1" width="3.6" height="2.6" fill="#E64B35" class="b"/><path class="m" d="M642 138.4h3.6"/>
<path class="o" style="stroke-opacity:0.75" d="M639.8 191.7h0"/>
<path d="M639.6 124.6v-.8h4.4v1.5" class="br"/>
<text transform="translate(641.78,124.52) scale(0.1)" class="st" text-anchor="middle">***</text>
<path class="w" d="M649.1 137.7V147.7M649.1 166.9V184.3"/><rect x="647.3" y="147.7" width="3.6" height="19.2" fill="#4DBBD5" class="b"/><path class="m" d="M647.3 160.2h3.6"/>
<path class="w" d="M653.1 123.4V128.1M653.1 135.5V140.8"/><rect x="651.3" y="128.1" width="3.6" height="7.4" fill="#E64B35" class="b"/><path class="m" d="M651.3 131.6h3.6"/>
<path d="M648.9 122.1v-.8h4.4v1.5" class="br"/>
<text transform="translate(651.11,122.03) scale(0.1)" class="st" text-anchor="middle">***</text>
<path class="w" d="M658.4 136.7V139.5M658.4 142.4V145.9"/><rect x="656.6" y="139.5" width="3.6" height="2.9" fill="#4DBBD5" class="b"/><path class="m" d="M656.6 141h3.6"/>
<path class="o p" d="M662.4 149.8h0M662.4 151.8h0M662.4 155.3h0M662.4 157.3h0M662.4 158.9h0M662.4 162.6h0M662.4 163.4h0"/><path class="w" d="M662.4 120.3V131.6M662.4 138.4V148"/><rect x="660.6" y="131.6" width="3.6" height="6.8" fill="#E64B35" class="b"/><path class="m" d="M660.6 134.9h3.6"/>
<path d="M658.2 117.4v-.8h4.4v1.5" class="br"/>
<text transform="translate(660.44,117.31) scale(0.1)" class="st" text-anchor="middle">***</text>
<path class="w" d="M667.8 135.6V139.5M667.8 142.4V145.9"/><rect x="666" y="139.5" width="3.6" height="2.9" fill="#4DBBD5" class="b"/><path class="m" d="M666 141h3.6"/>
<path class="w" d="M671.8 126.5V135.1M671.8 140.4V148"/><rect x="670" y="135.1" width="3.6" height="5.3" fill="#E64B35" class="b"/><path class="m" d="M670 137.7h3.6"/>
<path d="M667.6 126.2v-.8h4.4v1.5" class="br"/>
<text transform="translate(669.77,126.09) scale(0.1)" class="st" text-anchor="middle">***</text>
<path class="o" d="M679.1 125.5h0M679.1 124.1h0M679.1 142.4h0M679.1 143.6h0M679.1 145.7h0M679.1 146.2h0"/><path class="w" d="M679.1 126.5V132.2M679.1 137.3V141.9"/><rect x="675.3" y="132.2" width="7.6" height="5.1" fill="#E64B35" class="b"/><path class="m" d="M675.3 134.7h7.6"/>
<line x1="374.9" x2="374.9" y1="201.8" y2="289" class="ax"/>
<line x1="374.9" x2="684.7" y1="289" y2="289" class="ax"/>
<line x1="372.5" x2="374.9" y1="286.5" y2="286.5" class="tk"/>
<text transform="translate(371.8,288.4) scale(0.1)" class="tl" text-anchor="end">0</text>
<line x1="372.5" x2="374.9" y1="271.48" y2="271.48" class="tk"/>
<text transform="translate(371.8,273.38) scale(0.1)" class="tl" text-anchor="end">2</text>
<line x1="372.5" x2="374.9" y1="256.46" y2="256.46" class="tk"/>
<text transform="translate(371.8,258.36) scale(0.1)" class="tl" text-anchor="end">4</text>
<line x1="372.5" x2="374.9" y1="241.44" y2="241.44" class="tk"/>
<text transform="translate(371.8,243.34) scale(0.1)" class="tl" text-anchor="end">6</text>
<line x1="372.5" x2="374.9" y1="226.42" y2="226.42" class="tk"/>
<text transform="translate(371.8,228.32) scale(0.1)" class="tl" text-anchor="end">8</text>
<line x1="372.5" x2="374.9" y1="211.4" y2="211.4" class="tk"/>
<text transform="translate(371.8,213.3) scale(0.1)" class="tl" text-anchor="end">10</text>
<text transform="translate(356.7,245.4) rotate(-90) scale(0.1)" class="yt" text-anchor="middle">The expression of COMMD6</text>
<text transform="translate(361.7,245.4) rotate(-90) scale(0.1)" class="yt" text-anchor="middle">Log<tspan dy="10" font-size="36">2</tspan><tspan dy="-10"> (TPM+1)</tspan></text>
<path class="o p" d="M378.5 237.7h0M378.5 241.3h0M378.5 242.3h0"/><path class="w" d="M378.5 221.6V225.7M378.5 229.4V236"/><rect x="376.7" y="225.7" width="3.6" height="3.7" fill="#4DBBD5" class="b"/><path class="m" d="M376.7 227.5h3.6"/>
<path class="o p" d="M382.5 244h0M382.5 247.4h0M382.5 249.8h0M382.5 252.6h0"/><path class="w" d="M382.5 215.5V226.7M382.5 233.9V243.1"/><rect x="380.7" y="226.7" width="3.6" height="7.2" fill="#E64B35" class="b"/><path class="m" d="M380.7 230.3h3.6"/>
<path class="o" style="stroke-opacity:0.65" d="M378.5 286.5h0"/>
<path d="M378.3 213.1v-.8h4.4v1.5" class="br"/>
<text transform="translate(380.5,213.05) scale(0.1)" class="st" text-anchor="middle">**</text>
<path class="w" d="M387.8 221.6V224.3M387.8 228.8V232.9"/><rect x="386" y="224.3" width="3.6" height="4.5" fill="#4DBBD5" class="b"/><path class="m" d="M386 226.6h3.6"/>
<path class="o p" d="M391.8 240.2h0M391.8 241.5h0M391.8 244.5h0M391.8 247.1h0M391.8 249.3h0"/><path class="w" d="M391.8 217.6V225.7M391.8 230.9V238"/><rect x="390" y="225.7" width="3.6" height="5.1" fill="#E64B35" class="b"/><path class="m" d="M390 228.1h3.6"/>
<path d="M387.6 214.2v-.8h4.4v1.5" class="br"/>
<text transform="translate(389.83,214.1) scale(0.1)" class="st" text-anchor="middle">***</text>
<path class="o p" d="M397.2 240.7h0"/><path class="w" d="M397.2 220.6V225.9M397.2 230.6V237"/><rect x="395.4" y="225.9" width="3.6" height="4.7" fill="#4DBBD5" class="b"/><path class="m" d="M395.4 228.1h3.6"/>
<path class="o" d="M401.2 216.3h0M401.2 214.8h0M401.2 241.3h0M401.2 243.6h0M401.2 244.9h0"/><path class="w" d="M401.2 217.6V227.2M401.2 232.5V241.1"/><rect x="399.4" y="227.2" width="3.6" height="5.3" fill="#E64B35" class="b"/><path class="m" d="M399.4 229.8h3.6"/>
<path d="M397 213.1v-.8h4.4v1.5" class="br"/>
<text transform="translate(399.16,213.05) scale(0.1)" class="st" text-anchor="middle">***</text>
<path class="o p" d="M406.5 234h0"/><path class="w" d="M406.5 219.6V222.2M406.5 227.2V231.8"/><rect x="404.7" y="222.2" width="3.6" height="5" fill="#4DBBD5" class="b"/><path class="m" d="M404.7 224.7h3.6"/>
<path class="o p" d="M410.5 241.5h0"/><path class="w" d="M410.5 218.5V226.3M410.5 231.7V239"/><rect x="408.7" y="226.3" width="3.6" height="5.3" fill="#E64B35" class="b"/><path class="m" d="M408.7 229h3.6"/>
<path d="M406.3 215.3v-.8h4.4v1.5" class="br"/>
<text transform="translate(408.49,215.15) scale(0.1)" class="st" text-anchor="middle">**</text>
<path class="w" d="M415.8 237.4V238M415.8 239.9V240.5"/><rect x="414" y="238" width="3.6" height="1.9" fill="#4DBBD5" class="b"/><path class="m" d="M414 238.8h3.6"/>
<path class="o p" d="M419.8 239.7h0M419.8 242.2h0"/><path class="w" d="M419.8 219.6V225.1M419.8 231.7V238"/><rect x="418" y="225.1" width="3.6" height="6.5" fill="#E64B35" class="b"/><path class="m" d="M418 228.4h3.6"/>
<path d="M415.6 218.3v-.8h4.4v1.5" class="br"/>
<text transform="translate(417.82,218.16) scale(0.1)" class="st" text-anchor="middle">***</text>
<path class="o p" d="M425.2 239.6h0M425.2 241.9h0M425.2 243.6h0"/><path class="w" d="M425.2 216.5V226.1M425.2 233.3V239"/><rect x="423.4" y="226.1" width="3.6" height="7.2" fill="#4DBBD5" class="b"/><path class="m" d="M423.4 229.4h3.6"/>
<path class="o p" d="M429.2 240.3h0M429.2 243.9h0M429.2 246.6h0M429.2 249.6h0M429.2 252.1h0M429.2 253.8h0"/><path class="w" d="M429.2 213.4V224.5M429.2 229.8V239"/><rect x="427.4" y="224.5" width="3.6" height="5.3" fill="#E64B35" class="b"/><path class="m" d="M427.4 227.2h3.6"/>
<path class="o" style="stroke-opacity:1;stroke-width:1.5" d="M425.2 286.5h0"/>
<path d="M425 211.7v-.8h4.4v1.5" class="br"/>
<text transform="translate(427.16,211.62) scale(0.1)" class="st" text-anchor="middle">***</text>
<path class="w" d="M434.5 223.6V236.3M434.5 267.5V283"/><rect x="432.7" y="236.3" width="3.6" height="31.2" fill="#4DBBD5" class="b"/><path class="m" d="M432.7 260.1h3.6"/>
<path class="w" d="M438.5 217.6V222.4M438.5 227.8V231.8"/><rect x="436.7" y="222.4" width="3.6" height="5.3" fill="#E64B35" class="b"/><path class="m" d="M436.7 225.1h3.6"/>
<path d="M434.3 213.1v-.8h4.4v1.5" class="br"/>
<text transform="translate(436.49,213.05) scale(0.1)" class="st" text-anchor="middle">***</text>
<path class="w" d="M443.8 218.5V228M443.8 235.1V244.1"/><rect x="442" y="228" width="3.6" height="7.1" fill="#4DBBD5" class="b"/><path class="m" d="M442 231.2h3.6"/>
<path class="o p" d="M447.8 218.3h0"/><path class="w" d="M447.8 219.6V229.4M447.8 235.1V245.2"/><rect x="446" y="229.4" width="3.6" height="5.7" fill="#E64B35" class="b"/><path class="m" d="M446 232.3h3.6"/>
<path class="o" style="stroke-opacity:1;stroke-width:1.5" d="M443.8 286.5h0"/>
<path d="M443.6 217.3v-.8h4.4v1.5" class="br"/>
<text transform="translate(445.82,217.18) scale(0.1)" class="st" text-anchor="middle">*</text>
<path class="o" d="M453.1 251h0M453.1 252.5h0M453.1 253.4h0M453.1 254.4h0M453.1 255.9h0M453.1 257.4h0"/><path class="w" d="M453.1 231.8V237.2M453.1 242.7V250.3"/><rect x="451.3" y="237.2" width="3.6" height="5.6" fill="#4DBBD5" class="b"/><path class="m" d="M451.3 239.9h3.6"/>
<path class="o p" d="M457.1 240.1h0M457.1 244.2h0M457.1 245.1h0"/><path class="w" d="M457.1 221.6V227.4M457.1 232.3V239"/><rect x="455.3" y="227.4" width="3.6" height="4.9" fill="#E64B35" class="b"/><path class="m" d="M455.3 229.8h3.6"/>
<path class="o" style="stroke-opacity:1;stroke-width:1.5" d="M453.1 286.5h0"/>
<path d="M452.9 219.9v-.8h4.4v1.5" class="br"/>
<text transform="translate(455.15,219.81) scale(0.1)" class="st" text-anchor="middle">***</text>
<path class="o p" d="M462.5 242.5h0M462.5 246h0"/><path class="w" d="M462.5 228.8V233.1M462.5 236.6V241.1"/><rect x="460.7" y="233.1" width="3.6" height="3.5" fill="#4DBBD5" class="b"/><path class="m" d="M460.7 234.8h3.6"/>
<path class="o p" d="M466.5 218.8h0M466.5 214.6h0"/><path class="w" d="M466.5 221.6V230.3M466.5 235.6V245.2"/><rect x="464.7" y="230.3" width="3.6" height="5.3" fill="#E64B35" class="b"/><path class="m" d="M464.7 232.9h3.6"/>
<path d="M462.3 207.7v-.8h4.4v1.5" class="br"/>
<text transform="translate(464.48,207.57) scale(0.1)" class="st" text-anchor="middle">***</text>
<path class="o p" d="M471.8 250.7h0M471.8 252.7h0M471.8 257.1h0"/><path class="w" d="M471.8 222.7V228.4M471.8 236.3V248.2"/><rect x="470" y="228.4" width="3.6" height="8" fill="#4DBBD5" class="b"/><path class="m" d="M470 231.2h3.6"/>
<path class="o p" d="M475.8 245.6h0M475.8 248.4h0M475.8 253.2h0"/><path class="w" d="M475.8 225.7V232.9M475.8 238.6V244.1"/><rect x="474" y="232.9" width="3.6" height="5.7" fill="#E64B35" class="b"/><path class="m" d="M474 235.7h3.6"/>
<path class="o" style="stroke-opacity:0.65" d="M471.8 286.5h0"/>
<path d="M471.6 224v-.8h4.4v1.5" class="br"/>
<text transform="translate(473.81,223.94) scale(0.1)" class="st" text-anchor="middle">***</text>
<path class="o p" d="M481.1 243h0M481.1 245.9h0M481.1 248.5h0M481.1 251.9h0M481.1 253.5h0M481.1 257.1h0"/><path class="w" d="M481.1 225.7V229.2M481.1 233.9V241.1"/><rect x="479.3" y="229.2" width="3.6" height="4.7" fill="#4DBBD5" class="b"/><path class="m" d="M479.3 231.5h3.6"/>
<path class="o p" d="M485.1 243h0M485.1 245.9h0"/><path class="w" d="M485.1 219.6V228M485.1 232.7V241.1"/><rect x="483.3" y="228" width="3.6" height="4.7" fill="#E64B35" class="b"/><path class="m" d="M483.3 230.3h3.6"/>
<path class="o" style="stroke-opacity:0.65" d="M481.1 286.5h0"/>
<path d="M480.9 217.3v-.8h4.4v1.5" class="br"/>
<text transform="translate(483.14,217.18) scale(0.1)" class="st" text-anchor="middle">**</text>
<path class="o p" d="M490.5 244.7h0M490.5 248.2h0M490.5 250.7h0M490.5 253h0M490.5 255.6h0"/><path class="w" d="M490.5 225.7V230.4M490.5 235.6V243.1"/><rect x="488.7" y="230.4" width="3.6" height="5.2" fill="#4DBBD5" class="b"/><path class="m" d="M488.7 232.9h3.6"/>
<path class="w" d="M494.5 218.5V226.1M494.5 231.7V242.1"/><rect x="492.7" y="226.1" width="3.6" height="5.6" fill="#E64B35" class="b"/><path class="m" d="M492.7 228.8h3.6"/>
<path class="o" style="stroke-opacity:0.65" d="M490.5 286.5h0"/>
<path d="M490.3 213.1v-.8h4.4v1.5" class="br"/>
<text transform="translate(492.47,213.05) scale(0.1)" class="st" text-anchor="middle">***</text>
<path class="w" d="M499.8 236V239M499.8 240.8V243.1"/><rect x="498" y="239" width="3.6" height="1.8" fill="#4DBBD5" class="b"/><path class="m" d="M498 239.9h3.6"/>
<path class="w" d="M503.8 223.6V231.2M503.8 235.7V243.1"/><rect x="502" y="231.2" width="3.6" height="4.5" fill="#E64B35" class="b"/><path class="m" d="M502 233.5h3.6"/>
<path d="M499.6 218.3v-.8h4.4v1.5" class="br"/>
<text transform="translate(501.81,218.16) scale(0.1)" class="st" text-anchor="middle">***</text>
<path class="o" d="M509.1 251.1h0M509.1 251.8h0M509.1 253.8h0M509.1 254.2h0M509.1 255.3h0M509.1 256.6h0"/><path class="w" d="M509.1 230.9V237.2M509.1 242.7V250.3"/><rect x="507.3" y="237.2" width="3.6" height="5.6" fill="#4DBBD5" class="b"/><path class="m" d="M507.3 239.9h3.6"/>
<path class="o p" d="M513.1 240.9h0"/><path class="w" d="M513.1 219.6V228.1M513.1 233.1V239"/><rect x="511.3" y="228.1" width="3.6" height="5" fill="#E64B35" class="b"/><path class="m" d="M511.3 230.6h3.6"/>
<path class="o" style="stroke-opacity:1;stroke-width:1.5" d="M509.1 286.5h0"/>
<path d="M508.9 217.3v-.8h4.4v1.5" class="br"/>
<text transform="translate(511.14,217.18) scale(0.1)" class="st" text-anchor="middle">***</text>
<path class="o p" d="M518.5 254.3h0"/><path class="w" d="M518.5 231.8V238.6M518.5 244.5V252.3"/><rect x="516.7" y="238.6" width="3.6" height="5.9" fill="#4DBBD5" class="b"/><path class="m" d="M516.7 241.7h3.6"/>
<path class="o p" d="M522.5 249.2h0M522.5 252h0"/><path class="w" d="M522.5 220.6V231.8M522.5 238V248.2"/><rect x="520.7" y="231.8" width="3.6" height="6.2" fill="#E64B35" class="b"/><path class="m" d="M520.7 234.9h3.6"/>
<path d="M518.3 219.9v-.8h4.4v1.5" class="br"/>
<text transform="translate(520.47,219.81) scale(0.1)" class="st" text-anchor="middle">***</text>
<path class="o p" d="M527.8 241.4h0M527.8 243.9h0M527.8 245.5h0M527.8 247.2h0M527.8 248.9h0M527.8 249.7h0M527.8 252h0M527.8 253.3h0M527.8 255.6h0M527.8 257.2h0"/><path class="w" d="M527.8 221.6V230.9M527.8 234.8V241.1"/><rect x="526" y="230.9" width="3.6" height="3.9" fill="#4DBBD5" class="b"/><path class="m" d="M526 232.7h3.6"/>
<path class="o p" d="M531.8 243.3h0M531.8 244.2h0M531.8 248.2h0M531.8 250.7h0M531.8 253.3h0"/><path class="w" d="M531.8 219.6V229.2M531.8 234.1V241.1"/><rect x="530" y="229.2" width="3.6" height="4.9" fill="#E64B35" class="b"/><path class="m" d="M530 231.7h3.6"/>
<path class="o" style="stroke-opacity:0.65" d="M527.8 286.5h0"/>
<path d="M527.6 213.8v-.8h4.4v1.5" class="br"/>
<text transform="translate(529.8,213.72) scale(0.1)" class="st" text-anchor="middle">***</text>
<path class="o p" d="M537.1 241.5h0M537.1 243.3h0M537.1 244.8h0M537.1 246.3h0M537.1 249.1h0M537.1 250.6h0M537.1 252h0M537.1 253.9h0M537.1 255.3h0M537.1 256.5h0"/><path class="w" d="M537.1 224.7V230.9M537.1 234.8V241.1"/><rect x="535.3" y="230.9" width="3.6" height="3.9" fill="#4DBBD5" class="b"/><path class="m" d="M535.3 232.7h3.6"/>
<path class="o p" d="M541.1 240.7h0M541.1 243.3h0M541.1 247.2h0M541.1 248.7h0"/><path class="w" d="M541.1 215.5V229.2M541.1 234.5V240"/><rect x="539.3" y="229.2" width="3.6" height="5.3" fill="#E64B35" class="b"/><path class="m" d="M539.3 231.8h3.6"/>
<path class="o" style="stroke-opacity:0.65" d="M537.1 286.5h0"/>
<path d="M536.9 215.3v-.8h4.4v1.5" class="br"/>
<text transform="translate(539.13,215.15) scale(0.1)" class="st" text-anchor="middle">***</text>
<path class="w" d="M548.5 215.5V224.1M548.5 229.4V233.9"/><rect x="544.7" y="224.1" width="7.6" height="5.3" fill="#E64B35" class="b"/><path class="m" d="M544.7 226.7h7.6"/>
<path class="w" d="M555.8 219.6V221.6M555.8 225.3V228.8"/><rect x="554" y="221.6" width="3.6" height="3.7" fill="#4DBBD5" class="b"/><path class="m" d="M554 223.5h3.6"/>
<path class="o p" d="M559.8 242.9h0"/><path class="w" d="M559.8 214.5V225.1M559.8 232.7V241.1"/><rect x="558" y="225.1" width="3.6" height="7.5" fill="#E64B35" class="b"/><path class="m" d="M558 228.8h3.6"/>
<path d="M555.6 208v-.8h4.4v1.5" class="br"/>
<text transform="translate(557.79,207.94) scale(0.1)" class="st" text-anchor="middle">***</text>
<path class="o p" d="M565.1 253.5h0"/><path class="w" d="M565.1 233.9V240.8M565.1 245.2V251.3"/><rect x="563.3" y="240.8" width="3.6" height="4.4" fill="#4DBBD5" class="b"/><path class="m" d="M563.3 242.9h3.6"/>
<path class="o p" d="M569.1 236.5h0M569.1 239.5h0M569.1 242.2h0M569.1 245.6h0"/><path class="w" d="M569.1 220.6V226.1M569.1 230.3V236"/><rect x="567.3" y="226.1" width="3.6" height="4.1" fill="#E64B35" class="b"/><path class="m" d="M567.3 228.1h3.6"/>
<path class="o" style="stroke-opacity:0.85" d="M565.1 286.5h0"/>
<path d="M564.9 210.1v-.8h4.4v1.5" class="br"/>
<text transform="translate(567.13,210.04) scale(0.1)" class="st" text-anchor="middle">***</text>
<path class="w" d="M574.5 221.8V222M574.5 222.4V222.7"/><rect x="572.7" y="222" width="3.6" height="0.5" fill="#4DBBD5" class="b"/><path class="m" d="M572.7 222.2h3.6"/>
<path class="o p" d="M578.5 240.3h0M578.5 242.8h0"/><path class="w" d="M578.5 223.6V228.6M578.5 232.7V239"/><rect x="576.7" y="228.6" width="3.6" height="4.1" fill="#E64B35" class="b"/><path class="m" d="M576.7 230.6h3.6"/>
<path d="M574.3 216.2v-.8h4.4v1.5" class="br"/>
<text transform="translate(576.46,216.13) scale(0.1)" class="st" text-anchor="middle">**</text>
<path class="w" d="M583.8 220.6V227.4M583.8 232.1V237"/><rect x="582" y="227.4" width="3.6" height="4.7" fill="#4DBBD5" class="b"/><path class="m" d="M582 229.6h3.6"/>
<path class="o p" d="M587.8 244h0"/><path class="w" d="M587.8 217.6V227.8M587.8 232.9V240"/><rect x="586" y="227.8" width="3.6" height="5.1" fill="#E64B35" class="b"/><path class="m" d="M586 230.3h3.6"/>
<path class="w" d="M593.1 217.6V225.3M593.1 233.5V239"/><rect x="591.3" y="225.3" width="3.6" height="8.2" fill="#4DBBD5" class="b"/><path class="m" d="M591.3 229.8h3.6"/>
<path class="w" d="M597.1 216.5V222.4M597.1 227.8V232.9"/><rect x="595.3" y="222.4" width="3.6" height="5.3" fill="#E64B35" class="b"/><path class="m" d="M595.3 225.1h3.6"/>
<path class="o" style="stroke-opacity:1;stroke-width:1.5" d="M593.1 286.5h0"/>
<path d="M592.9 214.8v-.8h4.4v1.5" class="br"/>
<text transform="translate(595.12,214.7) scale(0.1)" class="st" text-anchor="middle">***</text>
<path class="w" d="M602.5 218.5V222.2M602.5 227.4V230.9"/><rect x="600.7" y="222.2" width="3.6" height="5.2" fill="#4DBBD5" class="b"/><path class="m" d="M600.7 224.9h3.6"/>
<path class="w" d="M606.5 208.4V224.3M606.5 229.8V239"/><rect x="604.7" y="224.3" width="3.6" height="5.5" fill="#E64B35" class="b"/><path class="m" d="M604.7 226.9h3.6"/>
<path class="o p" d="M611.8 246h0"/><path class="w" d="M611.8 220.6V229.2M611.8 234.8V244.1"/><rect x="610" y="229.2" width="3.6" height="5.6" fill="#4DBBD5" class="b"/><path class="m" d="M610 232.3h3.6"/>
<path class="o p" d="M615.8 247.8h0"/><path class="w" d="M615.8 218.5V229.8M615.8 235.6V245.2"/><rect x="614" y="229.8" width="3.6" height="5.8" fill="#E64B35" class="b"/><path class="m" d="M614 232.7h3.6"/>
<path d="M611.6 209.1v-.8h4.4v1.5" class="br"/>
<text transform="translate(613.78,208.99) scale(0.1)" class="st" text-anchor="middle">*</text>
<path class="w" d="M621.1 220.6V229.4M621.1 237.6V245.2"/><rect x="619.3" y="229.4" width="3.6" height="8.2" fill="#4DBBD5" class="b"/><path class="m" d="M619.3 234.9h3.6"/>
<path class="w" d="M625.1 217.6V227.8M625.1 234.1V243.1"/><rect x="623.3" y="227.8" width="3.6" height="6.3" fill="#E64B35" class="b"/><path class="m" d="M623.3 231.2h3.6"/>
<path class="o" style="stroke-opacity:1;stroke-width:1.5" d="M621.1 286.5h0"/>
<path d="M620.9 215.3v-.8h4.4v1.5" class="br"/>
<text transform="translate(623.11,215.15) scale(0.1)" class="st" text-anchor="middle">***</text>
<path class="o p" d="M630.4 243.2h0"/><path class="w" d="M630.4 231.8V234.3M630.4 236.8V241.1"/><rect x="628.6" y="234.3" width="3.6" height="2.5" fill="#4DBBD5" class="b"/><path class="m" d="M628.6 235.6h3.6"/>
<path class="o p" d="M634.4 242h0"/><path class="w" d="M634.4 224.7V230.3M634.4 234.9V241.1"/><rect x="632.6" y="230.3" width="3.6" height="4.7" fill="#E64B35" class="b"/><path class="m" d="M632.6 232.5h3.6"/>
<path d="M630.2 218.3v-.8h4.4v1.5" class="br"/>
<text transform="translate(632.44,218.16) scale(0.1)" class="st" text-anchor="middle">***</text>
<path class="o p" d="M639.8 237.6h0"/><path class="w" d="M639.8 218.5V225.3M639.8 229.8V236"/><rect x="638" y="225.3" width="3.6" height="4.5" fill="#4DBBD5" class="b"/><path class="m" d="M638 227.5h3.6"/>
<path class="o p" d="M643.8 237.2h0"/><path class="w" d="M643.8 218.5V225.1M643.8 229V234.9"/><rect x="642" y="225.1" width="3.6" height="3.8" fill="#E64B35" class="b"/><path class="m" d="M642 226.9h3.6"/>
<path class="o" style="stroke-opacity:0.75" d="M639.8 286.5h0"/>
<path d="M639.6 213.1v-.8h4.4v1.5" class="br"/>
<text transform="translate(641.78,213.05) scale(0.1)" class="st" text-anchor="middle">**</text>
<path class="w" d="M649.1 223.6V235.6M649.1 267.5V283"/><rect x="647.3" y="235.6" width="3.6" height="31.9" fill="#4DBBD5" class="b"/><path class="m" d="M647.3 259.5h3.6"/>
<path class="w" d="M653.1 220.6V224.7M653.1 228.1V232.9"/><rect x="651.3" y="224.7" width="3.6" height="3.5" fill="#E64B35" class="b"/><path class="m" d="M651.3 226.3h3.6"/>
<path d="M648.9 218.3v-.8h4.4v1.5" class="br"/>
<text transform="translate(651.11,218.16) scale(0.1)" class="st" text-anchor="middle">***</text>
<path class="w" d="M658.4 220.6V223.6M658.4 227.2V230.9"/><rect x="656.6" y="223.6" width="3.6" height="3.5" fill="#4DBBD5" class="b"/><path class="m" d="M656.6 225.3h3.6"/>
<path class="o p" d="M662.4 241.4h0M662.4 243.3h0M662.4 247h0M662.4 249.5h0M662.4 251.6h0"/><path class="w" d="M662.4 216.5V225.3M662.4 231.1V239"/><rect x="660.6" y="225.3" width="3.6" height="5.8" fill="#E64B35" class="b"/><path class="m" d="M660.6 227.8h3.6"/>
<path d="M658.2 215.3v-.8h4.4v1.5" class="br"/>
<text transform="translate(660.44,215.15) scale(0.1)" class="st" text-anchor="middle">***</text>
<path class="w" d="M667.8 220.6V223.9M667.8 227.8V230.9"/><rect x="666" y="223.9" width="3.6" height="3.9" fill="#4DBBD5" class="b"/><path class="m" d="M666 225.7h3.6"/>
<path class="w" d="M671.8 213.4V223M671.8 229.4V234.9"/><rect x="670" y="223" width="3.6" height="6.4" fill="#E64B35" class="b"/><path class="m" d="M670 226.3h3.6"/>
<path class="w" d="M679.1 222.7V230.4M679.1 236V241.1"/><rect x="675.3" y="230.4" width="7.6" height="5.6" fill="#E64B35" class="b"/><path class="m" d="M675.3 233.1h7.6"/>
<line x1="372.5" x2="372.5" y1="296.2" y2="384" class="ax"/>
<line x1="372.5" x2="684.7" y1="384" y2="384" class="ax"/>
<line x1="370.1" x2="372.5" y1="381.5" y2="381.5" class="tk"/>
<text transform="translate(369.4,383.4) scale(0.1)" class="tl" text-anchor="end">0</text>
<line x1="370.1" x2="372.5" y1="358.5" y2="358.5" class="tk"/>
<text transform="translate(369.4,360.4) scale(0.1)" class="tl" text-anchor="end">2</text>
<line x1="370.1" x2="372.5" y1="335.5" y2="335.5" class="tk"/>
<text transform="translate(369.4,337.4) scale(0.1)" class="tl" text-anchor="end">4</text>
<line x1="370.1" x2="372.5" y1="312.5" y2="312.5" class="tk"/>
<text transform="translate(369.4,314.4) scale(0.1)" class="tl" text-anchor="end">6</text>
<text transform="translate(356.7,340.1) rotate(-90) scale(0.1)" class="yt" text-anchor="middle">The expression of COMMD8</text>
<text transform="translate(361.7,340.1) rotate(-90) scale(0.1)" class="yt" text-anchor="middle">Log<tspan dy="10" font-size="36">2</tspan><tspan dy="-10"> (TPM+1)</tspan></text>
<path class="o p" d="M376.1 353.8h0M376.1 354.7h0M376.1 358.8h0M376.1 360h0M376.1 362.2h0M376.1 365.2h0"/><path class="w" d="M376.1 334.1V338.6M376.1 344.4V351.5"/><rect x="374.3" y="338.6" width="3.6" height="5.8" fill="#4DBBD5" class="b"/><path class="m" d="M374.3 341.5h3.6"/>
<path class="o p" d="M380.1 362.8h0M380.1 365.8h0M380.1 366.3h0M380.1 369.9h0"/><path class="w" d="M380.1 319.9V332.5M380.1 345.7V360.7"/><rect x="378.3" y="332.5" width="3.6" height="13.2" fill="#E64B35" class="b"/><path class="m" d="M378.3 339.6h3.6"/>
<path class="o" style="stroke-opacity:0.65" d="M376.1 381.5h0"/>
<path class="w" d="M385.5 332.1V338.4M385.5 344.6V347.3"/><rect x="383.7" y="338.4" width="3.6" height="6.2" fill="#4DBBD5" class="b"/><path class="m" d="M383.7 340.7h3.6"/>
<path class="o p" d="M389.5 355.1h0M389.5 358.2h0M389.5 359.5h0M389.5 362.7h0M389.5 365h0M389.5 368.5h0"/><path class="w" d="M389.5 316.8V331.2M389.5 340.9V353.6"/><rect x="387.7" y="331.2" width="3.6" height="9.7" fill="#E64B35" class="b"/><path class="m" d="M387.7 336h3.6"/>
<path d="M385.3 316.1v-.8h4.4v1.5" class="br"/>
<text transform="translate(387.55,316) scale(0.1)" class="st" text-anchor="middle">***</text>
<path class="o p" d="M394.9 332.1h0M394.9 328.1h0M394.9 353.8h0M394.9 356.7h0"/><path class="w" d="M394.9 333.1V340M394.9 346.2V352.5"/><rect x="393.1" y="340" width="3.6" height="6.2" fill="#4DBBD5" class="b"/><path class="m" d="M393.1 342.9h3.6"/>
<path class="o" d="M398.9 356.5h0M398.9 357.6h0M398.9 358.5h0M398.9 360.4h0M398.9 361.1h0M398.9 363.2h0M398.9 364.4h0"/><path class="w" d="M398.9 318.8V335.4M398.9 343.7V355.5"/><rect x="397.1" y="335.4" width="3.6" height="8.3" fill="#E64B35" class="b"/><path class="m" d="M397.1 339.2h3.6"/>
<path d="M394.7 314.5v-.8h4.4v1.5" class="br"/>
<text transform="translate(396.95,314.39) scale(0.1)" class="st" text-anchor="middle">***</text>
<path class="w" d="M404.4 334.1V340.2M404.4 347.6V352.5"/><rect x="402.6" y="340.2" width="3.6" height="7.4" fill="#4DBBD5" class="b"/><path class="m" d="M402.6 343.7h3.6"/>
<path class="o p" d="M408.4 353.7h0M408.4 356h0M408.4 358.1h0M408.4 360.8h0M408.4 363.4h0M408.4 367.1h0"/><path class="w" d="M408.4 318.8V330.7M408.4 338.6V351.5"/><rect x="406.6" y="330.7" width="3.6" height="7.9" fill="#E64B35" class="b"/><path class="m" d="M406.6 334.4h3.6"/>
<path d="M404.2 317.9v-.8h4.4v1.5" class="br"/>
<text transform="translate(406.35,317.84) scale(0.1)" class="st" text-anchor="middle">***</text>
<path class="w" d="M413.8 355.5V357.8M413.8 358.6V359.1"/><rect x="412" y="357.8" width="3.6" height="0.8" fill="#4DBBD5" class="b"/><path class="m" d="M412 358.2h3.6"/>
<path class="w" d="M417.8 332.1V338.4M417.8 347.8V352.5"/><rect x="416" y="338.4" width="3.6" height="9.4" fill="#E64B35" class="b"/><path class="m" d="M416 344.1h3.6"/>
<path d="M413.6 330.8v-.8h4.4v1.5" class="br"/>
<text transform="translate(415.76,330.72) scale(0.1)" class="st" text-anchor="middle">***</text>
<path class="o p" d="M423.2 332.6h0M423.2 330h0M423.2 329.5h0M423.2 327.6h0M423.2 325.9h0M423.2 323.5h0M423.2 322.4h0M423.2 320.9h0M423.2 318.7h0M423.2 317.9h0M423.2 316h0M423.2 314.3h0M423.2 355.2h0M423.2 357.2h0"/><path class="w" d="M423.2 333.1V339.4M423.2 346.2V353.6"/><rect x="421.4" y="339.4" width="3.6" height="6.8" fill="#4DBBD5" class="b"/><path class="m" d="M421.4 342.9h3.6"/>
<path class="o p" d="M427.2 317.9h0M427.2 349.6h0M427.2 352.2h0"/><path class="w" d="M427.2 320.8V332.3M427.2 338.1V348.4"/><rect x="425.4" y="332.3" width="3.6" height="5.9" fill="#E64B35" class="b"/><path class="m" d="M425.4 335.2h3.6"/>
<path class="o" style="stroke-opacity:1;stroke-width:1.5" d="M423.2 381.5h0"/>
<path d="M423 313v-.8h4.4v1.5" class="br"/>
<text transform="translate(425.16,312.9) scale(0.1)" class="st" text-anchor="middle">***</text>
<path class="w" d="M432.6 321.8V338.6M432.6 372V381"/><rect x="430.8" y="338.6" width="3.6" height="33.3" fill="#4DBBD5" class="b"/><path class="m" d="M430.8 359.6h3.6"/>
<path class="w" d="M436.6 320.8V329.2M436.6 337.2V348.4"/><rect x="434.8" y="329.2" width="3.6" height="8.1" fill="#E64B35" class="b"/><path class="m" d="M434.8 333.1h3.6"/>
<path d="M432.4 319.6v-.8h4.4v1.5" class="br"/>
<text transform="translate(434.56,319.45) scale(0.1)" class="st" text-anchor="middle">***</text>
<path class="o p" d="M442 357.6h0"/><path class="w" d="M442 326V336.3M442 344.9V356.5"/><rect x="440.2" y="336.3" width="3.6" height="8.6" fill="#4DBBD5" class="b"/><path class="m" d="M440.2 340.2h3.6"/>
<path class="o p" d="M446 348.6h0M446 350.9h0M446 353.8h0M446 355.2h0M446 358.5h0"/><path class="w" d="M446 311.7V328.4M446 335.7V346.3"/><rect x="444.2" y="328.4" width="3.6" height="7.4" fill="#E64B35" class="b"/><path class="m" d="M444.2 332.1h3.6"/>
<path class="o" style="stroke-opacity:1;stroke-width:1.5" d="M442 381.5h0"/>
<path d="M441.8 311.4v-.8h4.4v1.5" class="br"/>
<text transform="translate(443.97,311.29) scale(0.1)" class="st" text-anchor="middle">***</text>
<path class="o" d="M451.4 361.6h0M451.4 362.6h0M451.4 363.4h0M451.4 364.8h0M451.4 366.4h0M451.4 367h0M451.4 368.1h0"/><path class="w" d="M451.4 336.2V343.1M451.4 350.9V360.7"/><rect x="449.6" y="343.1" width="3.6" height="7.8" fill="#4DBBD5" class="b"/><path class="m" d="M449.6 346.5h3.6"/>
<path class="o p" d="M455.4 347.7h0M455.4 351.7h0M455.4 355.1h0"/><path class="w" d="M455.4 317.8V331.8M455.4 339.2V346.3"/><rect x="453.6" y="331.8" width="3.6" height="7.4" fill="#E64B35" class="b"/><path class="m" d="M453.6 335.5h3.6"/>
<path class="o" style="stroke-opacity:1;stroke-width:1.5" d="M451.4 381.5h0"/>
<path d="M451.2 316.4v-.8h4.4v1.5" class="br"/>
<text transform="translate(453.37,316.35) scale(0.1)" class="st" text-anchor="middle">***</text>
<path class="o p" d="M460.8 354.4h0M460.8 357.2h0M460.8 360.1h0M460.8 363h0M460.8 366.1h0M460.8 368.1h0"/><path class="w" d="M460.8 327V334.5M460.8 342.9V353.6"/><rect x="459" y="334.5" width="3.6" height="8.4" fill="#4DBBD5" class="b"/><path class="m" d="M459 337.2h3.6"/>
<path class="o p" d="M464.8 354.5h0"/><path class="w" d="M464.8 312.6V329.2M464.8 337.8V353.6"/><rect x="463" y="329.2" width="3.6" height="8.6" fill="#E64B35" class="b"/><path class="m" d="M463 333.3h3.6"/>
<path d="M460.6 314v-.8h4.4v1.5" class="br"/>
<text transform="translate(462.77,313.94) scale(0.1)" class="st" text-anchor="middle">***</text>
<path class="o p" d="M470.2 350.3h0M470.2 354.3h0M470.2 356.3h0M470.2 357.5h0M470.2 361.6h0"/><path class="w" d="M470.2 314.7V324.3M470.2 336.8V349.4"/><rect x="468.4" y="324.3" width="3.6" height="12.4" fill="#4DBBD5" class="b"/><path class="m" d="M468.4 330.4h3.6"/>
<path class="o p" d="M474.2 348.1h0"/><path class="w" d="M474.2 316.8V327M474.2 334.7V347.3"/><rect x="472.4" y="327" width="3.6" height="7.7" fill="#E64B35" class="b"/><path class="m" d="M472.4 330.9h3.6"/>
<path class="o" style="stroke-opacity:0.65" d="M470.2 381.5h0"/>
<path class="o p" d="M479.6 344.7h0M479.6 348.8h0M479.6 351.2h0M479.6 353.8h0M479.6 355.9h0M479.6 358.2h0M479.6 362h0"/><path class="w" d="M479.6 314.7V324.3M479.6 331.7V343.3"/><rect x="477.8" y="324.3" width="3.6" height="7.4" fill="#4DBBD5" class="b"/><path class="m" d="M477.8 328h3.6"/>
<path class="o p" d="M483.6 357.4h0M483.6 360.8h0"/><path class="w" d="M483.6 319.9V333.3M483.6 341.7V356.5"/><rect x="481.8" y="333.3" width="3.6" height="8.4" fill="#E64B35" class="b"/><path class="m" d="M481.8 337.2h3.6"/>
<path class="o" style="stroke-opacity:0.65" d="M479.6 381.5h0"/>
<path d="M479.4 306.9v-.8h4.4v1.5" class="br"/>
<text transform="translate(481.58,306.81) scale(0.1)" class="st" text-anchor="middle">***</text>
<path class="o p" d="M489 346.8h0M489 348.7h0M489 352.2h0M489 355.8h0M489 358.3h0M489 360.6h0"/><path class="w" d="M489 316.8V327.3M489 335.7V345.4"/><rect x="487.2" y="327.3" width="3.6" height="8.4" fill="#4DBBD5" class="b"/><path class="m" d="M487.2 331.7h3.6"/>
<path class="o p" d="M493 315h0M493 312.8h0M493 354.3h0M493 357.8h0"/><path class="w" d="M493 316.8V330.4M493 339.6V353.6"/><rect x="491.2" y="330.4" width="3.6" height="9.2" fill="#E64B35" class="b"/><path class="m" d="M491.2 334.1h3.6"/>
<path class="o" style="stroke-opacity:0.65" d="M489 381.5h0"/>
<path d="M488.8 302.8v-.8h4.4v1.5" class="br"/>
<text transform="translate(490.99,302.67) scale(0.1)" class="st" text-anchor="middle">*</text>
<path class="w" d="M498.4 341.2V342.7M498.4 345.2V347.3"/><rect x="496.6" y="342.7" width="3.6" height="2.4" fill="#4DBBD5" class="b"/><path class="m" d="M496.6 343.9h3.6"/>
<path class="o p" d="M502.4 351h0M502.4 354.9h0"/><path class="w" d="M502.4 314.7V325.5M502.4 335.2V349.4"/><rect x="500.6" y="325.5" width="3.6" height="9.7" fill="#E64B35" class="b"/><path class="m" d="M500.6 331.7h3.6"/>
<path d="M498.2 314v-.8h4.4v1.5" class="br"/>
<text transform="translate(500.39,313.94) scale(0.1)" class="st" text-anchor="middle">***</text>
<path class="o" d="M507.8 361.7h0M507.8 362.4h0M507.8 363.6h0M507.8 364.9h0M507.8 365.7h0M507.8 366.6h0M507.8 368.2h0M507.8 369.4h0M507.8 370.4h0M507.8 371.4h0M507.8 372.7h0M507.8 373.6h0"/><path class="w" d="M507.8 336.2V343.1M507.8 350.9V360.7"/><rect x="506" y="343.1" width="3.6" height="7.8" fill="#4DBBD5" class="b"/><path class="m" d="M506 346.5h3.6"/>
<path class="o p" d="M511.8 356.4h0"/><path class="w" d="M511.8 329.1V339.2M511.8 344.9V353.6"/><rect x="510" y="339.2" width="3.6" height="5.8" fill="#E64B35" class="b"/><path class="m" d="M510 342.1h3.6"/>
<path class="o" style="stroke-opacity:1;stroke-width:1.5" d="M507.8 381.5h0"/>
<path d="M507.6 324.6v-.8h4.4v1.5" class="br"/>
<text transform="translate(509.79,324.51) scale(0.1)" class="st" text-anchor="middle">***</text>
<path class="o p" d="M517.2 372.2h0"/><path class="w" d="M517.2 341.2V351M517.2 358.6V369.9"/><rect x="515.4" y="351" width="3.6" height="7.6" fill="#4DBBD5" class="b"/><path class="m" d="M515.4 354.7h3.6"/>
<path class="w" d="M521.2 326V344.1M521.2 355.5V367.8"/><rect x="519.4" y="344.1" width="3.6" height="11.4" fill="#E64B35" class="b"/><path class="m" d="M519.4 349.9h3.6"/>
<path d="M517 321.6v-.8h4.4v1.5" class="br"/>
<text transform="translate(519.2,321.52) scale(0.1)" class="st" text-anchor="middle">***</text>
<path class="o p" d="M526.6 363.5h0M526.6 365.5h0M526.6 366.5h0M526.6 368.5h0M526.6 370.6h0"/><path class="w" d="M526.6 322.9V337.2M526.6 347.3V362.8"/><rect x="524.8" y="337.2" width="3.6" height="10.1" fill="#4DBBD5" class="b"/><path class="m" d="M524.8 341.7h3.6"/>
<path class="o p" d="M530.6 358.3h0M530.6 361.7h0"/><path class="w" d="M530.6 315.7V332.3M530.6 341.8V355.5"/><rect x="528.8" y="332.3" width="3.6" height="9.5" fill="#E64B35" class="b"/><path class="m" d="M528.8 337.2h3.6"/>
<path class="o" style="stroke-opacity:0.65" d="M526.6 381.5h0"/>
<path d="M526.4 313.5v-.8h4.4v1.5" class="br"/>
<text transform="translate(528.6,313.36) scale(0.1)" class="st" text-anchor="middle">***</text>
<path class="o p" d="M536 361.4h0M536 363.3h0M536 365.1h0M536 367h0M536 368.4h0M536 370.5h0"/><path class="w" d="M536 326V337.6M536 347.8V360.7"/><rect x="534.2" y="337.6" width="3.6" height="10.2" fill="#4DBBD5" class="b"/><path class="m" d="M534.2 342.1h3.6"/>
<path class="o p" d="M540 359.4h0"/><path class="w" d="M540 309.6V329.4M540 339.2V355.5"/><rect x="538.2" y="329.4" width="3.6" height="9.8" fill="#E64B35" class="b"/><path class="m" d="M538.2 333.9h3.6"/>
<path class="o" style="stroke-opacity:0.65" d="M536 381.5h0"/>
<path d="M535.8 306.9v-.8h4.4v1.5" class="br"/>
<text transform="translate(538,306.81) scale(0.1)" class="st" text-anchor="middle">***</text>
<path class="w" d="M547.4 321.8V333.3M547.4 342.9V353.6"/><rect x="543.6" y="333.3" width="7.6" height="9.5" fill="#E64B35" class="b"/><path class="m" d="M543.6 337.6h7.6"/>
<path class="o p" d="M554.8 358.7h0"/><path class="w" d="M554.8 341.2V345.4M554.8 350.9V357.6"/><rect x="553" y="345.4" width="3.6" height="5.5" fill="#4DBBD5" class="b"/><path class="m" d="M553 348h3.6"/>
<path class="w" d="M558.8 315.7V336.2M558.8 345.5V361.7"/><rect x="557" y="336.2" width="3.6" height="9.3" fill="#E64B35" class="b"/><path class="m" d="M557 340.4h3.6"/>
<path d="M554.6 313.5v-.8h4.4v1.5" class="br"/>
<text transform="translate(556.81,313.36) scale(0.1)" class="st" text-anchor="middle">***</text>
<path class="o p" d="M564.2 368.7h0M564.2 371.5h0"/><path class="w" d="M564.2 345.4V353.9M564.2 359.6V366.8"/><rect x="562.4" y="353.9" width="3.6" height="5.8" fill="#4DBBD5" class="b"/><path class="m" d="M562.4 356.8h3.6"/>
<path class="o p" d="M568.2 352.8h0M568.2 355.6h0M568.2 359.1h0M568.2 359.8h0"/><path class="w" d="M568.2 327V336.8M568.2 343.7V351.5"/><rect x="566.4" y="336.8" width="3.6" height="6.9" fill="#E64B35" class="b"/><path class="m" d="M566.4 340.2h3.6"/>
<path class="o" style="stroke-opacity:0.85" d="M564.2 381.5h0"/>
<path d="M564 324.3v-.8h4.4v1.5" class="br"/>
<text transform="translate(566.21,324.17) scale(0.1)" class="st" text-anchor="middle">***</text>
<path class="w" d="M573.6 339.2V340.9M573.6 343.7V344.9"/><rect x="571.8" y="340.9" width="3.6" height="2.8" fill="#4DBBD5" class="b"/><path class="m" d="M571.8 342.3h3.6"/>
<path class="o p" d="M577.6 355.8h0M577.6 358.3h0"/><path class="w" d="M577.6 326V335.5M577.6 343.9V353.6"/><rect x="575.8" y="335.5" width="3.6" height="8.4" fill="#E64B35" class="b"/><path class="m" d="M575.8 339.2h3.6"/>
<path class="w" d="M583 327V341.5M583 347V355.5"/><rect x="581.2" y="341.5" width="3.6" height="5.5" fill="#4DBBD5" class="b"/><path class="m" d="M581.2 344.4h3.6"/>
<path class="o p" d="M587 361.1h0M587 364.6h0M587 366.6h0"/><path class="w" d="M587 331V341M587 347.6V358.6"/><rect x="585.2" y="341" width="3.6" height="6.6" fill="#E64B35" class="b"/><path class="m" d="M585.2 344.4h3.6"/>
<path class="o p" d="M592.4 354.1h0M592.4 356.9h0"/><path class="w" d="M592.4 329.1V340.2M592.4 346.5V353.6"/><rect x="590.6" y="340.2" width="3.6" height="6.3" fill="#4DBBD5" class="b"/><path class="m" d="M590.6 343.6h3.6"/>
<path class="o p" d="M596.4 351.3h0M596.4 354.8h0"/><path class="w" d="M596.4 320.8V330.7M596.4 337.8V349.4"/><rect x="594.6" y="330.7" width="3.6" height="7.1" fill="#E64B35" class="b"/><path class="m" d="M594.6 333.9h3.6"/>
<path class="o" style="stroke-opacity:1;stroke-width:1.5" d="M592.4 381.5h0"/>
<path d="M592.2 316.4v-.8h4.4v1.5" class="br"/>
<text transform="translate(594.43,316.35) scale(0.1)" class="st" text-anchor="middle">***</text>
<path class="w" d="M601.8 316.8V322.3M601.8 332.1V337.2"/><rect x="600" y="322.3" width="3.6" height="9.8" fill="#4DBBD5" class="b"/><path class="m" d="M600 327.3h3.6"/>
<path class="o p" d="M605.8 316.9h0M605.8 356.4h0M605.8 359.3h0"/><path class="w" d="M605.8 318.8V331.5M605.8 340.9V354.6"/><rect x="604" y="331.5" width="3.6" height="9.4" fill="#E64B35" class="b"/><path class="m" d="M604 336.3h3.6"/>
<path class="w" d="M611.2 321.8V332.5M611.2 348.6V368.9"/><rect x="609.4" y="332.5" width="3.6" height="16.1" fill="#4DBBD5" class="b"/><path class="m" d="M609.4 341.2h3.6"/>
<path class="o p" d="M615.2 369.7h0M615.2 372.5h0"/><path class="w" d="M615.2 318.8V333.9M615.2 345.5V367.8"/><rect x="613.4" y="333.9" width="3.6" height="11.6" fill="#E64B35" class="b"/><path class="m" d="M613.4 339.4h3.6"/>
<path class="o p" d="M620.6 363.3h0M620.6 364h0M620.6 366.4h0"/><path class="w" d="M620.6 334.1V345.4M620.6 352.8V361.7"/><rect x="618.8" y="345.4" width="3.6" height="7.4" fill="#4DBBD5" class="b"/><path class="m" d="M618.8 348.8h3.6"/>
<path class="o p" d="M624.6 352.8h0M624.6 356.1h0M624.6 357.3h0M624.6 361.6h0M624.6 362.9h0M624.6 364.9h0"/><path class="w" d="M624.6 319.9V332.6M624.6 340.4V351.5"/><rect x="622.8" y="332.6" width="3.6" height="7.8" fill="#E64B35" class="b"/><path class="m" d="M622.8 336.3h3.6"/>
<path class="o" style="stroke-opacity:1;stroke-width:1.5" d="M620.6 381.5h0"/>
<path d="M620.4 317.5v-.8h4.4v1.5" class="br"/>
<text transform="translate(622.64,317.38) scale(0.1)" class="st" text-anchor="middle">***</text>
<path class="w" d="M630 328V330.7M630 335.2V338.1"/><rect x="628.2" y="330.7" width="3.6" height="4.5" fill="#4DBBD5" class="b"/><path class="m" d="M628.2 332.6h3.6"/>
<path class="o p" d="M634 364h0M634 367.4h0M634 369.5h0"/><path class="w" d="M634 336.2V342.3M634 349.9V362.8"/><rect x="632.2" y="342.3" width="3.6" height="7.6" fill="#E64B35" class="b"/><path class="m" d="M632.2 345.7h3.6"/>
<path d="M629.8 323.6v-.8h4.4v1.5" class="br"/>
<text transform="translate(632.04,323.48) scale(0.1)" class="st" text-anchor="middle">***</text>
<path class="o p" d="M639.4 351.1h0M639.4 354.1h0M639.4 357.9h0"/><path class="w" d="M639.4 327V334.4M639.4 340.4V349.4"/><rect x="637.6" y="334.4" width="3.6" height="6.1" fill="#4DBBD5" class="b"/><path class="m" d="M637.6 337.3h3.6"/>
<path class="o p" d="M643.4 355.5h0"/><path class="w" d="M643.4 327V336.3M643.4 343.6V353.6"/><rect x="641.6" y="336.3" width="3.6" height="7.2" fill="#E64B35" class="b"/><path class="m" d="M641.6 339.6h3.6"/>
<path class="o" style="stroke-opacity:0.75" d="M639.4 381.5h0"/>
<path d="M639.2 320.9v-.8h4.4v1.5" class="br"/>
<text transform="translate(641.44,320.83) scale(0.1)" class="st" text-anchor="middle">***</text>
<path class="w" d="M648.8 321.8V337.8M648.8 372V381"/><rect x="647" y="337.8" width="3.6" height="34.2" fill="#4DBBD5" class="b"/><path class="m" d="M647 359.6h3.6"/>
<path class="w" d="M652.8 320.8V328.1M652.8 333.7V341.2"/><rect x="651" y="328.1" width="3.6" height="5.5" fill="#E64B35" class="b"/><path class="m" d="M651 331h3.6"/>
<path d="M648.6 313v-.8h4.4v1.5" class="br"/>
<text transform="translate(650.85,312.9) scale(0.1)" class="st" text-anchor="middle">***</text>
<path class="o p" d="M658.3 348.8h0M658.3 352.3h0"/><path class="w" d="M658.3 336.2V340.2M658.3 344.4V347.3"/><rect x="656.5" y="340.2" width="3.6" height="4.1" fill="#4DBBD5" class="b"/><path class="m" d="M656.5 342.3h3.6"/>
<path class="o p" d="M662.3 356.8h0M662.3 360h0M662.3 361.9h0M662.3 364h0"/><path class="w" d="M662.3 324.9V333.3M662.3 341.7V354.6"/><rect x="660.5" y="333.3" width="3.6" height="8.4" fill="#E64B35" class="b"/><path class="m" d="M660.5 337.2h3.6"/>
<path d="M658.1 323.6v-.8h4.4v1.5" class="br"/>
<text transform="translate(660.25,323.48) scale(0.1)" class="st" text-anchor="middle">***</text>
<path class="o p" d="M667.7 350.4h0M667.7 352.8h0"/><path class="w" d="M667.7 336.2V341M667.7 344.6V347.3"/><rect x="665.9" y="341" width="3.6" height="3.6" fill="#4DBBD5" class="b"/><path class="m" d="M665.9 342.9h3.6"/>
<path class="w" d="M671.7 329.1V336.2M671.7 342.9V353.6"/><rect x="669.9" y="336.2" width="3.6" height="6.7" fill="#E64B35" class="b"/><path class="m" d="M669.9 339.4h3.6"/>
<path d="M667.5 320.1v-.8h4.4v1.5" class="br"/>
<text transform="translate(669.65,320.03) scale(0.1)" class="st" text-anchor="middle">***</text>
<path class="w" d="M679.1 330V348.4M679.1 366.8V378.1"/><rect x="675.3" y="348.4" width="7.6" height="18.4" fill="#E64B35" class="b"/><path class="m" d="M675.3 358.6h7.6"/>
<line x1="373.5" x2="373.5" y1="386.3" y2="474" class="ax"/>
<line x1="373.5" x2="684.7" y1="474" y2="474" class="ax"/>
<line x1="371.1" x2="373.5" y1="471.2" y2="471.2" class="tk"/>
<text transform="translate(370.4,473.1) scale(0.1)" class="tl" text-anchor="end">0</text>
<line x1="371.1" x2="373.5" y1="449.1" y2="449.1" class="tk"/>
<text transform="translate(370.4,451) scale(0.1)" class="tl" text-anchor="end">2</text>
<line x1="371.1" x2="373.5" y1="427" y2="427" class="tk"/>
<text transform="translate(370.4,428.9) scale(0.1)" class="tl" text-anchor="end">4</text>
<line x1="371.1" x2="373.5" y1="404.9" y2="404.9" class="tk"/>
<text transform="translate(370.4,406.8) scale(0.1)" class="tl" text-anchor="end">6</text>
<text transform="translate(356.7,430.15) rotate(-90) scale(0.1)" class="yt" text-anchor="middle">The expression of COMMD10</text>
<text transform="translate(361.7,430.15) rotate(-90) scale(0.1)" class="yt" text-anchor="middle">Log<tspan dy="10" font-size="36">2</tspan><tspan dy="-10"> (TPM+1)</tspan></text>
<line x1="379.12" x2="379.12" y1="474" y2="476.4" class="tk"/>
<text transform="translate(380.92,480.2) rotate(-45) scale(0.1)" class="xl" text-anchor="end">ACC</text>
<path class="o p" d="M377.1 432h0M377.1 434.4h0M377.1 438.5h0M377.1 441.2h0M377.1 443.5h0"/><path class="w" d="M377.1 417.6V422.8M377.1 426.7V431"/><rect x="375.3" y="422.8" width="3.6" height="3.9" fill="#4DBBD5" class="b"/><path class="m" d="M375.3 424.8h3.6"/>
<path class="w" d="M381.1 399.3V411.8M381.1 423.4V439.2"/><rect x="379.3" y="411.8" width="3.6" height="11.6" fill="#E64B35" class="b"/><path class="m" d="M379.3 417.6h3.6"/>
<path class="o" style="stroke-opacity:0.65" d="M377.1 471.2h0"/>
<path d="M376.9 398.4v-.8h4.4v1.5" class="br"/>
<text transform="translate(379.12,398.32) scale(0.1)" class="st" text-anchor="middle">***</text>
<line x1="388.5" x2="388.5" y1="474" y2="476.4" class="tk"/>
<text transform="translate(390.3,480.2) rotate(-45) scale(0.1)" class="xl" text-anchor="end">BLCA</text>
<path class="o p" d="M386.5 437.5h0M386.5 440.3h0M386.5 442.1h0M386.5 446.2h0"/><path class="w" d="M386.5 420.7V423.1M386.5 429.9V436.1"/><rect x="384.7" y="423.1" width="3.6" height="6.7" fill="#4DBBD5" class="b"/><path class="m" d="M384.7 426.4h3.6"/>
<path class="o p" d="M390.5 414.4h0M390.5 411.3h0M390.5 449.6h0M390.5 452.2h0M390.5 454.2h0M390.5 456.4h0M390.5 459.6h0"/><path class="w" d="M390.5 415.6V427.1M390.5 436.1V447.3"/><rect x="388.7" y="427.1" width="3.6" height="9" fill="#E64B35" class="b"/><path class="m" d="M388.7 431.5h3.6"/>
<path d="M386.3 406.2v-.8h4.4v1.5" class="br"/>
<text transform="translate(388.5,406.05) scale(0.1)" class="st" text-anchor="middle">***</text>
<line x1="397.87" x2="397.87" y1="474" y2="476.4" class="tk"/>
<text transform="translate(399.67,480.2) rotate(-45) scale(0.1)" class="xl" text-anchor="end">BRCA</text>
<path class="o p" d="M395.9 436h0"/><path class="w" d="M395.9 412.5V419.9M395.9 426.7V435.1"/><rect x="394.1" y="419.9" width="3.6" height="6.7" fill="#4DBBD5" class="b"/><path class="m" d="M394.1 423.1h3.6"/>
<path class="o" d="M399.9 440.3h0M399.9 441.2h0M399.9 443.1h0M399.9 443.8h0M399.9 445.3h0M399.9 446.5h0"/><path class="w" d="M399.9 399.3V414.8M399.9 425.2V439.2"/><rect x="398.1" y="414.8" width="3.6" height="10.4" fill="#E64B35" class="b"/><path class="m" d="M398.1 419.7h3.6"/>
<path d="M395.7 397.5v-.8h4.4v1.5" class="br"/>
<text transform="translate(397.87,397.43) scale(0.1)" class="st" text-anchor="middle">***</text>
<line x1="407.24" x2="407.24" y1="474" y2="476.4" class="tk"/>
<text transform="translate(409.04,480.2) rotate(-45) scale(0.1)" class="xl" text-anchor="end">CESC</text>
<path class="w" d="M405.2 419.7V422.1M405.2 427.1V433"/><rect x="403.4" y="422.1" width="3.6" height="5" fill="#4DBBD5" class="b"/><path class="m" d="M403.4 424.6h3.6"/>
<path class="o p" d="M409.2 448.8h0M409.2 450.9h0M409.2 453.2h0M409.2 457.3h0M409.2 459.1h0"/><path class="w" d="M409.2 413.5V425.5M409.2 434.2V447.3"/><rect x="407.4" y="425.5" width="3.6" height="8.7" fill="#E64B35" class="b"/><path class="m" d="M407.4 429.3h3.6"/>
<path d="M405 410.2v-.8h4.4v1.5" class="br"/>
<text transform="translate(407.24,410.14) scale(0.1)" class="st" text-anchor="middle">**</text>
<line x1="416.62" x2="416.62" y1="474" y2="476.4" class="tk"/>
<text transform="translate(418.42,480.2) rotate(-45) scale(0.1)" class="xl" text-anchor="end">CHOL</text>
<path class="o p" d="M414.6 443.8h0"/><path class="w" d="M414.6 437.1V438.7M414.6 441.6V442.1"/><rect x="412.8" y="438.7" width="3.6" height="2.9" fill="#4DBBD5" class="b"/><path class="m" d="M412.8 440.1h3.6"/>
<path class="w" d="M418.6 414.6V423.8M418.6 431.5V439.2"/><rect x="416.8" y="423.8" width="3.6" height="7.7" fill="#E64B35" class="b"/><path class="m" d="M416.8 427.9h3.6"/>
<path d="M414.4 413.3v-.8h4.4v1.5" class="br"/>
<text transform="translate(416.62,413.24) scale(0.1)" class="st" text-anchor="middle">***</text>
<line x1="425.99" x2="425.99" y1="474" y2="476.4" class="tk"/>
<text transform="translate(427.79,480.2) rotate(-45) scale(0.1)" class="xl" text-anchor="end">COAD</text>
<path class="o p" d="M424 414.7h0M424 412.4h0M424 445.9h0"/><path class="w" d="M424 415.6V425M424 432.2V444.2"/><rect x="422.2" y="425" width="3.6" height="7.2" fill="#4DBBD5" class="b"/><path class="m" d="M422.2 428.3h3.6"/>
<path class="o p" d="M428 401.2h0M428 441h0M428 442.9h0"/><path class="w" d="M428 403.4V419.7M428 427.7V439.2"/><rect x="426.2" y="419.7" width="3.6" height="8" fill="#E64B35" class="b"/><path class="m" d="M426.2 423.4h3.6"/>
<path class="o" style="stroke-opacity:1;stroke-width:1.5" d="M424 471.2h0"/>
<path d="M423.8 399.4v-.8h4.4v1.5" class="br"/>
<text transform="translate(425.99,399.31) scale(0.1)" class="st" text-anchor="middle">***</text>
<line x1="435.37" x2="435.37" y1="474" y2="476.4" class="tk"/>
<text transform="translate(437.17,480.2) rotate(-45) scale(0.1)" class="xl" text-anchor="end">DLBC</text>
<path class="w" d="M433.4 417.6V429.9M433.4 456.9V470.8"/><rect x="431.6" y="429.9" width="3.6" height="27.1" fill="#4DBBD5" class="b"/><path class="m" d="M431.6 448.3h3.6"/>
<path class="w" d="M437.4 413.5V419.9M437.4 430.8V442.1"/><rect x="435.6" y="419.9" width="3.6" height="10.8" fill="#E64B35" class="b"/><path class="m" d="M435.6 425h3.6"/>
<path d="M433.2 412.2v-.8h4.4v1.5" class="br"/>
<text transform="translate(435.37,412.13) scale(0.1)" class="st" text-anchor="middle">***</text>
<line x1="444.74" x2="444.74" y1="474" y2="476.4" class="tk"/>
<text transform="translate(446.54,480.2) rotate(-45) scale(0.1)" class="xl" text-anchor="end">ESCA</text>
<path class="o p" d="M442.7 443.1h0"/><path class="w" d="M442.7 417.6V425.8M442.7 431.3V440.1"/><rect x="440.9" y="425.8" width="3.6" height="5.5" fill="#4DBBD5" class="b"/><path class="m" d="M440.9 428.4h3.6"/>
<path class="w" d="M446.7 415.6V426.9M446.7 433.9V445.2"/><rect x="444.9" y="426.9" width="3.6" height="7" fill="#E64B35" class="b"/><path class="m" d="M444.9 430.1h3.6"/>
<path class="o" style="stroke-opacity:1;stroke-width:1.5" d="M442.7 471.2h0"/>
<path d="M442.5 413.3v-.8h4.4v1.5" class="br"/>
<text transform="translate(444.74,413.24) scale(0.1)" class="st" text-anchor="middle">***</text>
<line x1="454.11" x2="454.11" y1="474" y2="476.4" class="tk"/>
<text transform="translate(455.91,480.2) rotate(-45) scale(0.1)" class="xl" text-anchor="end">GBM</text>
<path class="o" d="M452.1 451.3h0M452.1 451.7h0M452.1 453.5h0M452.1 454.7h0M452.1 455.8h0M452.1 456.3h0M452.1 458.1h0M452.1 459h0M452.1 459.6h0M452.1 460.7h0"/><path class="w" d="M452.1 419.7V431.5M452.1 439.7V450.3"/><rect x="450.3" y="431.5" width="3.6" height="8.2" fill="#4DBBD5" class="b"/><path class="m" d="M450.3 435.2h3.6"/>
<path class="o p" d="M456.1 431.3h0M456.1 433.2h0M456.1 434.8h0M456.1 437h0M456.1 439.6h0M456.1 442.2h0M456.1 445.8h0"/><path class="w" d="M456.1 399.3V410.9M456.1 419.9V428.9"/><rect x="454.3" y="410.9" width="3.6" height="9.1" fill="#E64B35" class="b"/><path class="m" d="M454.3 415h3.6"/>
<path class="o" style="stroke-opacity:1;stroke-width:1.5" d="M452.1 471.2h0"/>
<path d="M451.9 396.3v-.8h4.4v1.5" class="br"/>
<text transform="translate(454.11,396.22) scale(0.1)" class="st" text-anchor="middle">***</text>
<line x1="463.49" x2="463.49" y1="474" y2="476.4" class="tk"/>
<text transform="translate(465.29,480.2) rotate(-45) scale(0.1)" class="xl" text-anchor="end">HNSC</text>
<path class="o p" d="M461.5 439.3h0M461.5 441.6h0M461.5 445.9h0M461.5 448.3h0M461.5 449.6h0"/><path class="w" d="M461.5 422.8V430.1M461.5 435.2V438"/><rect x="459.7" y="430.1" width="3.6" height="5.1" fill="#4DBBD5" class="b"/><path class="m" d="M459.7 432.5h3.6"/>
<path class="o p" d="M465.5 407.8h0M465.5 452.8h0M465.5 456.9h0"/><path class="w" d="M465.5 411.5V427.9M465.5 435.4V450.3"/><rect x="463.7" y="427.9" width="3.6" height="7.5" fill="#E64B35" class="b"/><path class="m" d="M463.7 431.5h3.6"/>
<line x1="472.86" x2="472.86" y1="474" y2="476.4" class="tk"/>
<text transform="translate(474.66,480.2) rotate(-45) scale(0.1)" class="xl" text-anchor="end">KICH</text>
<path class="w" d="M470.9 405.3V416.6M470.9 431.8V451.4"/><rect x="469.1" y="416.6" width="3.6" height="15.1" fill="#4DBBD5" class="b"/><path class="m" d="M469.1 422.4h3.6"/>
<path class="w" d="M474.9 404.3V416.1M474.9 428.4V445.2"/><rect x="473.1" y="416.1" width="3.6" height="12.4" fill="#E64B35" class="b"/><path class="m" d="M473.1 421.4h3.6"/>
<path class="o" style="stroke-opacity:0.65" d="M470.9 471.2h0"/>
<line x1="482.23" x2="482.23" y1="474" y2="476.4" class="tk"/>
<text transform="translate(484.03,480.2) rotate(-45) scale(0.1)" class="xl" text-anchor="end">KIRC</text>
<path class="o p" d="M480.2 442.2h0M480.2 445.5h0M480.2 448.1h0M480.2 451.1h0"/><path class="w" d="M480.2 408.4V415.6M480.2 424V440.1"/><rect x="478.4" y="415.6" width="3.6" height="8.4" fill="#4DBBD5" class="b"/><path class="m" d="M478.4 418.7h3.6"/>
<path class="o p" d="M484.2 400.2h0M484.2 395.9h0M484.2 393.2h0M484.2 440.2h0M484.2 442.2h0M484.2 445.8h0M484.2 447.8h0M484.2 449.8h0"/><path class="w" d="M484.2 401.3V416.6M484.2 424.6V438"/><rect x="482.4" y="416.6" width="3.6" height="8" fill="#E64B35" class="b"/><path class="m" d="M482.4 420.3h3.6"/>
<path class="o" style="stroke-opacity:0.65" d="M480.2 471.2h0"/>
<line x1="491.61" x2="491.61" y1="474" y2="476.4" class="tk"/>
<text transform="translate(493.41,480.2) rotate(-45) scale(0.1)" class="xl" text-anchor="end">KIRP</text>
<path class="o p" d="M489.6 444.3h0M489.6 446.8h0M489.6 450.3h0"/><path class="w" d="M489.6 411.5V420.9M489.6 430.3V443.2"/><rect x="487.8" y="420.9" width="3.6" height="9.4" fill="#4DBBD5" class="b"/><path class="m" d="M487.8 424.8h3.6"/>
<path class="o p" d="M493.6 442.9h0M493.6 447h0"/><path class="w" d="M493.6 407.4V420.9M493.6 428.4V442.1"/><rect x="491.8" y="420.9" width="3.6" height="7.5" fill="#E64B35" class="b"/><path class="m" d="M491.8 424.3h3.6"/>
<path class="o" style="stroke-opacity:0.65" d="M489.6 471.2h0"/>
<line x1="500.98" x2="500.98" y1="474" y2="476.4" class="tk"/>
<text transform="translate(502.78,480.2) rotate(-45) scale(0.1)" class="xl" text-anchor="end">LAML</text>
<path class="w" d="M499 420.7V423.1M499 425.5V426.9"/><rect x="497.2" y="423.1" width="3.6" height="2.3" fill="#4DBBD5" class="b"/><path class="m" d="M497.2 424.3h3.6"/>
<path class="w" d="M503 412.5V419.7M503 425.8V433"/><rect x="501.2" y="419.7" width="3.6" height="6.1" fill="#E64B35" class="b"/><path class="m" d="M501.2 422.6h3.6"/>
<path d="M498.8 410.7v-.8h4.4v1.5" class="br"/>
<text transform="translate(500.98,410.58) scale(0.1)" class="st" text-anchor="middle">***</text>
<line x1="510.35" x2="510.35" y1="474" y2="476.4" class="tk"/>
<text transform="translate(512.15,480.2) rotate(-45) scale(0.1)" class="xl" text-anchor="end">LGG</text>
<path class="o" d="M508.4 450.7h0M508.4 452.1h0M508.4 453.2h0M508.4 454.4h0M508.4 455.8h0M508.4 456.2h0M508.4 458.1h0M508.4 458.9h0M508.4 460.1h0M508.4 461.3h0"/><path class="w" d="M508.4 419.7V431.5M508.4 439.7V450.3"/><rect x="506.6" y="431.5" width="3.6" height="8.2" fill="#4DBBD5" class="b"/><path class="m" d="M506.6 435.2h3.6"/>
<path class="o p" d="M512.4 440.3h0M512.4 441.9h0M512.4 444.6h0M512.4 448.2h0"/><path class="w" d="M512.4 411.5V421.7M512.4 427.9V438"/><rect x="510.6" y="421.7" width="3.6" height="6.2" fill="#E64B35" class="b"/><path class="m" d="M510.6 424.6h3.6"/>
<path class="o" style="stroke-opacity:1;stroke-width:1.5" d="M508.4 471.2h0"/>
<path d="M508.2 409.2v-.8h4.4v1.5" class="br"/>
<text transform="translate(510.35,409.15) scale(0.1)" class="st" text-anchor="middle">***</text>
<line x1="519.73" x2="519.73" y1="474" y2="476.4" class="tk"/>
<text transform="translate(521.53,480.2) rotate(-45) scale(0.1)" class="xl" text-anchor="end">LIHC</text>
<path class="o p" d="M517.7 448.3h0M517.7 453.4h0"/><path class="w" d="M517.7 431V436.6M517.7 441.6V447.3"/><rect x="515.9" y="436.6" width="3.6" height="5" fill="#4DBBD5" class="b"/><path class="m" d="M515.9 439.2h3.6"/>
<path class="o p" d="M521.7 453.2h0M521.7 454.4h0M521.7 458h0M521.7 460.6h0M521.7 463.6h0"/><path class="w" d="M521.7 414.6V428.1M521.7 436.5V451.4"/><rect x="519.9" y="428.1" width="3.6" height="8.4" fill="#E64B35" class="b"/><path class="m" d="M519.9 432.2h3.6"/>
<path d="M517.5 410.7v-.8h4.4v1.5" class="br"/>
<text transform="translate(519.73,410.58) scale(0.1)" class="st" text-anchor="middle">***</text>
<line x1="529.1" x2="529.1" y1="474" y2="476.4" class="tk"/>
<text transform="translate(530.9,480.2) rotate(-45) scale(0.1)" class="xl" text-anchor="end">LUAD</text>
<path class="o p" d="M527.1 438.8h0M527.1 441.4h0M527.1 442.4h0M527.1 444h0M527.1 446.3h0M527.1 446.8h0M527.1 449.4h0M527.1 450.9h0"/><path class="w" d="M527.1 414.6V423.8M527.1 428.4V438"/><rect x="525.3" y="423.8" width="3.6" height="4.6" fill="#4DBBD5" class="b"/><path class="m" d="M525.3 426h3.6"/>
<path class="w" d="M531.1 402.4V419.3M531.1 428.1V443.2"/><rect x="529.3" y="419.3" width="3.6" height="8.8" fill="#E64B35" class="b"/><path class="m" d="M529.3 423.6h3.6"/>
<path class="o" style="stroke-opacity:0.65" d="M527.1 471.2h0"/>
<path d="M526.9 401.6v-.8h4.4v1.5" class="br"/>
<text transform="translate(529.1,401.52) scale(0.1)" class="st" text-anchor="middle">***</text>
<line x1="538.47" x2="538.47" y1="474" y2="476.4" class="tk"/>
<text transform="translate(540.27,480.2) rotate(-45) scale(0.1)" class="xl" text-anchor="end">LUSC</text>
<path class="o p" d="M536.5 440h0M536.5 442.5h0M536.5 443.5h0M536.5 445.4h0M536.5 447.3h0M536.5 449.3h0M536.5 450.3h0"/><path class="w" d="M536.5 415.6V424M536.5 429.8V439.2"/><rect x="534.7" y="424" width="3.6" height="5.7" fill="#4DBBD5" class="b"/><path class="m" d="M534.7 426.7h3.6"/>
<path class="o p" d="M540.5 408.8h0"/><path class="w" d="M540.5 409.4V424M540.5 432.5V443.2"/><rect x="538.7" y="424" width="3.6" height="8.5" fill="#E64B35" class="b"/><path class="m" d="M538.7 428.1h3.6"/>
<path class="o" style="stroke-opacity:0.65" d="M536.5 471.2h0"/>
<path d="M536.3 395.5v-.8h4.4v1.5" class="br"/>
<text transform="translate(538.47,395.44) scale(0.1)" class="st" text-anchor="middle">***</text>
<line x1="547.85" x2="547.85" y1="474" y2="476.4" class="tk"/>
<text transform="translate(549.65,480.2) rotate(-45) scale(0.1)" class="xl" text-anchor="end">MESO</text>
<path class="o" d="M547.8 418.1h0M547.8 416.8h0M547.8 415.4h0M547.8 414.8h0M547.8 413.2h0M547.8 412.4h0M547.8 411.2h0M547.8 410.2h0M547.8 408.9h0M547.8 441.3h0M547.8 442.2h0M547.8 443.6h0M547.8 444.4h0M547.8 445.6h0"/><path class="w" d="M547.8 418.7V423.8M547.8 429.9V440.1"/><rect x="544" y="423.8" width="7.6" height="6.1" fill="#E64B35" class="b"/><path class="m" d="M544 426.9h7.6"/>
<line x1="557.22" x2="557.22" y1="474" y2="476.4" class="tk"/>
<text transform="translate(559.02,480.2) rotate(-45) scale(0.1)" class="xl" text-anchor="end">OV</text>
<path class="w" d="M555.2 417.6V424M555.2 428.4V433"/><rect x="553.4" y="424" width="3.6" height="4.4" fill="#4DBBD5" class="b"/><path class="m" d="M553.4 426.2h3.6"/>
<path class="w" d="M559.2 410.5V423.4M559.2 433.4V446.2"/><rect x="557.4" y="423.4" width="3.6" height="10.1" fill="#E64B35" class="b"/><path class="m" d="M557.4 428.1h3.6"/>
<path d="M555 404.1v-.8h4.4v1.5" class="br"/>
<text transform="translate(557.22,403.95) scale(0.1)" class="st" text-anchor="middle">***</text>
<line x1="566.59" x2="566.59" y1="474" y2="476.4" class="tk"/>
<text transform="translate(568.39,480.2) rotate(-45) scale(0.1)" class="xl" text-anchor="end">PAAD</text>
<path class="o p" d="M564.6 447.4h0M564.6 450.8h0M564.6 453.6h0"/><path class="w" d="M564.6 432V436.1M564.6 440.7V446.2"/><rect x="562.8" y="436.1" width="3.6" height="4.6" fill="#4DBBD5" class="b"/><path class="m" d="M562.8 438.5h3.6"/>
<path class="o p" d="M568.6 411.4h0M568.6 410.4h0M568.6 442.1h0M568.6 445h0"/><path class="w" d="M568.6 413.5V424.2M568.6 430.5V440.1"/><rect x="566.8" y="424.2" width="3.6" height="6.3" fill="#E64B35" class="b"/><path class="m" d="M566.8 427.2h3.6"/>
<path class="o" style="stroke-opacity:0.85" d="M564.6 471.2h0"/>
<path d="M564.4 409.2v-.8h4.4v1.5" class="br"/>
<text transform="translate(566.59,409.15) scale(0.1)" class="st" text-anchor="middle">***</text>
<line x1="575.97" x2="575.97" y1="474" y2="476.4" class="tk"/>
<text transform="translate(577.77,480.2) rotate(-45) scale(0.1)" class="xl" text-anchor="end">PCPG</text>
<path class="w" d="M574 420.7V421.4M574 423.6V424.2"/><rect x="572.2" y="421.4" width="3.6" height="2.2" fill="#4DBBD5" class="b"/><path class="m" d="M572.2 422.4h3.6"/>
<path class="w" d="M578 413.5V419.5M578 427.2V433"/><rect x="576.2" y="419.5" width="3.6" height="7.7" fill="#E64B35" class="b"/><path class="m" d="M576.2 423.1h3.6"/>
<line x1="585.34" x2="585.34" y1="474" y2="476.4" class="tk"/>
<text transform="translate(587.14,480.2) rotate(-45) scale(0.1)" class="xl" text-anchor="end">PRAD</text>
<path class="w" d="M583.3 410.5V420.5M583.3 425.8V433"/><rect x="581.5" y="420.5" width="3.6" height="5.3" fill="#4DBBD5" class="b"/><path class="m" d="M581.5 423h3.6"/>
<path class="o p" d="M587.3 436.6h0M587.3 438.1h0M587.3 441.1h0M587.3 442.9h0M587.3 445.7h0"/><path class="w" d="M587.3 405.3V418M587.3 425V435.1"/><rect x="585.5" y="418" width="3.6" height="7" fill="#E64B35" class="b"/><path class="m" d="M585.5 421.4h3.6"/>
<path d="M583.1 398v-.8h4.4v1.5" class="br"/>
<text transform="translate(585.34,397.88) scale(0.1)" class="st" text-anchor="middle">**</text>
<line x1="594.71" x2="594.71" y1="474" y2="476.4" class="tk"/>
<text transform="translate(596.51,480.2) rotate(-45) scale(0.1)" class="xl" text-anchor="end">READ</text>
<path class="o p" d="M592.7 413.9h0M592.7 412.6h0M592.7 410.7h0M592.7 408.7h0"/><path class="w" d="M592.7 415.6V425.2M592.7 432.4V443.2"/><rect x="590.9" y="425.2" width="3.6" height="7.2" fill="#4DBBD5" class="b"/><path class="m" d="M590.9 428.4h3.6"/>
<path class="o p" d="M596.7 439.5h0M596.7 441.5h0M596.7 444.2h0M596.7 446.8h0M596.7 449.6h0M596.7 452h0M596.7 454.8h0"/><path class="w" d="M596.7 409.4V420.1M596.7 427.4V437.1"/><rect x="594.9" y="420.1" width="3.6" height="7.3" fill="#E64B35" class="b"/><path class="m" d="M594.9 423.4h3.6"/>
<path class="o" style="stroke-opacity:1;stroke-width:1.5" d="M592.7 471.2h0"/>
<path d="M592.5 407.6v-.8h4.4v1.5" class="br"/>
<text transform="translate(594.71,407.49) scale(0.1)" class="st" text-anchor="middle">***</text>
<line x1="604.09" x2="604.09" y1="474" y2="476.4" class="tk"/>
<text transform="translate(605.89,480.2) rotate(-45) scale(0.1)" class="xl" text-anchor="end">SARC</text>
<path class="w" d="M602.1 417.6V421.1M602.1 427.4V429.9"/><rect x="600.3" y="421.1" width="3.6" height="6.3" fill="#4DBBD5" class="b"/><path class="m" d="M600.3 424.2h3.6"/>
<path class="o p" d="M606.1 445.8h0"/><path class="w" d="M606.1 409.4V420.7M606.1 430.3V444.2"/><rect x="604.3" y="420.7" width="3.6" height="9.6" fill="#E64B35" class="b"/><path class="m" d="M604.3 425.2h3.6"/>
<line x1="613.46" x2="613.46" y1="474" y2="476.4" class="tk"/>
<text transform="translate(615.26,480.2) rotate(-45) scale(0.1)" class="xl" text-anchor="end">SKCM</text>
<path class="w" d="M611.5 407.4V425.8M611.5 435.4V452.4"/><rect x="609.7" y="425.8" width="3.6" height="9.6" fill="#4DBBD5" class="b"/><path class="m" d="M609.7 430.3h3.6"/>
<path class="o p" d="M615.5 450.4h0M615.5 452.8h0M615.5 456.3h0M615.5 457.7h0M615.5 460.7h0"/><path class="w" d="M615.5 408.4V421.7M615.5 431.5V448.3"/><rect x="613.7" y="421.7" width="3.6" height="9.8" fill="#E64B35" class="b"/><path class="m" d="M613.7 426.4h3.6"/>
<path d="M611.3 404.1v-.8h4.4v1.5" class="br"/>
<text transform="translate(613.46,403.95) scale(0.1)" class="st" text-anchor="middle">***</text>
<line x1="622.83" x2="622.83" y1="474" y2="476.4" class="tk"/>
<text transform="translate(624.63,480.2) rotate(-45) scale(0.1)" class="xl" text-anchor="end">STAD</text>
<path class="w" d="M620.8 421.7V428.1M620.8 435.4V443.2"/><rect x="619" y="428.1" width="3.6" height="7.3" fill="#4DBBD5" class="b"/><path class="m" d="M619 432h3.6"/>
<path class="o p" d="M624.8 445.2h0"/><path class="w" d="M624.8 411.5V426M624.8 433.6V444.2"/><rect x="623" y="426" width="3.6" height="7.6" fill="#E64B35" class="b"/><path class="m" d="M623 429.8h3.6"/>
<path class="o" style="stroke-opacity:1;stroke-width:1.5" d="M620.8 471.2h0"/>
<path d="M620.6 410.2v-.8h4.4v1.5" class="br"/>
<text transform="translate(622.83,410.14) scale(0.1)" class="st" text-anchor="middle">***</text>
<line x1="632.21" x2="632.21" y1="474" y2="476.4" class="tk"/>
<text transform="translate(634.01,480.2) rotate(-45) scale(0.1)" class="xl" text-anchor="end">TGCT</text>
<path class="o p" d="M630.2 424.8h0M630.2 421.9h0"/><path class="w" d="M630.2 426.9V430.3M630.2 434.8V439.2"/><rect x="628.4" y="430.3" width="3.6" height="4.5" fill="#4DBBD5" class="b"/><path class="m" d="M628.4 432.5h3.6"/>
<path class="o p" d="M634.2 441.2h0M634.2 443.3h0M634.2 447.1h0M634.2 449.8h0"/><path class="w" d="M634.2 416.6V427.1M634.2 432.5V439.2"/><rect x="632.4" y="427.1" width="3.6" height="5.4" fill="#E64B35" class="b"/><path class="m" d="M632.4 429.5h3.6"/>
<path d="M630 415.3v-.8h4.4v1.5" class="br"/>
<text transform="translate(632.21,415.22) scale(0.1)" class="st" text-anchor="middle">***</text>
<line x1="641.58" x2="641.58" y1="474" y2="476.4" class="tk"/>
<text transform="translate(643.38,480.2) rotate(-45) scale(0.1)" class="xl" text-anchor="end">THCA</text>
<path class="o p" d="M639.6 434.3h0"/><path class="w" d="M639.6 410.5V418.5M639.6 423V433"/><rect x="637.8" y="418.5" width="3.6" height="4.5" fill="#4DBBD5" class="b"/><path class="m" d="M637.8 420.7h3.6"/>
<path class="w" d="M643.6 409.4V418.3M643.6 423.4V432"/><rect x="641.8" y="418.3" width="3.6" height="5.1" fill="#E64B35" class="b"/><path class="m" d="M641.8 420.7h3.6"/>
<path class="o" style="stroke-opacity:0.75" d="M639.6 471.2h0"/>
<line x1="650.96" x2="650.96" y1="474" y2="476.4" class="tk"/>
<text transform="translate(652.76,480.2) rotate(-45) scale(0.1)" class="xl" text-anchor="end">THYM</text>
<path class="w" d="M649 417.6V429.3M649 456.9V470.4"/><rect x="647.2" y="429.3" width="3.6" height="27.6" fill="#4DBBD5" class="b"/><path class="m" d="M647.2 447.9h3.6"/>
<path class="o p" d="M653 443.1h0M653 445.7h0M653 448.4h0M653 450.6h0M653 453.3h0M653 456.2h0M653 459.2h0M653 459.9h0M653 463.4h0M653 464.8h0"/><path class="w" d="M653 415.6V424.2M653 432.4V442.1"/><rect x="651.2" y="424.2" width="3.6" height="8.2" fill="#E64B35" class="b"/><path class="m" d="M651.2 427.9h3.6"/>
<path d="M648.8 407.6v-.8h4.4v1.5" class="br"/>
<text transform="translate(650.96,407.49) scale(0.1)" class="st" text-anchor="middle">***</text>
<line x1="660.33" x2="660.33" y1="474" y2="476.4" class="tk"/>
<text transform="translate(662.13,480.2) rotate(-45) scale(0.1)" class="xl" text-anchor="end">UCEC</text>
<path class="w" d="M658.3 417.6V422.4M658.3 426.4V431"/><rect x="656.5" y="422.4" width="3.6" height="4.1" fill="#4DBBD5" class="b"/><path class="m" d="M656.5 424.3h3.6"/>
<path class="o p" d="M662.3 447h0M662.3 451.3h0M662.3 453.5h0M662.3 457h0M662.3 458.6h0M662.3 460.4h0"/><path class="w" d="M662.3 408.4V421.4M662.3 432.4V446.2"/><rect x="660.5" y="421.4" width="3.6" height="11.1" fill="#E64B35" class="b"/><path class="m" d="M660.5 425.8h3.6"/>
<path d="M658.1 407.6v-.8h4.4v1.5" class="br"/>
<text transform="translate(660.33,407.49) scale(0.1)" class="st" text-anchor="middle">*</text>
<line x1="669.7" x2="669.7" y1="474" y2="476.4" class="tk"/>
<text transform="translate(671.5,480.2) rotate(-45) scale(0.1)" class="xl" text-anchor="end">UCS</text>
<path class="o p" d="M667.7 432h0"/><path class="w" d="M667.7 419.7V422.1M667.7 426.2V431"/><rect x="665.9" y="422.1" width="3.6" height="4.1" fill="#4DBBD5" class="b"/><path class="m" d="M665.9 424.2h3.6"/>
<path class="w" d="M671.7 414.6V421.7M671.7 430.3V437.1"/><rect x="669.9" y="421.7" width="3.6" height="8.6" fill="#E64B35" class="b"/><path class="m" d="M669.9 425.8h3.6"/>
<path d="M667.5 413.9v-.8h4.4v1.5" class="br"/>
<text transform="translate(669.7,413.79) scale(0.1)" class="st" text-anchor="middle">*</text>
<line x1="679.08" x2="679.08" y1="474" y2="476.4" class="tk"/>
<text transform="translate(680.88,480.2) rotate(-45) scale(0.1)" class="xl" text-anchor="end">UVM</text>
<path class="w" d="M679.1 419.7V429.9M679.1 445.5V463.7"/><rect x="675.3" y="429.9" width="7.6" height="15.6" fill="#E64B35" class="b"/><path class="m" d="M675.3 437.5h7.6"/>

<rect x="576.3" y="2.2" width="9" height="6.8" fill="#4DBBD5" class="b"/><line x1="576.3" x2="585.3" y1="5.6" y2="5.6" class="m"/><line x1="580.8" x2="580.8" y1="0.8" y2="2.2" class="w"/><line x1="580.8" x2="580.8" y1="9" y2="10.4" class="w"/>
<text x="592.2" y="9.3" class="lg">Normal</text>
<rect x="636.6" y="2.2" width="9" height="6.8" fill="#E64B35" class="b"/><line x1="636.6" x2="645.6" y1="5.6" y2="5.6" class="m"/><line x1="641.1" x2="641.1" y1="0.8" y2="2.2" class="w"/><line x1="641.1" x2="641.1" y1="9" y2="10.4" class="w"/>
<text x="653.2" y="9.3" class="lg">Tumor</text>

</svg>
</body></html>
